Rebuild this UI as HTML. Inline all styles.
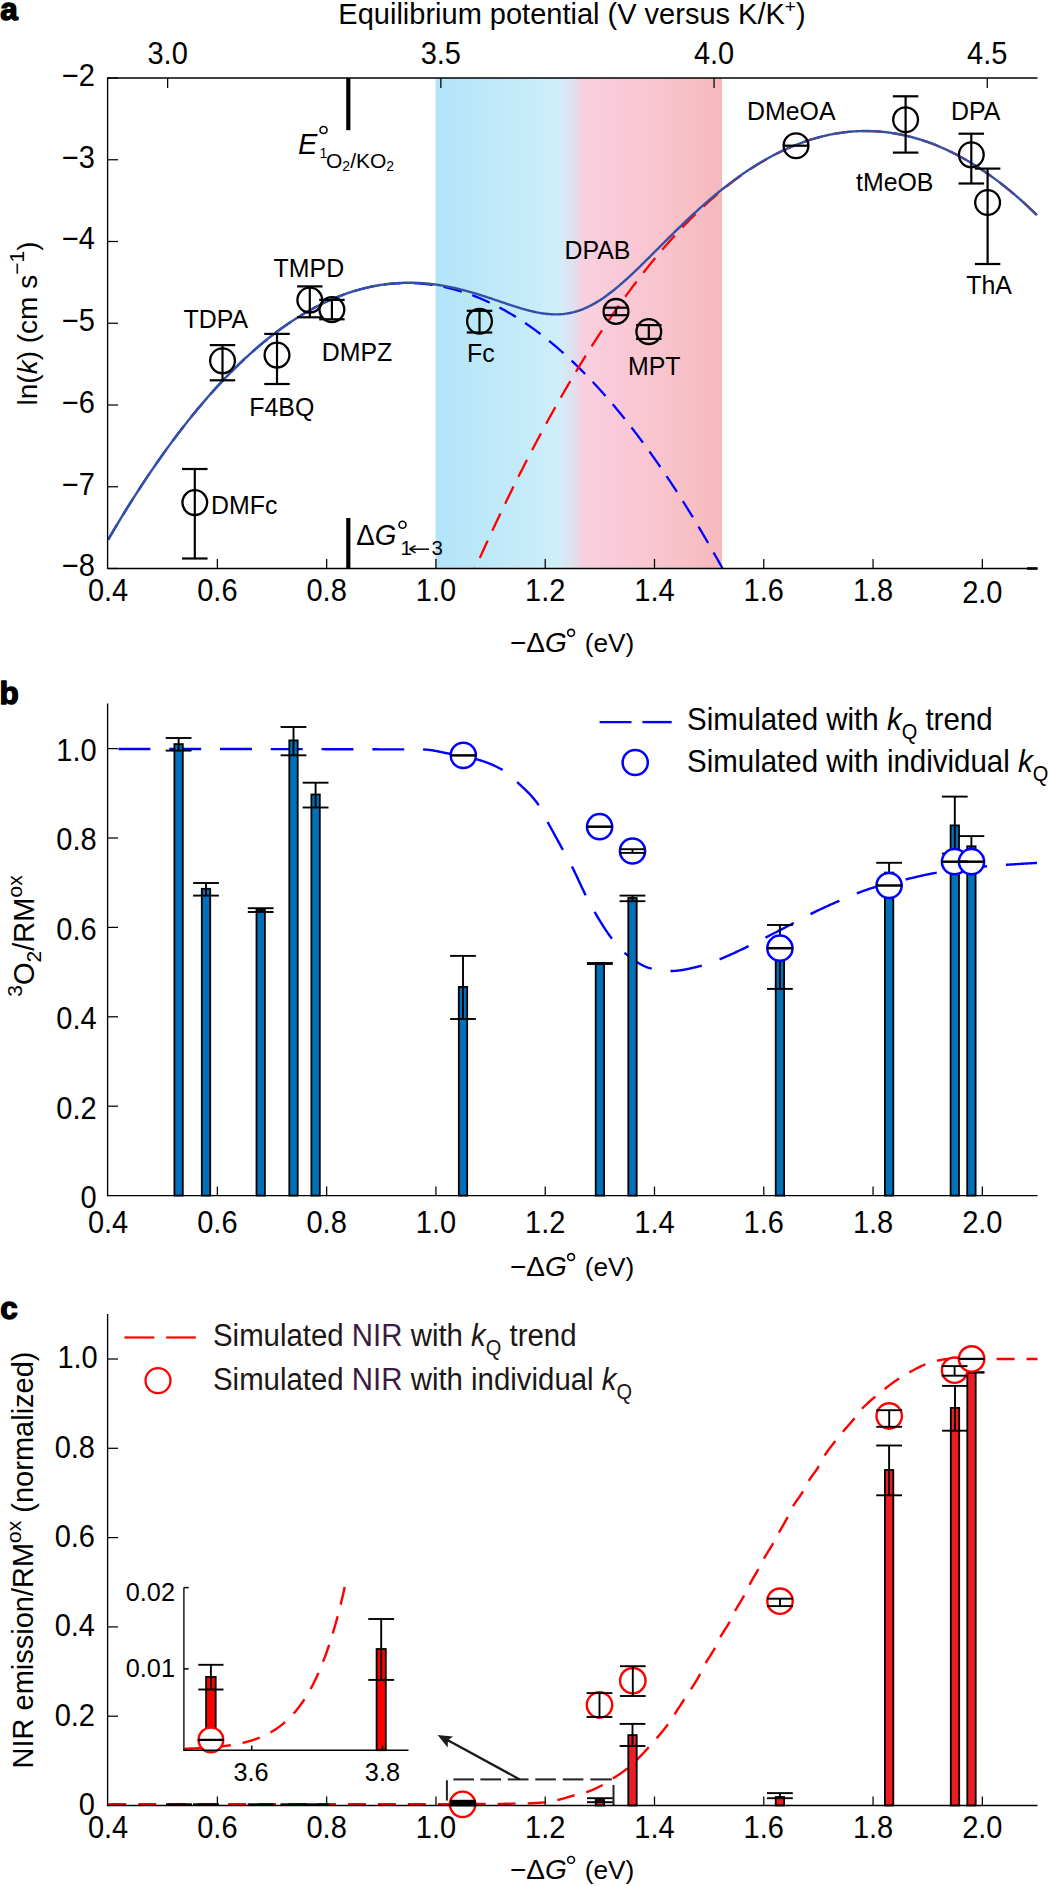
<!DOCTYPE html>
<html><head><meta charset="utf-8"><style>
html,body{margin:0;padding:0;background:#fff;}
svg{display:block;font-family:"Liberation Sans", sans-serif;}
</style></head><body>
<svg width="1048" height="1886" viewBox="0 0 1048 1886">
<rect width="1048" height="1886" fill="#fff"/>
<defs>
<linearGradient id="band" gradientUnits="userSpaceOnUse" x1="435.5" x2="722" y1="0" y2="0">
<stop offset="0" stop-color="#b2e4f8"/>
<stop offset="0.155" stop-color="#bce8f8"/>
<stop offset="0.295" stop-color="#c4eaf9"/>
<stop offset="0.42" stop-color="#cfeefa"/>
<stop offset="0.431" stop-color="#d0eef9"/>
<stop offset="0.4555" stop-color="#d8e7f4"/>
<stop offset="0.484" stop-color="#e1dfee"/>
<stop offset="0.5" stop-color="#ecd6e7"/>
<stop offset="0.516" stop-color="#f9cfe0"/>
<stop offset="0.645" stop-color="#f9c9d7"/>
<stop offset="0.8185" stop-color="#f8c3cb"/>
<stop offset="1" stop-color="#f6b8bb"/>
</linearGradient>
</defs>
<rect x="435.5" y="78" width="286.5" height="490.5" fill="url(#band)"/>
<path d="M108.1 539.72 L108.51 539.02 L108.92 538.32 L109.33 537.62 L109.74 536.92 L110.15 536.22 L110.56 535.52 L110.97 534.82 L111.38 534.13 L111.79 533.43 L112.2 532.74 L112.61 532.05 L113.02 531.35 L113.43 530.66 L113.83 529.97 L114.24 529.28 L114.65 528.6 L115.06 527.91 L115.47 527.22 L115.88 526.54 L116.29 525.85 L116.7 525.17 L117.11 524.49 L117.52 523.81 L117.93 523.12 L118.34 522.45 L118.75 521.77 L119.16 521.09 L119.57 520.41 L119.98 519.74 L120.39 519.06 L120.8 518.39 L121.21 517.72 L121.62 517.04 L122.03 516.37 L122.44 515.7 L122.85 515.03 L123.26 514.37 L123.67 513.7 L124.08 513.03 L124.49 512.37 L124.89 511.7 L125.3 511.04 L125.71 510.38 L126.12 509.72 L126.53 509.06 L126.94 508.4 L127.35 507.74 L127.76 507.08 L128.17 506.43 L128.58 505.77 L128.99 505.12 L129.4 504.46 L129.81 503.81 L130.22 503.16 L130.63 502.51 L131.04 501.86 L131.45 501.21 L131.86 500.56 L132.27 499.92 L132.68 499.27 L133.09 498.63 L133.5 497.98 L133.91 497.34 L134.32 496.7 L134.73 496.06 L135.14 495.42 L135.55 494.78 L135.95 494.14 L136.36 493.5 L136.77 492.87 L137.18 492.23 L137.59 491.6 L138 490.96 L138.41 490.33 L138.82 489.7 L139.23 489.07 L139.64 488.44 L140.05 487.81 L140.46 487.18 L140.87 486.56 L141.28 485.93 L141.69 485.31 L142.1 484.68 L142.51 484.06 L142.92 483.44 L143.33 482.82 L143.74 482.2 L144.15 481.58 L144.56 480.96 L144.97 480.34 L145.38 479.73 L145.79 479.11 L146.2 478.5 L146.61 477.89 L147.01 477.27 L147.42 476.66 L147.83 476.05 L148.24 475.44 L148.65 474.84 L149.06 474.23 L149.47 473.62 L149.88 473.02 L150.29 472.41 L150.7 471.81 L151.11 471.21 L151.52 470.6 L151.93 470 L152.34 469.4 L152.75 468.81 L153.16 468.21 L153.57 467.61 L153.98 467.02 L154.39 466.42 L154.8 465.83 L155.21 465.23 L155.62 464.64 L156.03 464.05 L156.44 463.46 L156.85 462.87 L157.26 462.29 L157.67 461.7 L158.07 461.11 L158.48 460.53 L158.89 459.94 L159.3 459.36 L159.71 458.78 L160.12 458.2 L160.53 457.62 L160.94 457.04 L161.35 456.46 L161.76 455.88 L162.17 455.3 L162.58 454.73 L162.99 454.15 L163.4 453.58 L163.81 453.01 L164.22 452.44 L164.63 451.87 L165.04 451.3 L165.45 450.73 L165.86 450.16 L166.27 449.59 L166.68 449.03 L167.09 448.46 L167.5 447.9 L167.91 447.34 L168.32 446.77 L168.73 446.21 L169.13 445.65 L169.54 445.09 L169.95 444.53 L170.36 443.98 L170.77 443.42 L171.18 442.87 L171.59 442.31 L172 441.76 L172.41 441.21 L172.82 440.65 L173.23 440.1 L173.64 439.55 L174.05 439.01 L174.46 438.46 L174.87 437.91 L175.28 437.37 L175.69 436.82 L176.1 436.28 L176.51 435.74 L176.92 435.19 L177.33 434.65 L177.74 434.11 L178.15 433.57 L178.56 433.04 L178.97 432.5 L179.38 431.96 L179.79 431.43 L180.19 430.89 L180.6 430.36 L181.01 429.83 L181.42 429.3 L181.83 428.77 L182.24 428.24 L182.65 427.71 L183.06 427.18 L183.47 426.66 L183.88 426.13 L184.29 425.61 L184.7 425.08 L185.11 424.56 L185.52 424.04 L185.93 423.52 L186.34 423 L186.75 422.48 L187.16 421.96 L187.57 421.45 L187.98 420.93 L188.39 420.41 L188.8 419.9 L189.21 419.39 L189.62 418.88 L190.03 418.37 L190.44 417.86 L190.85 417.35 L191.25 416.84 L191.66 416.33 L192.07 415.82 L192.48 415.32 L192.89 414.82 L193.3 414.31 L193.71 413.81 L194.12 413.31 L194.53 412.81 L194.94 412.31 L195.35 411.81 L195.76 411.31 L196.17 410.82 L196.58 410.32 L196.99 409.83 L197.4 409.33 L197.81 408.84 L198.22 408.35 L198.63 407.86 L199.04 407.37 L199.45 406.88 L199.86 406.39 L200.27 405.9 L200.68 405.42 L201.09 404.93 L201.5 404.45 L201.91 403.97 L202.31 403.48 L202.72 403 L203.13 402.52 L203.54 402.04 L203.95 401.57 L204.36 401.09 L204.77 400.61 L205.18 400.14 L205.59 399.66 L206 399.19 L206.41 398.72 L206.82 398.24 L207.23 397.77 L207.64 397.3 L208.05 396.84 L208.46 396.37 L208.87 395.9 L209.28 395.44 L209.69 394.97 L210.1 394.51 L210.51 394.04 L210.92 393.58 L211.33 393.12 L211.74 392.66 L212.15 392.2 L212.56 391.75 L212.97 391.29 L213.37 390.83 L213.78 390.38 L214.19 389.92 L214.6 389.47 L215.01 389.02 L215.42 388.57 L215.83 388.12 L216.24 387.67 L216.65 387.22 L217.06 386.77 L217.47 386.32 L217.88 385.88 L218.29 385.43 L218.7 384.99 L219.11 384.55 L219.52 384.11 L219.93 383.67 L220.34 383.23 L220.75 382.79 L221.16 382.35 L221.57 381.91 L221.98 381.48 L222.39 381.04 L222.8 380.61 L223.21 380.18 L223.62 379.74 L224.03 379.31 L224.43 378.88 L224.84 378.45 L225.25 378.03 L225.66 377.6 L226.07 377.17 L226.48 376.75 L226.89 376.32 L227.3 375.9 L227.71 375.48 L228.12 375.06 L228.53 374.63 L228.94 374.22 L229.35 373.8 L229.76 373.38 L230.17 372.96 L230.58 372.55 L230.99 372.13 L231.4 371.72 L231.81 371.31 L232.22 370.89 L232.63 370.48 L233.04 370.07 L233.45 369.66 L233.86 369.26 L234.27 368.85 L234.68 368.44 L235.09 368.04 L235.49 367.63 L235.9 367.23 L236.31 366.83 L236.72 366.43 L237.13 366.03 L237.54 365.63 L237.95 365.23 L238.36 364.83 L238.77 364.44 L239.18 364.04 L239.59 363.65 L240 363.25 L240.41 362.86 L240.82 362.47 L241.23 362.08 L241.64 361.69 L242.05 361.3 L242.46 360.91 L242.87 360.53 L243.28 360.14 L243.69 359.76 L244.1 359.37 L244.51 358.99 L244.92 358.61 L245.33 358.23 L245.74 357.85 L246.15 357.47 L246.55 357.09 L246.96 356.71 L247.37 356.34 L247.78 355.96 L248.19 355.59 L248.6 355.21 L249.01 354.84 L249.42 354.47 L249.83 354.1 L250.24 353.73 L250.65 353.36 L251.06 352.99 L251.47 352.63 L251.88 352.26 L252.29 351.9 L252.7 351.53 L253.11 351.17 L253.52 350.81 L253.93 350.45 L254.34 350.09 L254.75 349.73 L255.16 349.37 L255.57 349.02 L255.98 348.66 L256.39 348.3 L256.8 347.95 L257.2 347.6 L257.61 347.25 L258.02 346.89 L258.43 346.54 L258.84 346.19 L259.25 345.85 L259.66 345.5 L260.07 345.15 L260.48 344.81 L260.89 344.46 L261.3 344.12 L261.71 343.78 L262.12 343.44 L262.53 343.1 L262.94 342.76 L263.35 342.42 L263.76 342.08 L264.17 341.74 L264.58 341.41 L264.99 341.07 L265.4 340.74 L265.81 340.41 L266.22 340.07 L266.63 339.74 L267.04 339.41 L267.45 339.08 L267.86 338.76 L268.26 338.43 L268.67 338.1 L269.08 337.78 L269.49 337.45 L269.9 337.13 L270.31 336.81 L270.72 336.49 L271.13 336.17 L271.54 335.85 L271.95 335.53 L272.36 335.21 L272.77 334.9 L273.18 334.58 L273.59 334.27 L274 333.95 L274.41 333.64 L274.82 333.33 L275.23 333.02 L275.64 332.71 L276.05 332.4 L276.46 332.09 L276.87 331.78 L277.28 331.48 L277.69 331.17 L278.1 330.87 L278.51 330.57 L278.92 330.27 L279.32 329.96 L279.73 329.66 L280.14 329.36 L280.55 329.07 L280.96 328.77 L281.37 328.47 L281.78 328.18 L282.19 327.88 L282.6 327.59 L283.01 327.3 L283.42 327.01 L283.83 326.72 L284.24 326.43 L284.65 326.14 L285.06 325.85 L285.47 325.56 L285.88 325.28 L286.29 324.99 L286.7 324.71 L287.11 324.43 L287.52 324.15 L287.93 323.87 L288.34 323.59 L288.75 323.31 L289.16 323.03 L289.57 322.75 L289.98 322.48 L290.38 322.2 L290.79 321.93 L291.2 321.65 L291.61 321.38 L292.02 321.11 L292.43 320.84 L292.84 320.57 L293.25 320.3 L293.66 320.04 L294.07 319.77 L294.48 319.5 L294.89 319.24 L295.3 318.98 L295.71 318.71 L296.12 318.45 L296.53 318.19 L296.94 317.93 L297.35 317.67 L297.76 317.41 L298.17 317.16 L298.58 316.9 L298.99 316.65 L299.4 316.39 L299.81 316.14 L300.22 315.89 L300.63 315.64 L301.04 315.39 L301.44 315.14 L301.85 314.89 L302.26 314.64 L302.67 314.4 L303.08 314.15 L303.49 313.91 L303.9 313.67 L304.31 313.42 L304.72 313.18 L305.13 312.94 L305.54 312.7 L305.95 312.46 L306.36 312.23 L306.77 311.99 L307.18 311.75 L307.59 311.52 L308 311.29 L308.41 311.05 L308.82 310.82 L309.23 310.59 L309.64 310.36 L310.05 310.13 L310.46 309.9 L310.87 309.68 L311.28 309.45 L311.69 309.23 L312.1 309 L312.5 308.78 L312.91 308.56 L313.32 308.34 L313.73 308.12 L314.14 307.9 L314.55 307.68 L314.96 307.46 L315.37 307.25 L315.78 307.03 L316.19 306.82 L316.6 306.6 L317.01 306.39 L317.42 306.18 L317.83 305.97 L318.24 305.76 L318.65 305.55 L319.06 305.34 L319.47 305.14 L319.88 304.93 L320.29 304.73 L320.7 304.52 L321.11 304.32 L321.52 304.12 L321.93 303.92 L322.34 303.72 L322.75 303.52 L323.16 303.32 L323.56 303.12 L323.97 302.93 L324.38 302.73 L324.79 302.54 L325.2 302.34 L325.61 302.15 L326.02 301.96 L326.43 301.77 L326.84 301.58 L327.25 301.39 L327.66 301.21 L328.07 301.02 L328.48 300.83 L328.89 300.65 L329.3 300.47 L329.71 300.28 L330.12 300.1 L330.53 299.92 L330.94 299.74 L331.35 299.56 L331.76 299.38 L332.17 299.21 L332.58 299.03 L332.99 298.86 L333.4 298.68 L333.81 298.51 L334.22 298.34 L334.62 298.17 L335.03 298 L335.44 297.83 L335.85 297.66 L336.26 297.49 L336.67 297.33 L337.08 297.16 L337.49 297 L337.9 296.83 L338.31 296.67 L338.72 296.51 L339.13 296.35 L339.54 296.19 L339.95 296.03 L340.36 295.87 L340.77 295.72 L341.18 295.56 L341.59 295.41 L342 295.25 L342.41 295.1 L342.82 294.95 L343.23 294.8 L343.64 294.65 L344.05 294.5 L344.46 294.35 L344.87 294.2 L345.28 294.06 L345.68 293.91 L346.09 293.77 L346.5 293.63 L346.91 293.48 L347.32 293.34 L347.73 293.2 L348.14 293.06 L348.55 292.93 L348.96 292.79 L349.37 292.65 L349.78 292.52 L350.19 292.38 L350.6 292.25 L351.01 292.12 L351.42 291.98 L351.83 291.85 L352.24 291.72 L352.65 291.6 L353.06 291.47 L353.47 291.34 L353.88 291.22 L354.29 291.09 L354.7 290.97 L355.11 290.84 L355.52 290.72 L355.93 290.6 L356.34 290.48 L356.74 290.36 L357.15 290.24 L357.56 290.13 L357.97 290.01 L358.38 289.9 L358.79 289.78 L359.2 289.67 L359.61 289.56 L360.02 289.44 L360.43 289.33 L360.84 289.23 L361.25 289.12 L361.66 289.01 L362.07 288.9 L362.48 288.8 L362.89 288.69 L363.3 288.59 L363.71 288.49 L364.12 288.38 L364.53 288.28 L364.94 288.18 L365.35 288.09 L365.76 287.99 L366.17 287.89 L366.58 287.79 L366.99 287.7 L367.4 287.61 L367.8 287.51 L368.21 287.42 L368.62 287.33 L369.03 287.24 L369.44 287.15 L369.85 287.06 L370.26 286.98 L370.67 286.89 L371.08 286.8 L371.49 286.72 L371.9 286.64 L372.31 286.55 L372.72 286.47 L373.13 286.39 L373.54 286.31 L373.95 286.23 L374.36 286.16 L374.77 286.08 L375.18 286 L375.59 285.93 L376 285.86 L376.41 285.78 L376.82 285.71 L377.23 285.64 L377.64 285.57 L378.05 285.5 L378.46 285.43 L378.86 285.37 L379.27 285.3 L379.68 285.23 L380.09 285.17 L380.5 285.11 L380.91 285.05 L381.32 284.98 L381.73 284.92 L382.14 284.86 L382.55 284.81 L382.96 284.75 L383.37 284.69 L383.78 284.64 L384.19 284.58 L384.6 284.53 L385.01 284.48 L385.42 284.42 L385.83 284.37 L386.24 284.32 L386.65 284.28 L387.06 284.23 L387.47 284.18 L387.88 284.14 L388.29 284.09 L388.7 284.05 L389.11 284 L389.52 283.96 L389.92 283.92 L390.33 283.88 L390.74 283.84 L391.15 283.8 L391.56 283.77 L391.97 283.73 L392.38 283.69 L392.79 283.66 L393.2 283.63 L393.61 283.6 L394.02 283.56 L394.43 283.53 L394.84 283.5 L395.25 283.48 L395.66 283.45 L396.07 283.42 L396.48 283.4 L396.89 283.37 L397.3 283.35 L397.71 283.32 L398.12 283.3 L398.53 283.28 L398.94 283.26 L399.35 283.24 L399.76 283.23 L400.17 283.21 L400.58 283.19 L400.98 283.18 L401.39 283.16 L401.8 283.15 L402.21 283.14 L402.62 283.13 L403.03 283.12 L403.44 283.11 L403.85 283.1 L404.26 283.09 L404.67 283.09 L405.08 283.08 L405.49 283.08 L405.9 283.07 L406.31 283.07 L406.72 283.07 L407.13 283.07 L407.54 283.07 L407.95 283.07 L408.36 283.07 L408.77 283.08 L409.18 283.08 L409.59 283.09 L410 283.09 L410.41 283.1 L410.82 283.11 L411.23 283.12 L411.64 283.13 L412.04 283.14 L412.45 283.15 L412.86 283.16 L413.27 283.18 L413.68 283.19 L414.09 283.21 L414.5 283.22 L414.91 283.24 L415.32 283.26 L415.73 283.28 L416.14 283.3 L416.55 283.32 L416.96 283.34 L417.37 283.37 L417.78 283.39 L418.19 283.42 L418.6 283.44 L419.01 283.47 L419.42 283.5 L419.83 283.53 L420.24 283.56 L420.65 283.59 L421.06 283.62 L421.47 283.66 L421.88 283.69 L422.29 283.72 L422.7 283.76 L423.1 283.8 L423.51 283.84 L423.92 283.87 L424.33 283.91 L424.74 283.96 L425.15 284 L425.56 284.04 L425.97 284.08 L426.38 284.13 L426.79 284.17 L427.2 284.22 L427.61 284.27 L428.02 284.32 L428.43 284.37 L428.84 284.42 L429.25 284.47 L429.66 284.52 L430.07 284.57 L430.48 284.63 L430.89 284.68 L431.3 284.74 L431.71 284.8 L432.12 284.86 L432.53 284.91 L432.94 284.97 L433.35 285.04 L433.76 285.1 L434.16 285.16 L434.57 285.22 L434.98 285.29 L435.39 285.36 L435.8 285.42 L436.21 285.49 L436.62 285.56 L437.03 285.63 L437.44 285.7 L437.85 285.77 L438.26 285.84 L438.67 285.92 L439.08 285.99 L439.49 286.07 L439.9 286.14 L440.31 286.22 L440.72 286.3 L441.13 286.38 L441.54 286.46 L441.95 286.54 L442.36 286.62 L442.77 286.71 L443.18 286.79 L443.59 286.88 L444 286.96 L444.41 287.05 L444.82 287.14 L445.22 287.23 L445.63 287.32 L446.04 287.41 L446.45 287.5 L446.86 287.59 L447.27 287.69 L447.68 287.78 L448.09 287.88 L448.5 287.97 L448.91 288.07 L449.32 288.17 L449.73 288.27 L450.14 288.37 L450.55 288.47 L450.96 288.57 L451.37 288.68 L451.78 288.78 L452.19 288.89 L452.6 288.99 L453.01 289.1 L453.42 289.21 L453.83 289.32 L454.24 289.43 L454.65 289.54 L455.06 289.65 L455.47 289.76 L455.88 289.88 L456.28 289.99 L456.69 290.11 L457.1 290.23 L457.51 290.34 L457.92 290.46 L458.33 290.58 L458.74 290.7 L459.15 290.83 L459.56 290.95 L459.97 291.07 L460.38 291.2 L460.79 291.32 L461.2 291.45 L461.61 291.58 L462.02 291.7 L462.43 291.83 L462.84 291.96 L463.25 292.1 L463.66 292.23 L464.07 292.36 L464.48 292.5 L464.89 292.63 L465.3 292.77 L465.71 292.9 L466.12 293.04 L466.53 293.18 L466.94 293.32 L467.34 293.46 L467.75 293.6 L468.16 293.75 L468.57 293.89 L468.98 294.04 L469.39 294.18 L469.8 294.33 L470.21 294.48 L470.62 294.62 L471.03 294.77 L471.44 294.93 L471.85 295.08 L472.26 295.23 L472.67 295.38 L473.08 295.54 L473.49 295.69 L473.9 295.85 L474.31 296.01 L474.72 296.17 L475.13 296.32 L475.54 296.48 L475.95 296.65 L476.36 296.81 L476.77 296.97 L477.18 297.14 L477.59 297.3 L478 297.47 L478.4 297.63 L478.81 297.8 L479.22 297.97 L479.63 298.14 L480.04 298.31 L480.45 298.48 L480.86 298.66 L481.27 298.83 L481.68 299 L482.09 299.18 L482.5 299.36 L482.91 299.53 L483.32 299.71 L483.73 299.89 L484.14 300.07 L484.55 300.25 L484.96 300.44 L485.37 300.62 L485.78 300.8 L486.19 300.99 L486.6 301.18 L487.01 301.36 L487.42 301.55 L487.83 301.74 L488.24 301.93 L488.65 302.12 L489.06 302.31 L489.46 302.51 L489.87 302.7 L490.28 302.9 L490.69 303.09 L491.1 303.29 L491.51 303.49 L491.92 303.69 L492.33 303.88 L492.74 304.09 L493.15 304.29 L493.56 304.49 L493.97 304.69 L494.38 304.9 L494.79 305.1 L495.2 305.31 L495.61 305.52 L496.02 305.73 L496.43 305.94 L496.84 306.15 L497.25 306.36 L497.66 306.57 L498.07 306.78 L498.48 307 L498.89 307.21 L499.3 307.43 L499.71 307.65 L500.12 307.86 L500.52 308.08 L500.93 308.3 L501.34 308.52 L501.75 308.74 L502.16 308.97 L502.57 309.19 L502.98 309.42 L503.39 309.64 L503.8 309.87 L504.21 310.1 L504.62 310.33 L505.03 310.55 L505.44 310.79 L505.85 311.02 L506.26 311.25 L506.67 311.48 L507.08 311.72 L507.49 311.95 L507.9 312.19 L508.31 312.43 L508.72 312.66 L509.13 312.9 L509.54 313.14 L509.95 313.39 L510.36 313.63 L510.77 313.87 L511.18 314.11 L511.58 314.36 L511.99 314.61 L512.4 314.85 L512.81 315.1 L513.22 315.35 L513.63 315.6 L514.04 315.85 L514.45 316.1 L514.86 316.35 L515.27 316.61 L515.68 316.86 L516.09 317.12 L516.5 317.37 L516.91 317.63 L517.32 317.89 L517.73 318.15 L518.14 318.41 L518.55 318.67 L518.96 318.93 L519.37 319.2 L519.78 319.46 L520.19 319.73 L520.6 319.99 L521.01 320.26 L521.42 320.53 L521.83 320.8 L522.24 321.07 L522.64 321.34 L523.05 321.61 L523.46 321.88 L523.87 322.16 L524.28 322.43 L524.69 322.71 L525.1 322.99 L525.51 323.26 L525.92 323.54 L526.33 323.82 L526.74 324.1 L527.15 324.38 L527.56 324.67 L527.97 324.95 L528.38 325.23 L528.79 325.52 L529.2 325.81 L529.61 326.09 L530.02 326.38 L530.43 326.67 L530.84 326.96 L531.25 327.25 L531.66 327.55 L532.07 327.84 L532.48 328.13 L532.89 328.43 L533.3 328.72 L533.7 329.02 L534.11 329.32 L534.52 329.62 L534.93 329.92 L535.34 330.22 L535.75 330.52 L536.16 330.82 L536.57 331.13 L536.98 331.43 L537.39 331.74 L537.8 332.04 L538.21 332.35 L538.62 332.66 L539.03 332.97 L539.44 333.28 L539.85 333.59 L540.26 333.9 L540.67 334.22 L541.08 334.53 L541.49 334.85 L541.9 335.16 L542.31 335.48 L542.72 335.8 L543.13 336.12 L543.54 336.44 L543.95 336.76 L544.36 337.08 L544.76 337.4 L545.17 337.73 L545.58 338.05 L545.99 338.38 L546.4 338.71 L546.81 339.03 L547.22 339.36 L547.63 339.69 L548.04 340.02 L548.45 340.35 L548.86 340.69 L549.27 341.02 L549.68 341.36 L550.09 341.69 L550.5 342.03 L550.91 342.36 L551.32 342.7 L551.73 343.04 L552.14 343.38 L552.55 343.72 L552.96 344.07 L553.37 344.41 L553.78 344.75 L554.19 345.1 L554.6 345.45 L555.01 345.79 L555.41 346.14 L555.82 346.49 L556.23 346.84 L556.64 347.19 L557.05 347.54 L557.46 347.9 L557.87 348.25 L558.28 348.6 L558.69 348.96 L559.1 349.32 L559.51 349.67 L559.92 350.03 L560.33 350.39 L560.74 350.75 L561.15 351.11 L561.56 351.48 L561.97 351.84 L562.38 352.2 L562.79 352.57 L563.2 352.94 L563.61 353.3 L564.02 353.67 L564.43 354.04 L564.84 354.41 L565.25 354.78 L565.66 355.16 L566.07 355.53 L566.47 355.9 L566.88 356.28 L567.29 356.65 L567.7 357.03 L568.11 357.41 L568.52 357.79 L568.93 358.17 L569.34 358.55 L569.75 358.93 L570.16 359.31 L570.57 359.7 L570.98 360.08 L571.39 360.47 L571.8 360.85 L572.21 361.24 L572.62 361.63 L573.03 362.02 L573.44 362.41 L573.85 362.8 L574.26 363.19 L574.67 363.59 L575.08 363.98 L575.49 364.38 L575.9 364.77 L576.31 365.17 L576.72 365.57 L577.13 365.97 L577.53 366.37 L577.94 366.77 L578.35 367.17 L578.76 367.57 L579.17 367.98 L579.58 368.38 L579.99 368.79 L580.4 369.19 L580.81 369.6 L581.22 370.01 L581.63 370.42 L582.04 370.83 L582.45 371.24 L582.86 371.65 L583.27 372.07 L583.68 372.48 L584.09 372.9 L584.5 373.31 L584.91 373.73 L585.32 374.15 L585.73 374.57 L586.14 374.99 L586.55 375.41 L586.96 375.83 L587.37 376.26 L587.78 376.68 L588.19 377.11 L588.59 377.53 L589 377.96 L589.41 378.39 L589.82 378.82 L590.23 379.25 L590.64 379.68 L591.05 380.11 L591.46 380.54 L591.87 380.97 L592.28 381.41 L592.69 381.85 L593.1 382.28 L593.51 382.72 L593.92 383.16 L594.33 383.6 L594.74 384.04 L595.15 384.48 L595.56 384.92 L595.97 385.37 L596.38 385.81 L596.79 386.26 L597.2 386.7 L597.61 387.15 L598.02 387.6 L598.43 388.05 L598.84 388.5 L599.25 388.95 L599.65 389.4 L600.06 389.85 L600.47 390.31 L600.88 390.76 L601.29 391.22 L601.7 391.67 L602.11 392.13 L602.52 392.59 L602.93 393.05 L603.34 393.51 L603.75 393.97 L604.16 394.44 L604.57 394.9 L604.98 395.36 L605.39 395.83 L605.8 396.3 L606.21 396.76 L606.62 397.23 L607.03 397.7 L607.44 398.17 L607.85 398.64 L608.26 399.12 L608.67 399.59 L609.08 400.06 L609.49 400.54 L609.9 401.01 L610.31 401.49 L610.71 401.97 L611.12 402.45 L611.53 402.93 L611.94 403.41 L612.35 403.89 L612.76 404.37 L613.17 404.86 L613.58 405.34 L613.99 405.83 L614.4 406.32 L614.81 406.8 L615.22 407.29 L615.63 407.78 L616.04 408.27 L616.45 408.76 L616.86 409.26 L617.27 409.75 L617.68 410.24 L618.09 410.74 L618.5 411.24 L618.91 411.73 L619.32 412.23 L619.73 412.73 L620.14 413.23 L620.55 413.73 L620.96 414.23 L621.37 414.74 L621.77 415.24 L622.18 415.75 L622.59 416.25 L623 416.76 L623.41 417.27 L623.82 417.78 L624.23 418.29 L624.64 418.8 L625.05 419.31 L625.46 419.82 L625.87 420.33 L626.28 420.85 L626.69 421.37 L627.1 421.88 L627.51 422.4 L627.92 422.92 L628.33 423.44 L628.74 423.96 L629.15 424.48 L629.56 425 L629.97 425.52 L630.38 426.05 L630.79 426.57 L631.2 427.1 L631.61 427.63 L632.02 428.16 L632.43 428.68 L632.83 429.21 L633.24 429.75 L633.65 430.28 L634.06 430.81 L634.47 431.34 L634.88 431.88 L635.29 432.42 L635.7 432.95 L636.11 433.49 L636.52 434.03 L636.93 434.57 L637.34 435.11 L637.75 435.65 L638.16 436.19 L638.57 436.74 L638.98 437.28 L639.39 437.83 L639.8 438.37 L640.21 438.92 L640.62 439.47 L641.03 440.02 L641.44 440.57 L641.85 441.12 L642.26 441.67 L642.67 442.23 L643.08 442.78 L643.49 443.33 L643.89 443.89 L644.3 444.45 L644.71 445.01 L645.12 445.56 L645.53 446.12 L645.94 446.69 L646.35 447.25 L646.76 447.81 L647.17 448.37 L647.58 448.94 L647.99 449.5 L648.4 450.07 L648.81 450.64 L649.22 451.21 L649.63 451.78 L650.04 452.35 L650.45 452.92 L650.86 453.49 L651.27 454.06 L651.68 454.64 L652.09 455.21 L652.5 455.79 L652.91 456.37 L653.32 456.95 L653.73 457.53 L654.14 458.11 L654.55 458.69 L654.95 459.27 L655.36 459.85 L655.77 460.44 L656.18 461.02 L656.59 461.61 L657 462.19 L657.41 462.78 L657.82 463.37 L658.23 463.96 L658.64 464.55 L659.05 465.14 L659.46 465.74 L659.87 466.33 L660.28 466.92 L660.69 467.52 L661.1 468.12 L661.51 468.71 L661.92 469.31 L662.33 469.91 L662.74 470.51 L663.15 471.11 L663.56 471.71 L663.97 472.32 L664.38 472.92 L664.79 473.53 L665.2 474.13 L665.61 474.74 L666.01 475.35 L666.42 475.96 L666.83 476.57 L667.24 477.18 L667.65 477.79 L668.06 478.4 L668.47 479.02 L668.88 479.63 L669.29 480.25 L669.7 480.87 L670.11 481.48 L670.52 482.1 L670.93 482.72 L671.34 483.34 L671.75 483.96 L672.16 484.59 L672.57 485.21 L672.98 485.83 L673.39 486.46 L673.8 487.09 L674.21 487.71 L674.62 488.34 L675.03 488.97 L675.44 489.6 L675.85 490.23 L676.26 490.86 L676.67 491.5 L677.07 492.13 L677.48 492.77 L677.89 493.4 L678.3 494.04 L678.71 494.68 L679.12 495.32 L679.53 495.96 L679.94 496.6 L680.35 497.24 L680.76 497.88 L681.17 498.52 L681.58 499.17 L681.99 499.82 L682.4 500.46 L682.81 501.11 L683.22 501.76 L683.63 502.41 L684.04 503.06 L684.45 503.71 L684.86 504.36 L685.27 505.01 L685.68 505.67 L686.09 506.32 L686.5 506.98 L686.91 507.64 L687.32 508.3 L687.73 508.96 L688.13 509.62 L688.54 510.28 L688.95 510.94 L689.36 511.6 L689.77 512.27 L690.18 512.93 L690.59 513.6 L691 514.26 L691.41 514.93 L691.82 515.6 L692.23 516.27 L692.64 516.94 L693.05 517.61 L693.46 518.28 L693.87 518.96 L694.28 519.63 L694.69 520.31 L695.1 520.98 L695.51 521.66 L695.92 522.34 L696.33 523.02 L696.74 523.7 L697.15 524.38 L697.56 525.06 L697.97 525.75 L698.38 526.43 L698.79 527.12 L699.19 527.8 L699.6 528.49 L700.01 529.18 L700.42 529.87 L700.83 530.56 L701.24 531.25 L701.65 531.94 L702.06 532.63 L702.47 533.32 L702.88 534.02 L703.29 534.72 L703.7 535.41 L704.11 536.11 L704.52 536.81 L704.93 537.51 L705.34 538.21 L705.75 538.91 L706.16 539.61 L706.57 540.32 L706.98 541.02 L707.39 541.73 L707.8 542.43 L708.21 543.14 L708.62 543.85 L709.03 544.56 L709.44 545.27 L709.85 545.98 L710.25 546.69 L710.66 547.4 L711.07 548.12 L711.48 548.83 L711.89 549.55 L712.3 550.26 L712.71 550.98 L713.12 551.7 L713.53 552.42 L713.94 553.14 L714.35 553.86 L714.76 554.59 L715.17 555.31 L715.58 556.03 L715.99 556.76 L716.4 557.49 L716.81 558.21 L717.22 558.94 L717.63 559.67 L718.04 560.4 L718.45 561.13 L718.86 561.87 L719.27 562.6 L719.68 563.33 L720.09 564.07 L720.5 564.8 L720.91 565.54 L721.31 566.28 L721.72 567.02 L722.13 567.76 L722.54 568.5" fill="none" stroke="#0000ff" stroke-width="2.3" stroke-dasharray="18.965 10.979" stroke-dashoffset="1.46"/>
<path d="M475.05 568.5 L475.43 567.66 L475.8 566.82 L476.18 565.99 L476.55 565.15 L476.93 564.31 L477.3 563.48 L477.68 562.65 L478.05 561.81 L478.43 560.98 L478.8 560.15 L479.18 559.32 L479.55 558.49 L479.92 557.66 L480.3 556.83 L480.67 556 L481.05 555.18 L481.42 554.35 L481.8 553.53 L482.17 552.7 L482.55 551.88 L482.92 551.06 L483.3 550.24 L483.67 549.41 L484.05 548.59 L484.42 547.77 L484.79 546.96 L485.17 546.14 L485.54 545.32 L485.92 544.51 L486.29 543.69 L486.67 542.88 L487.04 542.06 L487.42 541.25 L487.79 540.44 L488.17 539.63 L488.54 538.81 L488.92 538.01 L489.29 537.2 L489.66 536.39 L490.04 535.58 L490.41 534.77 L490.79 533.97 L491.16 533.16 L491.54 532.36 L491.91 531.56 L492.29 530.75 L492.66 529.95 L493.04 529.15 L493.41 528.35 L493.79 527.55 L494.16 526.75 L494.53 525.96 L494.91 525.16 L495.28 524.36 L495.66 523.57 L496.03 522.77 L496.41 521.98 L496.78 521.19 L497.16 520.4 L497.53 519.6 L497.91 518.81 L498.28 518.02 L498.66 517.24 L499.03 516.45 L499.4 515.66 L499.78 514.87 L500.15 514.09 L500.53 513.3 L500.9 512.52 L501.28 511.74 L501.65 510.95 L502.03 510.17 L502.4 509.39 L502.78 508.61 L503.15 507.83 L503.53 507.05 L503.9 506.28 L504.27 505.5 L504.65 504.72 L505.02 503.95 L505.4 503.17 L505.77 502.4 L506.15 501.63 L506.52 500.86 L506.9 500.09 L507.27 499.32 L507.65 498.55 L508.02 497.78 L508.4 497.01 L508.77 496.24 L509.14 495.48 L509.52 494.71 L509.89 493.95 L510.27 493.18 L510.64 492.42 L511.02 491.66 L511.39 490.9 L511.77 490.13 L512.14 489.38 L512.52 488.62 L512.89 487.86 L513.27 487.1 L513.64 486.34 L514.01 485.59 L514.39 484.83 L514.76 484.08 L515.14 483.33 L515.51 482.57 L515.89 481.82 L516.26 481.07 L516.64 480.32 L517.01 479.57 L517.39 478.82 L517.76 478.07 L518.14 477.33 L518.51 476.58 L518.88 475.84 L519.26 475.09 L519.63 474.35 L520.01 473.6 L520.38 472.86 L520.76 472.12 L521.13 471.38 L521.51 470.64 L521.88 469.9 L522.26 469.16 L522.63 468.43 L523.01 467.69 L523.38 466.95 L523.75 466.22 L524.13 465.49 L524.5 464.75 L524.88 464.02 L525.25 463.29 L525.63 462.56 L526 461.83 L526.38 461.1 L526.75 460.37 L527.13 459.64 L527.5 458.92 L527.88 458.19 L528.25 457.46 L528.62 456.74 L529 456.02 L529.37 455.29 L529.75 454.57 L530.12 453.85 L530.5 453.13 L530.87 452.41 L531.25 451.69 L531.62 450.97 L532 450.26 L532.37 449.54 L532.75 448.82 L533.12 448.11 L533.49 447.4 L533.87 446.68 L534.24 445.97 L534.62 445.26 L534.99 444.55 L535.37 443.84 L535.74 443.13 L536.12 442.42 L536.49 441.71 L536.87 441.01 L537.24 440.3 L537.62 439.6 L537.99 438.89 L538.36 438.19 L538.74 437.49 L539.11 436.78 L539.49 436.08 L539.86 435.38 L540.24 434.68 L540.61 433.98 L540.99 433.29 L541.36 432.59 L541.74 431.89 L542.11 431.2 L542.49 430.5 L542.86 429.81 L543.23 429.12 L543.61 428.42 L543.98 427.73 L544.36 427.04 L544.73 426.35 L545.11 425.66 L545.48 424.97 L545.86 424.29 L546.23 423.6 L546.61 422.91 L546.98 422.23 L547.36 421.55 L547.73 420.86 L548.1 420.18 L548.48 419.5 L548.85 418.82 L549.23 418.14 L549.6 417.46 L549.98 416.78 L550.35 416.1 L550.73 415.42 L551.1 414.75 L551.48 414.07 L551.85 413.4 L552.23 412.72 L552.6 412.05 L552.97 411.38 L553.35 410.71 L553.72 410.04 L554.1 409.37 L554.47 408.7 L554.85 408.03 L555.22 407.36 L555.6 406.7 L555.97 406.03 L556.35 405.37 L556.72 404.7 L557.1 404.04 L557.47 403.38 L557.84 402.72 L558.22 402.05 L558.59 401.39 L558.97 400.74 L559.34 400.08 L559.72 399.42 L560.09 398.76 L560.47 398.11 L560.84 397.45 L561.22 396.8 L561.59 396.14 L561.97 395.49 L562.34 394.84 L562.71 394.19 L563.09 393.54 L563.46 392.89 L563.84 392.24 L564.21 391.59 L564.59 390.94 L564.96 390.3 L565.34 389.65 L565.71 389.01 L566.09 388.36 L566.46 387.72 L566.84 387.08 L567.21 386.44 L567.58 385.8 L567.96 385.16 L568.33 384.52 L568.71 383.88 L569.08 383.24 L569.46 382.6 L569.83 381.97 L570.21 381.33 L570.58 380.7 L570.96 380.06 L571.33 379.43 L571.71 378.8 L572.08 378.17 L572.45 377.54 L572.83 376.91 L573.2 376.28 L573.58 375.65 L573.95 375.03 L574.33 374.4 L574.7 373.77 L575.08 373.15 L575.45 372.53 L575.83 371.9 L576.2 371.28 L576.58 370.66 L576.95 370.04 L577.32 369.42 L577.7 368.8 L578.07 368.18 L578.45 367.56 L578.82 366.95 L579.2 366.33 L579.57 365.72 L579.95 365.1 L580.32 364.49 L580.7 363.88 L581.07 363.27 L581.45 362.65 L581.82 362.04 L582.19 361.43 L582.57 360.83 L582.94 360.22 L583.32 359.61 L583.69 359.01 L584.07 358.4 L584.44 357.8 L584.82 357.19 L585.19 356.59 L585.57 355.99 L585.94 355.39 L586.32 354.79 L586.69 354.19 L587.06 353.59 L587.44 352.99 L587.81 352.39 L588.19 351.79 L588.56 351.2 L588.94 350.6 L589.31 350.01 L589.69 349.42 L590.06 348.82 L590.44 348.23 L590.81 347.64 L591.19 347.05 L591.56 346.46 L591.93 345.87 L592.31 345.29 L592.68 344.7 L593.06 344.11 L593.43 343.53 L593.81 342.94 L594.18 342.36 L594.56 341.78 L594.93 341.2 L595.31 340.61 L595.68 340.03 L596.06 339.46 L596.43 338.88 L596.8 338.3 L597.18 337.72 L597.55 337.14 L597.93 336.57 L598.3 335.99 L598.68 335.42 L599.05 334.85 L599.43 334.28 L599.8 333.7 L600.18 333.13 L600.55 332.56 L600.93 331.99 L601.3 331.43 L601.67 330.86 L602.05 330.29 L602.42 329.73 L602.8 329.16 L603.17 328.6 L603.55 328.03 L603.92 327.47 L604.3 326.91 L604.67 326.35 L605.05 325.79 L605.42 325.23 L605.8 324.67 L606.17 324.11 L606.54 323.55 L606.92 323 L607.29 322.44 L607.67 321.89 L608.04 321.33 L608.42 320.78 L608.79 320.23 L609.17 319.68 L609.54 319.13 L609.92 318.58 L610.29 318.03 L610.67 317.48 L611.04 316.93 L611.41 316.39 L611.79 315.84 L612.16 315.29 L612.54 314.75 L612.91 314.21 L613.29 313.66 L613.66 313.12 L614.04 312.58 L614.41 312.04 L614.79 311.5 L615.16 310.96 L615.54 310.43 L615.91 309.89 L616.28 309.35 L616.66 308.82 L617.03 308.28 L617.41 307.75 L617.78 307.22 L618.16 306.69 L618.53 306.15 L618.91 305.62 L619.28 305.09 L619.66 304.56 L620.03 304.04 L620.41 303.51 L620.78 302.98 L621.16 302.46 L621.53 301.93 L621.9 301.41 L622.28 300.89 L622.65 300.36 L623.03 299.84 L623.4 299.32 L623.78 298.8 L624.15 298.28 L624.53 297.76 L624.9 297.25 L625.28 296.73 L625.65 296.21 L626.03 295.7 L626.4 295.18 L626.77 294.67 L627.15 294.16 L627.52 293.64 L627.9 293.13 L628.27 292.62 L628.65 292.11 L629.02 291.6 L629.4 291.1 L629.77 290.59 L630.15 290.08 L630.52 289.58 L630.9 289.07 L631.27 288.57 L631.64 288.07 L632.02 287.56 L632.39 287.06 L632.77 286.56 L633.14 286.06 L633.52 285.56 L633.89 285.06 L634.27 284.57 L634.64 284.07 L635.02 283.57 L635.39 283.08 L635.77 282.58 L636.14 282.09 L636.51 281.6 L636.89 281.11 L637.26 280.62 L637.64 280.13 L638.01 279.64 L638.39 279.15 L638.76 278.66 L639.14 278.17 L639.51 277.69 L639.89 277.2 L640.26 276.72 L640.64 276.23 L641.01 275.75 L641.38 275.27 L641.76 274.79 L642.13 274.31 L642.51 273.83 L642.88 273.35 L643.26 272.87 L643.63 272.39 L644.01 271.91 L644.38 271.44 L644.76 270.96 L645.13 270.49 L645.51 270.02 L645.88 269.54 L646.25 269.07 L646.63 268.6 L647 268.13 L647.38 267.66 L647.75 267.19 L648.13 266.73 L648.5 266.26 L648.88 265.79 L649.25 265.33 L649.63 264.86 L650 264.4 L650.38 263.94 L650.75 263.47 L651.12 263.01 L651.5 262.55 L651.87 262.09 L652.25 261.63 L652.62 261.18 L653 260.72 L653.37 260.26 L653.75 259.81 L654.12 259.35 L654.5 258.9 L654.87 258.44 L655.25 257.99 L655.62 257.54 L655.99 257.09 L656.37 256.64 L656.74 256.19 L657.12 255.74 L657.49 255.29 L657.87 254.85 L658.24 254.4 L658.62 253.96 L658.99 253.51 L659.37 253.07 L659.74 252.63 L660.12 252.18 L660.49 251.74 L660.86 251.3 L661.24 250.86 L661.61 250.42 L661.99 249.99 L662.36 249.55 L662.74 249.11 L663.11 248.68 L663.49 248.24 L663.86 247.81 L664.24 247.37 L664.61 246.94 L664.99 246.51 L665.36 246.08 L665.73 245.65 L666.11 245.22 L666.48 244.79 L666.86 244.37 L667.23 243.94 L667.61 243.51 L667.98 243.09 L668.36 242.66 L668.73 242.24 L669.11 241.82 L669.48 241.4 L669.86 240.97 L670.23 240.55 L670.6 240.13 L670.98 239.72 L671.35 239.3 L671.73 238.88 L672.1 238.47 L672.48 238.05 L672.85 237.64 L673.23 237.22 L673.6 236.81 L673.98 236.4 L674.35 235.98 L674.73 235.57 L675.1 235.16 L675.47 234.76 L675.85 234.35 L676.22 233.94 L676.6 233.53 L676.97 233.13 L677.35 232.72 L677.72 232.32 L678.1 231.92 L678.47 231.51 L678.85 231.11 L679.22 230.71 L679.6 230.31 L679.97 229.91 L680.34 229.51 L680.72 229.11 L681.09 228.72 L681.47 228.32 L681.84 227.93 L682.22 227.53 L682.59 227.14 L682.97 226.74 L683.34 226.35 L683.72 225.96 L684.09 225.57 L684.47 225.18 L684.84 224.79 L685.21 224.4 L685.59 224.02 L685.96 223.63 L686.34 223.25 L686.71 222.86 L687.09 222.48 L687.46 222.09 L687.84 221.71 L688.21 221.33 L688.59 220.95 L688.96 220.57 L689.34 220.19 L689.71 219.81 L690.08 219.43 L690.46 219.06 L690.83 218.68 L691.21 218.31 L691.58 217.93 L691.96 217.56 L692.33 217.18 L692.71 216.81 L693.08 216.44 L693.46 216.07 L693.83 215.7 L694.21 215.33 L694.58 214.96 L694.95 214.6 L695.33 214.23 L695.7 213.87 L696.08 213.5 L696.45 213.14 L696.83 212.77 L697.2 212.41 L697.58 212.05 L697.95 211.69 L698.33 211.33 L698.7 210.97 L699.08 210.61 L699.45 210.25 L699.82 209.9 L700.2 209.54 L700.57 209.19 L700.95 208.83 L701.32 208.48 L701.7 208.13 L702.07 207.78 L702.45 207.42 L702.82 207.07 L703.2 206.72 L703.57 206.38 L703.95 206.03 L704.32 205.68 L704.69 205.33 L705.07 204.99 L705.44 204.64 L705.82 204.3 L706.19 203.96 L706.57 203.62 L706.94 203.27 L707.32 202.93 L707.69 202.59 L708.07 202.26 L708.44 201.92 L708.82 201.58 L709.19 201.24 L709.56 200.91 L709.94 200.57 L710.31 200.24 L710.69 199.9 L711.06 199.57 L711.44 199.24 L711.81 198.91 L712.19 198.58 L712.56 198.25 L712.94 197.92 L713.31 197.59 L713.69 197.27 L714.06 196.94 L714.43 196.62 L714.81 196.29 L715.18 195.97 L715.56 195.64 L715.93 195.32 L716.31 195 L716.68 194.68 L717.06 194.36 L717.43 194.04 L717.81 193.72 L718.18 193.41 L718.56 193.09 L718.93 192.78 L719.3 192.46 L719.68 192.15 L720.05 191.83 L720.43 191.52 L720.8 191.21 L721.18 190.9 L721.55 190.59 L721.93 190.28 L722.3 189.97 L722.68 189.66 L723.05 189.36 L723.43 189.05 L723.8 188.75 L724.17 188.44 L724.55 188.14 L724.92 187.83 L725.3 187.53 L725.67 187.23 L726.05 186.93 L726.42 186.63 L726.8 186.33 L727.17 186.03 L727.55 185.74 L727.92 185.44 L728.3 185.15 L728.67 184.85 L729.04 184.56 L729.42 184.26 L729.79 183.97 L730.17 183.68 L730.54 183.39 L730.92 183.1 L731.29 182.81 L731.67 182.52 L732.04 182.24 L732.42 181.95 L732.79 181.66 L733.17 181.38 L733.54 181.09 L733.91 180.81 L734.29 180.53 L734.66 180.25 L735.04 179.96 L735.41 179.68 L735.79 179.4 L736.16 179.13 L736.54 178.85 L736.91 178.57 L737.29 178.3 L737.66 178.02 L738.04 177.75 L738.41 177.47 L738.78 177.2 L739.16 176.93 L739.53 176.65 L739.91 176.38 L740.28 176.11 L740.66 175.85 L741.03 175.58 L741.41 175.31 L741.78 175.04 L742.16 174.78 L742.53 174.51 L742.91 174.25 L743.28 173.99 L743.65 173.72 L744.03 173.46 L744.4 173.2 L744.78 172.94 L745.15 172.68 L745.53 172.42 L745.9 172.16 L746.28 171.91 L746.65 171.65 L747.03 171.4 L747.4 171.14 L747.78 170.89 L748.15 170.64 L748.52 170.38 L748.9 170.13 L749.27 169.88 L749.65 169.63 L750.02 169.38 L750.4 169.14 L750.77 168.89 L751.15 168.64 L751.52 168.4 L751.9 168.15 L752.27 167.91 L752.65 167.66 L753.02 167.42 L753.39 167.18 L753.77 166.94 L754.14 166.7 L754.52 166.46 L754.89 166.22 L755.27 165.98 L755.64 165.75 L756.02 165.51 L756.39 165.28 L756.77 165.04 L757.14 164.81 L757.52 164.58 L757.89 164.34 L758.26 164.11 L758.64 163.88 L759.01 163.65 L759.39 163.42 L759.76 163.2 L760.14 162.97 L760.51 162.74 L760.89 162.52 L761.26 162.29 L761.64 162.07 L762.01 161.85 L762.39 161.62 L762.76 161.4 L763.13 161.18 L763.51 160.96 L763.88 160.74 L764.26 160.52 L764.63 160.31 L765.01 160.09 L765.38 159.87 L765.76 159.66 L766.13 159.44 L766.51 159.23 L766.88 159.02 L767.26 158.81 L767.63 158.6 L768 158.38 L768.38 158.18 L768.75 157.97 L769.13 157.76 L769.5 157.55 L769.88 157.35 L770.25 157.14 L770.63 156.94 L771 156.73 L771.38 156.53 L771.75 156.33 L772.13 156.13 L772.5 155.93 L772.87 155.73 L773.25 155.53 L773.62 155.33 L774 155.13 L774.37 154.93 L774.75 154.74 L775.12 154.54 L775.5 154.35 L775.87 154.16 L776.25 153.96 L776.62 153.77 L777 153.58 L777.37 153.39 L777.74 153.2 L778.12 153.01 L778.49 152.83 L778.87 152.64 L779.24 152.45 L779.62 152.27 L779.99 152.08 L780.37 151.9 L780.74 151.72 L781.12 151.53 L781.49 151.35 L781.87 151.17 L782.24 150.99 L782.61 150.81 L782.99 150.64 L783.36 150.46 L783.74 150.28 L784.11 150.11 L784.49 149.93 L784.86 149.76 L785.24 149.58 L785.61 149.41 L785.99 149.24 L786.36 149.07 L786.74 148.9 L787.11 148.73 L787.49 148.56 L787.86 148.4 L788.23 148.23 L788.61 148.06 L788.98 147.9 L789.36 147.73 L789.73 147.57 L790.11 147.41 L790.48 147.24 L790.86 147.08 L791.23 146.92 L791.61 146.76 L791.98 146.6 L792.36 146.45 L792.73 146.29 L793.1 146.13 L793.48 145.98 L793.85 145.82 L794.23 145.67 L794.6 145.52 L794.98 145.36 L795.35 145.21 L795.73 145.06 L796.1 144.91 L796.48 144.76 L796.85 144.61 L797.23 144.47 L797.6 144.32 L797.97 144.17 L798.35 144.03 L798.72 143.89 L799.1 143.74 L799.47 143.6 L799.85 143.46 L800.22 143.32 L800.6 143.18 L800.97 143.04 L801.35 142.9 L801.72 142.76 L802.1 142.62 L802.47 142.49 L802.84 142.35 L803.22 142.22 L803.59 142.08 L803.97 141.95 L804.34 141.82 L804.72 141.69 L805.09 141.56 L805.47 141.43 L805.84 141.3 L806.22 141.17 L806.59 141.04 L806.97 140.92 L807.34 140.79 L807.71 140.67 L808.09 140.54 L808.46 140.42 L808.84 140.3 L809.21 140.17 L809.59 140.05 L809.96 139.93 L810.34 139.81 L810.71 139.69 L811.09 139.58 L811.46 139.46 L811.84 139.34 L812.21 139.23 L812.58 139.11 L812.96 139 L813.33 138.89 L813.71 138.78 L814.08 138.66 L814.46 138.55 L814.83 138.44 L815.21 138.34 L815.58 138.23 L815.96 138.12 L816.33 138.01 L816.71 137.91 L817.08 137.8 L817.45 137.7 L817.83 137.6 L818.2 137.49 L818.58 137.39 L818.95 137.29 L819.33 137.19 L819.7 137.09 L820.08 136.99 L820.45 136.9 L820.83 136.8 L821.2 136.7 L821.58 136.61 L821.95 136.51 L822.32 136.42 L822.7 136.33 L823.07 136.24 L823.45 136.15 L823.82 136.06 L824.2 135.97 L824.57 135.88 L824.95 135.79 L825.32 135.7 L825.7 135.62 L826.07 135.53 L826.45 135.45 L826.82 135.36 L827.19 135.28 L827.57 135.2 L827.94 135.11 L828.32 135.03 L828.69 134.95 L829.07 134.88 L829.44 134.8 L829.82 134.72 L830.19 134.64 L830.57 134.57 L830.94 134.49 L831.32 134.42 L831.69 134.34 L832.06 134.27 L832.44 134.2 L832.81 134.13 L833.19 134.06 L833.56 133.99 L833.94 133.92 L834.31 133.85 L834.69 133.79 L835.06 133.72 L835.44 133.65 L835.81 133.59 L836.19 133.53 L836.56 133.46 L836.93 133.4 L837.31 133.34 L837.68 133.28 L838.06 133.22 L838.43 133.16 L838.81 133.1 L839.18 133.04 L839.56 132.99 L839.93 132.93 L840.31 132.88 L840.68 132.82 L841.06 132.77 L841.43 132.72 L841.8 132.67 L842.18 132.62 L842.55 132.57 L842.93 132.52 L843.3 132.47 L843.68 132.42 L844.05 132.37 L844.43 132.33 L844.8 132.28 L845.18 132.24 L845.55 132.19 L845.93 132.15 L846.3 132.11 L846.67 132.07 L847.05 132.03 L847.42 131.99 L847.8 131.95 L848.17 131.91 L848.55 131.87 L848.92 131.84 L849.3 131.8 L849.67 131.77 L850.05 131.73 L850.42 131.7 L850.8 131.67 L851.17 131.64 L851.54 131.6 L851.92 131.57 L852.29 131.55 L852.67 131.52 L853.04 131.49 L853.42 131.46 L853.79 131.44 L854.17 131.41 L854.54 131.39 L854.92 131.36 L855.29 131.34 L855.67 131.32 L856.04 131.3 L856.41 131.28 L856.79 131.26 L857.16 131.24 L857.54 131.22 L857.91 131.2 L858.29 131.19 L858.66 131.17 L859.04 131.16 L859.41 131.14 L859.79 131.13 L860.16 131.12 L860.54 131.11 L860.91 131.1 L861.28 131.09 L861.66 131.08 L862.03 131.07 L862.41 131.06 L862.78 131.06 L863.16 131.05 L863.53 131.04 L863.91 131.04 L864.28 131.04 L864.66 131.03 L865.03 131.03 L865.41 131.03 L865.78 131.03 L866.15 131.03 L866.53 131.03 L866.9 131.04 L867.28 131.04 L867.65 131.04 L868.03 131.05 L868.4 131.05 L868.78 131.06 L869.15 131.07 L869.53 131.07 L869.9 131.08 L870.28 131.09 L870.65 131.1 L871.02 131.11 L871.4 131.12 L871.77 131.14 L872.15 131.15 L872.52 131.17 L872.9 131.18 L873.27 131.2 L873.65 131.21 L874.02 131.23 L874.4 131.25 L874.77 131.27 L875.15 131.29 L875.52 131.31 L875.89 131.33 L876.27 131.35 L876.64 131.38 L877.02 131.4 L877.39 131.42 L877.77 131.45 L878.14 131.48 L878.52 131.5 L878.89 131.53 L879.27 131.56 L879.64 131.59 L880.02 131.62 L880.39 131.65 L880.76 131.68 L881.14 131.72 L881.51 131.75 L881.89 131.78 L882.26 131.82 L882.64 131.86 L883.01 131.89 L883.39 131.93 L883.76 131.97 L884.14 132.01 L884.51 132.05 L884.89 132.09 L885.26 132.13 L885.63 132.17 L886.01 132.22 L886.38 132.26 L886.76 132.3 L887.13 132.35 L887.51 132.4 L887.88 132.44 L888.26 132.49 L888.63 132.54 L889.01 132.59 L889.38 132.64 L889.76 132.69 L890.13 132.74 L890.5 132.8 L890.88 132.85 L891.25 132.91 L891.63 132.96 L892 133.02 L892.38 133.07 L892.75 133.13 L893.13 133.19 L893.5 133.25 L893.88 133.31 L894.25 133.37 L894.63 133.43 L895 133.5 L895.37 133.56 L895.75 133.62 L896.12 133.69 L896.5 133.75 L896.87 133.82 L897.25 133.89 L897.62 133.96 L898 134.02 L898.37 134.09 L898.75 134.17 L899.12 134.24 L899.5 134.31 L899.87 134.38 L900.24 134.46 L900.62 134.53 L900.99 134.61 L901.37 134.68 L901.74 134.76 L902.12 134.84 L902.49 134.92 L902.87 135 L903.24 135.08 L903.62 135.16 L903.99 135.24 L904.37 135.32 L904.74 135.4 L905.11 135.49 L905.49 135.57 L905.86 135.66 L906.24 135.75 L906.61 135.83 L906.99 135.92 L907.36 136.01 L907.74 136.1 L908.11 136.19 L908.49 136.28 L908.86 136.38 L909.24 136.47 L909.61 136.56 L909.98 136.66 L910.36 136.75 L910.73 136.85 L911.11 136.95 L911.48 137.04 L911.86 137.14 L912.23 137.24 L912.61 137.34 L912.98 137.44 L913.36 137.55 L913.73 137.65 L914.11 137.75 L914.48 137.86 L914.85 137.96 L915.23 138.07 L915.6 138.18 L915.98 138.28 L916.35 138.39 L916.73 138.5 L917.1 138.61 L917.48 138.72 L917.85 138.83 L918.23 138.95 L918.6 139.06 L918.98 139.17 L919.35 139.29 L919.72 139.4 L920.1 139.52 L920.47 139.64 L920.85 139.76 L921.22 139.87 L921.6 139.99 L921.97 140.11 L922.35 140.24 L922.72 140.36 L923.1 140.48 L923.47 140.61 L923.85 140.73 L924.22 140.85 L924.59 140.98 L924.97 141.11 L925.34 141.24 L925.72 141.36 L926.09 141.49 L926.47 141.62 L926.84 141.75 L927.22 141.89 L927.59 142.02 L927.97 142.15 L928.34 142.29 L928.72 142.42 L929.09 142.56 L929.46 142.69 L929.84 142.83 L930.21 142.97 L930.59 143.11 L930.96 143.25 L931.34 143.39 L931.71 143.53 L932.09 143.67 L932.46 143.82 L932.84 143.96 L933.21 144.1 L933.59 144.25 L933.96 144.4 L934.33 144.54 L934.71 144.69 L935.08 144.84 L935.46 144.99 L935.83 145.14 L936.21 145.29 L936.58 145.44 L936.96 145.6 L937.33 145.75 L937.71 145.9 L938.08 146.06 L938.46 146.21 L938.83 146.37 L939.2 146.53 L939.58 146.69 L939.95 146.85 L940.33 147.01 L940.7 147.17 L941.08 147.33 L941.45 147.49 L941.83 147.65 L942.2 147.82 L942.58 147.98 L942.95 148.15 L943.33 148.31 L943.7 148.48 L944.07 148.65 L944.45 148.82 L944.82 148.99 L945.2 149.16 L945.57 149.33 L945.95 149.5 L946.32 149.67 L946.7 149.85 L947.07 150.02 L947.45 150.2 L947.82 150.37 L948.2 150.55 L948.57 150.73 L948.94 150.91 L949.32 151.09 L949.69 151.27 L950.07 151.45 L950.44 151.63 L950.82 151.81 L951.19 151.99 L951.57 152.18 L951.94 152.36 L952.32 152.55 L952.69 152.73 L953.07 152.92 L953.44 153.11 L953.82 153.3 L954.19 153.49 L954.56 153.68 L954.94 153.87 L955.31 154.06 L955.69 154.26 L956.06 154.45 L956.44 154.64 L956.81 154.84 L957.19 155.04 L957.56 155.23 L957.94 155.43 L958.31 155.63 L958.69 155.83 L959.06 156.03 L959.43 156.23 L959.81 156.43 L960.18 156.63 L960.56 156.84 L960.93 157.04 L961.31 157.25 L961.68 157.45 L962.06 157.66 L962.43 157.87 L962.81 158.07 L963.18 158.28 L963.56 158.49 L963.93 158.7 L964.3 158.92 L964.68 159.13 L965.05 159.34 L965.43 159.55 L965.8 159.77 L966.18 159.98 L966.55 160.2 L966.93 160.42 L967.3 160.64 L967.68 160.85 L968.05 161.07 L968.43 161.29 L968.8 161.52 L969.17 161.74 L969.55 161.96 L969.92 162.18 L970.3 162.41 L970.67 162.63 L971.05 162.86 L971.42 163.09 L971.8 163.31 L972.17 163.54 L972.55 163.77 L972.92 164 L973.3 164.23 L973.67 164.46 L974.04 164.69 L974.42 164.93 L974.79 165.16 L975.17 165.4 L975.54 165.63 L975.92 165.87 L976.29 166.11 L976.67 166.34 L977.04 166.58 L977.42 166.82 L977.79 167.06 L978.17 167.3 L978.54 167.55 L978.91 167.79 L979.29 168.03 L979.66 168.28 L980.04 168.52 L980.41 168.77 L980.79 169.01 L981.16 169.26 L981.54 169.51 L981.91 169.76 L982.29 170.01 L982.66 170.26 L983.04 170.51 L983.41 170.77 L983.78 171.02 L984.16 171.27 L984.53 171.53 L984.91 171.78 L985.28 172.04 L985.66 172.3 L986.03 172.56 L986.41 172.81 L986.78 173.07 L987.16 173.33 L987.53 173.6 L987.91 173.86 L988.28 174.12 L988.65 174.38 L989.03 174.65 L989.4 174.91 L989.78 175.18 L990.15 175.45 L990.53 175.72 L990.9 175.98 L991.28 176.25 L991.65 176.52 L992.03 176.79 L992.4 177.07 L992.78 177.34 L993.15 177.61 L993.52 177.89 L993.9 178.16 L994.27 178.44 L994.65 178.71 L995.02 178.99 L995.4 179.27 L995.77 179.55 L996.15 179.83 L996.52 180.11 L996.9 180.39 L997.27 180.67 L997.65 180.96 L998.02 181.24 L998.39 181.52 L998.77 181.81 L999.14 182.1 L999.52 182.38 L999.89 182.67 L1000.27 182.96 L1000.64 183.25 L1001.02 183.54 L1001.39 183.83 L1001.77 184.12 L1002.14 184.41 L1002.52 184.71 L1002.89 185 L1003.26 185.3 L1003.64 185.59 L1004.01 185.89 L1004.39 186.19 L1004.76 186.49 L1005.14 186.79 L1005.51 187.09 L1005.89 187.39 L1006.26 187.69 L1006.64 187.99 L1007.01 188.29 L1007.39 188.6 L1007.76 188.9 L1008.13 189.21 L1008.51 189.51 L1008.88 189.82 L1009.26 190.13 L1009.63 190.44 L1010.01 190.75 L1010.38 191.06 L1010.76 191.37 L1011.13 191.68 L1011.51 191.99 L1011.88 192.31 L1012.26 192.62 L1012.63 192.94 L1013 193.25 L1013.38 193.57 L1013.75 193.89 L1014.13 194.21 L1014.5 194.53 L1014.88 194.85 L1015.25 195.17 L1015.63 195.49 L1016 195.81 L1016.38 196.13 L1016.75 196.46 L1017.13 196.78 L1017.5 197.11 L1017.87 197.44 L1018.25 197.76 L1018.62 198.09 L1019 198.42 L1019.37 198.75 L1019.75 199.08 L1020.12 199.41 L1020.5 199.74 L1020.87 200.08 L1021.25 200.41 L1021.62 200.74 L1022 201.08 L1022.37 201.42 L1022.74 201.75 L1023.12 202.09 L1023.49 202.43 L1023.87 202.77 L1024.24 203.11 L1024.62 203.45 L1024.99 203.79 L1025.37 204.13 L1025.74 204.48 L1026.12 204.82 L1026.49 205.17 L1026.87 205.51 L1027.24 205.86 L1027.61 206.21 L1027.99 206.56 L1028.36 206.9 L1028.74 207.25 L1029.11 207.6 L1029.49 207.96 L1029.86 208.31 L1030.24 208.66 L1030.61 209.02 L1030.99 209.37 L1031.36 209.73 L1031.74 210.08 L1032.11 210.44 L1032.48 210.8 L1032.86 211.16 L1033.23 211.51 L1033.61 211.88 L1033.98 212.24 L1034.36 212.6 L1034.73 212.96 L1035.11 213.32 L1035.48 213.69 L1035.86 214.05 L1036.23 214.42 L1036.61 214.79 L1036.98 215.15" fill="none" stroke="#ff0000" stroke-width="2.3" stroke-dasharray="18.96 10.98" stroke-dashoffset="18.30"/>
<path d="M108.1 539.72 L109.43 537.45 L110.75 535.19 L112.08 532.93 L113.41 530.69 L114.73 528.46 L116.06 526.24 L117.39 524.03 L118.72 521.82 L120.04 519.63 L121.37 517.45 L122.7 515.28 L124.02 513.12 L125.35 510.97 L126.68 508.83 L128 506.69 L129.33 504.57 L130.66 502.46 L131.99 500.36 L133.31 498.27 L134.64 496.19 L135.97 494.12 L137.29 492.06 L138.62 490.01 L139.95 487.97 L141.27 485.94 L142.6 483.92 L143.93 481.91 L145.26 479.91 L146.58 477.92 L147.91 475.94 L149.24 473.97 L150.56 472.01 L151.89 470.06 L153.22 468.12 L154.54 466.2 L155.87 464.28 L157.2 462.37 L158.52 460.47 L159.85 458.58 L161.18 456.7 L162.51 454.83 L163.83 452.98 L165.16 451.13 L166.49 449.29 L167.81 447.46 L169.14 445.64 L170.47 443.84 L171.79 442.04 L173.12 440.25 L174.45 438.47 L175.78 436.71 L177.1 434.95 L178.43 433.2 L179.76 431.47 L181.08 429.74 L182.41 428.02 L183.74 426.32 L185.06 424.62 L186.39 422.93 L187.72 421.26 L189.05 419.59 L190.37 417.93 L191.7 416.29 L193.03 414.65 L194.35 413.03 L195.68 411.41 L197.01 409.8 L198.33 408.21 L199.66 406.62 L200.99 405.05 L202.31 403.48 L203.64 401.93 L204.97 400.38 L206.3 398.85 L207.62 397.32 L208.95 395.81 L210.28 394.3 L211.6 392.81 L212.93 391.33 L214.26 389.85 L215.58 388.39 L216.91 386.93 L218.24 385.49 L219.57 384.06 L220.89 382.63 L222.22 381.22 L223.55 379.82 L224.87 378.42 L226.2 377.04 L227.53 375.67 L228.85 374.3 L230.18 372.95 L231.51 371.61 L232.84 370.27 L234.16 368.95 L235.49 367.64 L236.82 366.34 L238.14 365.04 L239.47 363.76 L240.8 362.49 L242.12 361.23 L243.45 359.98 L244.78 358.73 L246.11 357.5 L247.43 356.28 L248.76 355.07 L250.09 353.87 L251.41 352.68 L252.74 351.5 L254.07 350.32 L255.39 349.16 L256.72 348.01 L258.05 346.87 L259.37 345.74 L260.7 344.62 L262.03 343.51 L263.36 342.41 L264.68 341.32 L266.01 340.24 L267.34 339.17 L268.66 338.11 L269.99 337.06 L271.32 336.02 L272.64 334.99 L273.97 333.97 L275.3 332.96 L276.63 331.96 L277.95 330.97 L279.28 329.99 L280.61 329.02 L281.93 328.06 L283.26 327.12 L284.59 326.18 L285.91 325.25 L287.24 324.33 L288.57 323.42 L289.9 322.52 L291.22 321.63 L292.55 320.76 L293.88 319.89 L295.2 319.03 L296.53 318.18 L297.86 317.34 L299.18 316.52 L300.51 315.7 L301.84 314.89 L303.16 314.09 L304.49 313.3 L305.82 312.53 L307.15 311.76 L308.47 311 L309.8 310.26 L311.13 309.52 L312.45 308.79 L313.78 308.07 L315.11 307.37 L316.43 306.67 L317.76 305.98 L319.09 305.31 L320.42 304.64 L321.74 303.98 L323.07 303.34 L324.4 302.7 L325.72 302.08 L327.05 301.46 L328.38 300.85 L329.7 300.26 L331.03 299.67 L332.36 299.1 L333.69 298.53 L335.01 297.97 L336.34 297.43 L337.67 296.89 L338.99 296.37 L340.32 295.85 L341.65 295.34 L342.97 294.85 L344.3 294.36 L345.63 293.89 L346.95 293.42 L348.28 292.97 L349.61 292.52 L350.94 292.09 L352.26 291.66 L353.59 291.24 L354.92 290.84 L356.24 290.44 L357.57 290.06 L358.9 289.68 L360.22 289.32 L361.55 288.96 L362.88 288.62 L364.21 288.28 L365.53 287.95 L366.86 287.64 L368.19 287.33 L369.51 287.04 L370.84 286.75 L372.17 286.48 L373.49 286.21 L374.82 285.95 L376.15 285.71 L377.48 285.47 L378.8 285.24 L380.13 285.03 L381.46 284.82 L382.78 284.62 L384.11 284.44 L385.44 284.26 L386.76 284.09 L388.09 283.93 L389.42 283.79 L390.74 283.65 L392.07 283.52 L393.4 283.4 L394.73 283.29 L396.05 283.19 L397.38 283.1 L398.71 283.02 L400.03 282.95 L401.36 282.89 L402.69 282.84 L404.01 282.8 L405.34 282.77 L406.67 282.75 L408 282.73 L409.32 282.73 L410.65 282.74 L411.98 282.75 L413.3 282.78 L414.63 282.81 L415.96 282.85 L417.28 282.91 L418.61 282.97 L419.94 283.04 L421.27 283.12 L422.59 283.21 L423.92 283.31 L425.25 283.42 L426.57 283.54 L427.9 283.66 L429.23 283.8 L430.55 283.94 L431.88 284.09 L433.21 284.26 L434.53 284.43 L435.86 284.61 L437.19 284.79 L438.52 284.99 L439.84 285.2 L441.17 285.41 L442.5 285.63 L443.82 285.86 L445.15 286.1 L446.48 286.34 L447.8 286.6 L449.13 286.86 L450.46 287.13 L451.79 287.41 L453.11 287.7 L454.44 287.99 L455.77 288.29 L457.09 288.6 L458.42 288.91 L459.75 289.23 L461.07 289.56 L462.4 289.9 L463.73 290.24 L465.06 290.59 L466.38 290.95 L467.71 291.31 L469.04 291.68 L470.36 292.05 L471.69 292.43 L473.02 292.82 L474.34 293.21 L475.67 293.6 L477 294.01 L478.33 294.41 L479.65 294.82 L480.98 295.24 L482.31 295.66 L483.63 296.08 L484.96 296.51 L486.29 296.94 L487.61 297.37 L488.94 297.81 L490.27 298.25 L491.59 298.69 L492.92 299.13 L494.25 299.58 L495.58 300.02 L496.9 300.47 L498.23 300.92 L499.56 301.37 L500.88 301.82 L502.21 302.27 L503.54 302.72 L504.86 303.16 L506.19 303.61 L507.52 304.05 L508.85 304.49 L510.17 304.93 L511.5 305.36 L512.83 305.79 L514.15 306.22 L515.48 306.64 L516.81 307.06 L518.13 307.47 L519.46 307.88 L520.79 308.28 L522.12 308.67 L523.44 309.05 L524.77 309.42 L526.1 309.79 L527.42 310.15 L528.75 310.49 L530.08 310.83 L531.4 311.15 L532.73 311.47 L534.06 311.77 L535.38 312.05 L536.71 312.33 L538.04 312.58 L539.37 312.83 L540.69 313.06 L542.02 313.27 L543.35 313.46 L544.67 313.64 L546 313.8 L547.33 313.95 L548.65 314.07 L549.98 314.17 L551.31 314.25 L552.64 314.32 L553.96 314.36 L555.29 314.37 L556.62 314.37 L557.94 314.34 L559.27 314.29 L560.6 314.22 L561.92 314.12 L563.25 314 L564.58 313.85 L565.91 313.68 L567.23 313.48 L568.56 313.26 L569.89 313.01 L571.21 312.73 L572.54 312.43 L573.87 312.1 L575.19 311.74 L576.52 311.35 L577.85 310.94 L579.17 310.5 L580.5 310.04 L581.83 309.55 L583.16 309.03 L584.48 308.48 L585.81 307.91 L587.14 307.31 L588.46 306.68 L589.79 306.03 L591.12 305.35 L592.44 304.64 L593.77 303.91 L595.1 303.16 L596.43 302.38 L597.75 301.58 L599.08 300.75 L600.41 299.9 L601.73 299.02 L603.06 298.13 L604.39 297.21 L605.71 296.27 L607.04 295.31 L608.37 294.33 L609.7 293.33 L611.02 292.31 L612.35 291.27 L613.68 290.21 L615 289.14 L616.33 288.05 L617.66 286.94 L618.98 285.82 L620.31 284.68 L621.64 283.53 L622.96 282.37 L624.29 281.19 L625.62 280 L626.95 278.79 L628.27 277.58 L629.6 276.35 L630.93 275.12 L632.25 273.87 L633.58 272.62 L634.91 271.36 L636.23 270.09 L637.56 268.81 L638.89 267.53 L640.22 266.24 L641.54 264.94 L642.87 263.64 L644.2 262.33 L645.52 261.02 L646.85 259.71 L648.18 258.39 L649.5 257.07 L650.83 255.75 L652.16 254.42 L653.49 253.1 L654.81 251.77 L656.14 250.44 L657.47 249.11 L658.79 247.78 L660.12 246.45 L661.45 245.13 L662.77 243.8 L664.1 242.48 L665.43 241.15 L666.75 239.83 L668.08 238.51 L669.41 237.19 L670.74 235.88 L672.06 234.57 L673.39 233.26 L674.72 231.96 L676.04 230.66 L677.37 229.36 L678.7 228.07 L680.02 226.79 L681.35 225.5 L682.68 224.23 L684.01 222.96 L685.33 221.69 L686.66 220.43 L687.99 219.18 L689.31 217.93 L690.64 216.68 L691.97 215.45 L693.29 214.22 L694.62 212.99 L695.95 211.78 L697.28 210.57 L698.6 209.36 L699.93 208.17 L701.26 206.98 L702.58 205.8 L703.91 204.62 L705.24 203.46 L706.56 202.3 L707.89 201.15 L709.22 200.01 L710.55 198.87 L711.87 197.74 L713.2 196.62 L714.53 195.51 L715.85 194.41 L717.18 193.32 L718.51 192.23 L719.83 191.15 L721.16 190.09 L722.49 189.02 L723.81 187.97 L725.14 186.93 L726.47 185.9 L727.8 184.87 L729.12 183.86 L730.45 182.85 L731.78 181.85 L733.1 180.86 L734.43 179.88 L735.76 178.91 L737.08 177.95 L738.41 176.99 L739.74 176.05 L741.07 175.12 L742.39 174.19 L743.72 173.28 L745.05 172.37 L746.37 171.47 L747.7 170.59 L749.03 169.71 L750.35 168.84 L751.68 167.98 L753.01 167.13 L754.34 166.29 L755.66 165.46 L756.99 164.64 L758.32 163.83 L759.64 163.03 L760.97 162.24 L762.3 161.45 L763.62 160.68 L764.95 159.92 L766.28 159.17 L767.6 158.42 L768.93 157.69 L770.26 156.97 L771.59 156.25 L772.91 155.55 L774.24 154.85 L775.57 154.17 L776.89 153.49 L778.22 152.83 L779.55 152.18 L780.87 151.53 L782.2 150.9 L783.53 150.27 L784.86 149.65 L786.18 149.05 L787.51 148.45 L788.84 147.87 L790.16 147.29 L791.49 146.73 L792.82 146.17 L794.14 145.62 L795.47 145.09 L796.8 144.56 L798.13 144.05 L799.45 143.54 L800.78 143.04 L802.11 142.56 L803.43 142.08 L804.76 141.62 L806.09 141.16 L807.41 140.71 L808.74 140.28 L810.07 139.85 L811.39 139.44 L812.72 139.03 L814.05 138.63 L815.38 138.25 L816.7 137.87 L818.03 137.5 L819.36 137.15 L820.68 136.8 L822.01 136.47 L823.34 136.14 L824.66 135.83 L825.99 135.52 L827.32 135.22 L828.65 134.94 L829.97 134.66 L831.3 134.4 L832.63 134.14 L833.95 133.9 L835.28 133.66 L836.61 133.43 L837.93 133.22 L839.26 133.01 L840.59 132.82 L841.92 132.63 L843.24 132.46 L844.57 132.29 L845.9 132.14 L847.22 131.99 L848.55 131.86 L849.88 131.73 L851.2 131.62 L852.53 131.52 L853.86 131.42 L855.18 131.34 L856.51 131.26 L857.84 131.2 L859.17 131.14 L860.49 131.1 L861.82 131.07 L863.15 131.04 L864.47 131.03 L865.8 131.02 L867.13 131.03 L868.45 131.05 L869.78 131.07 L871.11 131.11 L872.44 131.16 L873.76 131.21 L875.09 131.28 L876.42 131.36 L877.74 131.44 L879.07 131.54 L880.4 131.65 L881.72 131.76 L883.05 131.89 L884.38 132.03 L885.71 132.18 L887.03 132.33 L888.36 132.5 L889.69 132.68 L891.01 132.87 L892.34 133.07 L893.67 133.27 L894.99 133.49 L896.32 133.72 L897.65 133.96 L898.97 134.21 L900.3 134.46 L901.63 134.73 L902.96 135.01 L904.28 135.3 L905.61 135.6 L906.94 135.91 L908.26 136.23 L909.59 136.56 L910.92 136.9 L912.24 137.24 L913.57 137.6 L914.9 137.97 L916.23 138.35 L917.55 138.74 L918.88 139.14 L920.21 139.55 L921.53 139.97 L922.86 140.4 L924.19 140.84 L925.51 141.29 L926.84 141.75 L928.17 142.22 L929.5 142.7 L930.82 143.19 L932.15 143.7 L933.48 144.21 L934.8 144.73 L936.13 145.26 L937.46 145.8 L938.78 146.35 L940.11 146.91 L941.44 147.48 L942.77 148.06 L944.09 148.66 L945.42 149.26 L946.75 149.87 L948.07 150.49 L949.4 151.12 L950.73 151.77 L952.05 152.42 L953.38 153.08 L954.71 153.75 L956.03 154.43 L957.36 155.13 L958.69 155.83 L960.02 156.54 L961.34 157.27 L962.67 158 L964 158.74 L965.32 159.49 L966.65 160.26 L967.98 161.03 L969.3 161.81 L970.63 162.61 L971.96 163.41 L973.29 164.22 L974.61 165.05 L975.94 165.88 L977.27 166.73 L978.59 167.58 L979.92 168.44 L981.25 169.32 L982.57 170.2 L983.9 171.1 L985.23 172 L986.56 172.92 L987.88 173.84 L989.21 174.78 L990.54 175.72 L991.86 176.68 L993.19 177.64 L994.52 178.62 L995.84 179.6 L997.17 180.6 L998.5 181.6 L999.82 182.62 L1001.15 183.64 L1002.48 184.68 L1003.81 185.73 L1005.13 186.78 L1006.46 187.85 L1007.79 188.92 L1009.11 190.01 L1010.44 191.11 L1011.77 192.21 L1013.09 193.33 L1014.42 194.46 L1015.75 195.59 L1017.08 196.74 L1018.4 197.9 L1019.73 199.06 L1021.06 200.24 L1022.38 201.43 L1023.71 202.63 L1025.04 203.83 L1026.36 205.05 L1027.69 206.28 L1029.02 207.52 L1030.35 208.76 L1031.67 210.02 L1033 211.29 L1034.33 212.57 L1035.65 213.86 L1036.98 215.15" fill="none" stroke="#3350a2" stroke-width="2.4" />
<line x1="107.6" y1="78" x2="1037.5" y2="78" stroke="#000" stroke-width="1.35" />
<line x1="107.6" y1="568.5" x2="1037.5" y2="568.5" stroke="#000" stroke-width="1.35" />
<line x1="107.6" y1="77.4" x2="107.6" y2="569.1" stroke="#000" stroke-width="1.35" />
<line x1="1027" y1="568.5" x2="1037.5" y2="568.5" stroke="#000" stroke-width="2.6" />
<line x1="107.6" y1="78" x2="118" y2="78" stroke="#000" stroke-width="1.25" />
<text x="95" y="85.8" font-size="29" text-anchor="end" fill="#000"  transform="matrix(1 0 0 1.05 0 -4.29)">−2</text>
<line x1="107.6" y1="159.75" x2="118" y2="159.75" stroke="#000" stroke-width="1.25" />
<text x="95" y="167.55" font-size="29" text-anchor="end" fill="#000"  transform="matrix(1 0 0 1.05 0 -8.38)">−3</text>
<line x1="107.6" y1="241.5" x2="118" y2="241.5" stroke="#000" stroke-width="1.25" />
<text x="95" y="249.3" font-size="29" text-anchor="end" fill="#000"  transform="matrix(1 0 0 1.05 0 -12.47)">−4</text>
<line x1="107.6" y1="323.25" x2="118" y2="323.25" stroke="#000" stroke-width="1.25" />
<text x="95" y="331.05" font-size="29" text-anchor="end" fill="#000"  transform="matrix(1 0 0 1.05 0 -16.55)">−5</text>
<line x1="107.6" y1="405" x2="118" y2="405" stroke="#000" stroke-width="1.25" />
<text x="95" y="412.8" font-size="29" text-anchor="end" fill="#000"  transform="matrix(1 0 0 1.05 0 -20.64)">−6</text>
<line x1="107.6" y1="486.75" x2="118" y2="486.75" stroke="#000" stroke-width="1.25" />
<text x="95" y="494.55" font-size="29" text-anchor="end" fill="#000"  transform="matrix(1 0 0 1.05 0 -24.73)">−7</text>
<line x1="107.6" y1="568.5" x2="118" y2="568.5" stroke="#000" stroke-width="1.25" />
<text x="95" y="576.3" font-size="29" text-anchor="end" fill="#000"  transform="matrix(1 0 0 1.05 0 -28.82)">−8</text>
<text x="108.1" y="601.1" font-size="29" text-anchor="middle" fill="#000"  transform="matrix(1 0 0 1.05 0 -30.06)">0.4</text>
<line x1="217.38" y1="568.5" x2="217.38" y2="559" stroke="#000" stroke-width="1.25" />
<text x="217.38" y="601.1" font-size="29" text-anchor="middle" fill="#000"  transform="matrix(1 0 0 1.05 0 -30.06)">0.6</text>
<line x1="326.66" y1="568.5" x2="326.66" y2="559" stroke="#000" stroke-width="1.25" />
<text x="326.66" y="601.1" font-size="29" text-anchor="middle" fill="#000"  transform="matrix(1 0 0 1.05 0 -30.06)">0.8</text>
<line x1="435.94" y1="568.5" x2="435.94" y2="559" stroke="#000" stroke-width="1.25" />
<text x="435.94" y="601.1" font-size="29" text-anchor="middle" fill="#000"  transform="matrix(1 0 0 1.05 0 -30.06)">1.0</text>
<line x1="545.22" y1="568.5" x2="545.22" y2="559" stroke="#000" stroke-width="1.25" />
<text x="545.22" y="601.1" font-size="29" text-anchor="middle" fill="#000"  transform="matrix(1 0 0 1.05 0 -30.06)">1.2</text>
<line x1="654.5" y1="568.5" x2="654.5" y2="559" stroke="#000" stroke-width="1.25" />
<text x="654.5" y="601.1" font-size="29" text-anchor="middle" fill="#000"  transform="matrix(1 0 0 1.05 0 -30.06)">1.4</text>
<line x1="763.78" y1="568.5" x2="763.78" y2="559" stroke="#000" stroke-width="1.25" />
<text x="763.78" y="601.1" font-size="29" text-anchor="middle" fill="#000"  transform="matrix(1 0 0 1.05 0 -30.06)">1.6</text>
<line x1="873.06" y1="568.5" x2="873.06" y2="559" stroke="#000" stroke-width="1.25" />
<text x="873.06" y="601.1" font-size="29" text-anchor="middle" fill="#000"  transform="matrix(1 0 0 1.05 0 -30.06)">1.8</text>
<line x1="982.34" y1="568.5" x2="982.34" y2="559" stroke="#000" stroke-width="1.25" />
<text x="982.34" y="603.3" font-size="29" text-anchor="middle" fill="#000"  transform="matrix(1 0 0 1.05 0 -30.17)">2.0</text>
<line x1="167.66" y1="78" x2="167.66" y2="88" stroke="#000" stroke-width="1.25" />
<text x="167.66" y="64" font-size="29" text-anchor="middle" fill="#000"  transform="matrix(1 0 0 1.05 0 -3.2)">3.0</text>
<line x1="440.86" y1="78" x2="440.86" y2="88" stroke="#000" stroke-width="1.25" />
<text x="440.86" y="64" font-size="29" text-anchor="middle" fill="#000"  transform="matrix(1 0 0 1.05 0 -3.2)">3.5</text>
<line x1="714.06" y1="78" x2="714.06" y2="88" stroke="#000" stroke-width="1.25" />
<text x="714.06" y="64" font-size="29" text-anchor="middle" fill="#000"  transform="matrix(1 0 0 1.05 0 -3.2)">4.0</text>
<line x1="987.26" y1="78" x2="987.26" y2="88" stroke="#000" stroke-width="1.25" />
<text x="987.26" y="64" font-size="29" text-anchor="middle" fill="#000"  transform="matrix(1 0 0 1.05 0 -3.2)">4.5</text>
<text x="572" y="24" font-size="29" text-anchor="middle" fill="#000" >Equilibrium potential (V versus K/K<tspan dy="-11" font-size="19">+</tspan><tspan dy="11">)</tspan></text>
<text x="510" y="652.1" font-size="28" text-anchor="start" fill="#000" >−Δ<tspan font-style="italic">G</tspan></text>
<circle cx="571.1" cy="632.8" r="3.4" fill="none" stroke="#000" stroke-width="1.6"/>
<text x="584.7" y="652.1" font-size="26.3" text-anchor="start" fill="#000" >(eV)</text>
<text transform="translate(37,323.5) rotate(-90)" font-size="28" text-anchor="middle" fill="#000">ln(<tspan font-style="italic">k</tspan>) (cm s<tspan dy="-12.8" font-size="21">−1</tspan><tspan dy="12.8">)</tspan></text>
<line x1="348.3" y1="78" x2="348.3" y2="130.2" stroke="#000" stroke-width="4.2" />
<line x1="348.3" y1="518" x2="348.3" y2="568.5" stroke="#000" stroke-width="4.2" />
<text x="298" y="154" font-size="29" text-anchor="start" fill="#000" ><tspan font-style="italic">E</tspan></text>
<circle cx="323.5" cy="130" r="3.5" fill="none" stroke="#000" stroke-width="1.6"/>
<text x="319.5" y="158" font-size="14" text-anchor="start" fill="#000" >1</text>
<text x="326" y="168" font-size="21" text-anchor="start" fill="#000" >O<tspan font-size="14" dy="3">2</tspan><tspan dy="-3">/KO</tspan><tspan font-size="14" dy="3">2</tspan></text>
<text x="356.3" y="545.2" font-size="27.8" text-anchor="start" fill="#000"  transform="matrix(1 0 0 1.04 0 -21.81)">Δ<tspan font-style="italic">G</tspan></text>
<circle cx="402.5" cy="524.8" r="3.5" fill="none" stroke="#000" stroke-width="1.6"/>
<text x="400.5" y="555.4" font-size="20.5" text-anchor="start" fill="#000" >1</text>
<line x1="410" y1="549.2" x2="429" y2="549.2" stroke="#000" stroke-width="1.5" />
<path d="M409.5 549.2 L415.5 545.6 M409.5 549.2 L415.5 552.8" fill="none" stroke="#000" stroke-width="1.5"/>
<text x="431.5" y="555.4" font-size="20.5" text-anchor="start" fill="#000" >3</text>
<circle cx="194.8" cy="502.6" r="12.4" fill="none" stroke="#000" stroke-width="2.3"/>
<line x1="194.8" y1="469" x2="194.8" y2="558.5" stroke="#000" stroke-width="2.2" />
<line x1="182.05" y1="469" x2="207.55" y2="469" stroke="#000" stroke-width="2.2" />
<line x1="182.05" y1="558.5" x2="207.55" y2="558.5" stroke="#000" stroke-width="2.2" />
<text x="211" y="514" font-size="24.9" text-anchor="start" fill="#000" >DMFc</text>
<circle cx="222.5" cy="360.8" r="12.4" fill="none" stroke="#000" stroke-width="2.3"/>
<line x1="222.5" y1="345.1" x2="222.5" y2="380.3" stroke="#000" stroke-width="2.2" />
<line x1="209.75" y1="345.1" x2="235.25" y2="345.1" stroke="#000" stroke-width="2.2" />
<line x1="209.75" y1="380.3" x2="235.25" y2="380.3" stroke="#000" stroke-width="2.2" />
<text x="183.5" y="328" font-size="24.9" text-anchor="start" fill="#000" >TDPA</text>
<circle cx="277" cy="355.1" r="12.4" fill="none" stroke="#000" stroke-width="2.3"/>
<line x1="277" y1="333.9" x2="277" y2="384" stroke="#000" stroke-width="2.2" />
<line x1="264.25" y1="333.9" x2="289.75" y2="333.9" stroke="#000" stroke-width="2.2" />
<line x1="264.25" y1="384" x2="289.75" y2="384" stroke="#000" stroke-width="2.2" />
<text x="249.3" y="416" font-size="24.9" text-anchor="start" fill="#000" >F4BQ</text>
<circle cx="309.8" cy="300.1" r="12.4" fill="none" stroke="#000" stroke-width="2.3"/>
<line x1="309.8" y1="286.4" x2="309.8" y2="317.3" stroke="#000" stroke-width="2.2" />
<line x1="297.05" y1="286.4" x2="322.55" y2="286.4" stroke="#000" stroke-width="2.2" />
<line x1="297.05" y1="317.3" x2="322.55" y2="317.3" stroke="#000" stroke-width="2.2" />
<text x="273.6" y="277.2" font-size="24.9" text-anchor="start" fill="#000" >TMPD</text>
<circle cx="331.9" cy="309.6" r="12.4" fill="none" stroke="#000" stroke-width="2.3"/>
<line x1="331.9" y1="299.9" x2="331.9" y2="319.3" stroke="#000" stroke-width="2.2" />
<line x1="319.15" y1="299.9" x2="344.65" y2="299.9" stroke="#000" stroke-width="2.2" />
<line x1="319.15" y1="319.3" x2="344.65" y2="319.3" stroke="#000" stroke-width="2.2" />
<text x="321.7" y="361" font-size="24.9" text-anchor="start" fill="#000" >DMPZ</text>
<circle cx="479.5" cy="321.2" r="12.4" fill="none" stroke="#000" stroke-width="2.3"/>
<line x1="479.5" y1="310.8" x2="479.5" y2="332.5" stroke="#000" stroke-width="2.2" />
<line x1="466.75" y1="310.8" x2="492.25" y2="310.8" stroke="#000" stroke-width="2.2" />
<line x1="466.75" y1="332.5" x2="492.25" y2="332.5" stroke="#000" stroke-width="2.2" />
<text x="467" y="361.7" font-size="24.9" text-anchor="start" fill="#000" >Fc</text>
<circle cx="616" cy="311.4" r="12.4" fill="none" stroke="#000" stroke-width="2.3"/>
<line x1="616" y1="307.7" x2="616" y2="315.2" stroke="#000" stroke-width="2.2" />
<line x1="603.25" y1="307.7" x2="628.75" y2="307.7" stroke="#000" stroke-width="2.2" />
<line x1="603.25" y1="315.2" x2="628.75" y2="315.2" stroke="#000" stroke-width="2.2" />
<text x="564.5" y="258.6" font-size="24.9" text-anchor="start" fill="#000" >DPAB</text>
<circle cx="648.8" cy="331.6" r="12.4" fill="none" stroke="#000" stroke-width="2.3"/>
<line x1="648.8" y1="325.1" x2="648.8" y2="338.9" stroke="#000" stroke-width="2.2" />
<line x1="636.05" y1="325.1" x2="661.55" y2="325.1" stroke="#000" stroke-width="2.2" />
<line x1="636.05" y1="338.9" x2="661.55" y2="338.9" stroke="#000" stroke-width="2.2" />
<text x="628" y="374.7" font-size="24.9" text-anchor="start" fill="#000" >MPT</text>
<circle cx="796" cy="145.7" r="12.4" fill="none" stroke="#000" stroke-width="2.3"/>
<line x1="783.2" y1="145.7" x2="808.8" y2="145.7" stroke="#000" stroke-width="2.3" />
<text x="747" y="120" font-size="24.9" text-anchor="start" fill="#000" >DMeOA</text>
<circle cx="905.6" cy="119.7" r="12.4" fill="none" stroke="#000" stroke-width="2.3"/>
<line x1="905.6" y1="96.3" x2="905.6" y2="152.6" stroke="#000" stroke-width="2.2" />
<line x1="892.85" y1="96.3" x2="918.35" y2="96.3" stroke="#000" stroke-width="2.2" />
<line x1="892.85" y1="152.6" x2="918.35" y2="152.6" stroke="#000" stroke-width="2.2" />
<text x="856" y="191" font-size="24.9" text-anchor="start" fill="#000" >tMeOB</text>
<circle cx="971.3" cy="154.8" r="12.4" fill="none" stroke="#000" stroke-width="2.3"/>
<line x1="971.3" y1="133.7" x2="971.3" y2="183.5" stroke="#000" stroke-width="2.2" />
<line x1="958.55" y1="133.7" x2="984.05" y2="133.7" stroke="#000" stroke-width="2.2" />
<line x1="958.55" y1="183.5" x2="984.05" y2="183.5" stroke="#000" stroke-width="2.2" />
<text x="951" y="120" font-size="24.9" text-anchor="start" fill="#000" >DPA</text>
<circle cx="987.6" cy="202.5" r="12.4" fill="none" stroke="#000" stroke-width="2.3"/>
<line x1="987.6" y1="168.6" x2="987.6" y2="264" stroke="#000" stroke-width="2.2" />
<line x1="974.85" y1="168.6" x2="1000.35" y2="168.6" stroke="#000" stroke-width="2.2" />
<line x1="974.85" y1="264" x2="1000.35" y2="264" stroke="#000" stroke-width="2.2" />
<text x="966.3" y="294" font-size="24.9" text-anchor="start" fill="#000" >ThA</text>
<text x="0.2" y="20" font-size="31.5" text-anchor="start" fill="#000" font-weight="bold" stroke="#000" stroke-width="1.4" stroke-linejoin="round">a</text>
<path d="M118.5 749 L119 749 L119.5 749 L120 749 L120.5 749 L121 749 L121.5 749 L122 749 L122.5 749 L123 749 L123.5 749 L124 749 L124.5 749 L125 749 L125.5 749 L126 749 L126.5 749 L127 749 L127.5 749 L128 749 L128.5 749 L129 749 L129.5 749 L130 749 L130.5 749 L131 749 L131.5 749 L132 749 L132.5 749 L133 749 L133.5 749 L134 749 L134.5 749 L135 749 L135.5 749 L136 749 L136.5 749 L137 749 L137.5 749 L138 749 L138.5 749 L139 749 L139.5 749 L140 749 L140.5 749 L141 749 L141.5 749 L142 749 L142.5 749 L143 749 L143.5 749 L144 749 L144.5 749 L145 749 L145.5 749 L146 749 L146.5 749 L147 749 L147.5 749 L148 749 L148.5 749 L149 749 L149.5 749 L150 749 L150.5 749 L151 749 L151.5 749 L152 749 L152.5 749 L153 749 L153.5 749 L154 749 L154.5 749 L155 749 L155.5 749 L156 749 L156.5 749 L157 749 L157.5 749 L158 749 L158.5 749 L159 749 L159.5 749 L160 749 L160.5 749 L161 749 L161.5 749 L162 749 L162.5 749 L163 749 L163.5 749 L164 749 L164.5 749 L165 749 L165.5 749 L166 749 L166.5 749 L167 749 L167.5 749.01 L168 749.01 L168.5 749.01 L169 749.01 L169.5 749.01 L170 749.01 L170.5 749.01 L171 749.01 L171.5 749.01 L172 749.01 L172.5 749.01 L173 749.01 L173.5 749.01 L174 749.01 L174.5 749.01 L175 749.01 L175.5 749.01 L176 749.01 L176.5 749.01 L177 749.01 L177.5 749.01 L178 749.01 L178.5 749.01 L179 749.01 L179.5 749.01 L180 749.01 L180.5 749.01 L181 749.01 L181.5 749.01 L182 749.01 L182.5 749.01 L183 749.01 L183.5 749.01 L184 749.01 L184.5 749.01 L185 749.01 L185.5 749.01 L186 749.01 L186.5 749.01 L187 749.01 L187.5 749.01 L188 749.01 L188.5 749.01 L189 749.01 L189.5 749.01 L190 749.01 L190.5 749.01 L191 749.01 L191.5 749.01 L192 749.01 L192.5 749.01 L193 749.01 L193.5 749.01 L194 749.01 L194.5 749.01 L195 749.01 L195.5 749.01 L196 749.01 L196.5 749.01 L197 749.02 L197.5 749.02 L198 749.02 L198.5 749.02 L199 749.02 L199.5 749.02 L200 749.02 L200.5 749.02 L201 749.02 L201.5 749.02 L202 749.02 L202.5 749.02 L203 749.02 L203.5 749.02 L204 749.02 L204.5 749.02 L205 749.02 L205.5 749.02 L206 749.02 L206.5 749.02 L207 749.02 L207.5 749.02 L208 749.02 L208.5 749.02 L209 749.02 L209.5 749.02 L210 749.02 L210.5 749.02 L211 749.02 L211.5 749.02 L212 749.02 L212.5 749.02 L213 749.02 L213.5 749.02 L214 749.02 L214.5 749.02 L215 749.03 L215.5 749.03 L216 749.03 L216.5 749.03 L217 749.03 L217.5 749.03 L218 749.03 L218.5 749.03 L219 749.03 L219.5 749.03 L220 749.03 L220.5 749.03 L221 749.03 L221.5 749.03 L222 749.03 L222.5 749.03 L223 749.03 L223.5 749.03 L224 749.03 L224.5 749.03 L225 749.03 L225.5 749.03 L226 749.03 L226.5 749.03 L227 749.03 L227.5 749.03 L228 749.03 L228.5 749.03 L229 749.04 L229.5 749.04 L230 749.04 L230.5 749.04 L231 749.04 L231.5 749.04 L232 749.04 L232.5 749.04 L233 749.04 L233.5 749.04 L234 749.04 L234.5 749.04 L235 749.04 L235.5 749.04 L236 749.04 L236.5 749.04 L237 749.04 L237.5 749.04 L238 749.04 L238.5 749.04 L239 749.04 L239.5 749.04 L240 749.04 L240.5 749.05 L241 749.05 L241.5 749.05 L242 749.05 L242.5 749.05 L243 749.05 L243.5 749.05 L244 749.05 L244.5 749.05 L245 749.05 L245.5 749.05 L246 749.05 L246.5 749.05 L247 749.05 L247.5 749.05 L248 749.05 L248.5 749.05 L249 749.05 L249.5 749.05 L250 749.05 L250.5 749.06 L251 749.06 L251.5 749.06 L252 749.06 L252.5 749.06 L253 749.06 L253.5 749.06 L254 749.06 L254.5 749.06 L255 749.06 L255.5 749.06 L256 749.06 L256.5 749.06 L257 749.06 L257.5 749.06 L258 749.06 L258.5 749.06 L259 749.06 L259.5 749.07 L260 749.07 L260.5 749.07 L261 749.07 L261.5 749.07 L262 749.07 L262.5 749.07 L263 749.07 L263.5 749.07 L264 749.07 L264.5 749.07 L265 749.07 L265.5 749.07 L266 749.07 L266.5 749.07 L267 749.07 L267.5 749.08 L268 749.08 L268.5 749.08 L269 749.08 L269.5 749.08 L270 749.08 L270.5 749.08 L271 749.08 L271.5 749.08 L272 749.08 L272.5 749.08 L273 749.08 L273.5 749.08 L274 749.08 L274.5 749.08 L275 749.09 L275.5 749.09 L276 749.09 L276.5 749.09 L277 749.09 L277.5 749.09 L278 749.09 L278.5 749.09 L279 749.09 L279.5 749.09 L280 749.09 L280.5 749.09 L281 749.09 L281.5 749.09 L282 749.1 L282.5 749.1 L283 749.1 L283.5 749.1 L284 749.1 L284.5 749.1 L285 749.1 L285.5 749.1 L286 749.1 L286.5 749.1 L287 749.1 L287.5 749.1 L288 749.1 L288.5 749.11 L289 749.11 L289.5 749.11 L290 749.11 L290.5 749.11 L291 749.11 L291.5 749.11 L292 749.11 L292.5 749.11 L293 749.11 L293.5 749.11 L294 749.11 L294.5 749.12 L295 749.12 L295.5 749.12 L296 749.12 L296.5 749.12 L297 749.12 L297.5 749.12 L298 749.12 L298.5 749.12 L299 749.12 L299.5 749.12 L300 749.13 L300.5 749.13 L301 749.13 L301.5 749.13 L302 749.13 L302.5 749.13 L303 749.13 L303.5 749.13 L304 749.13 L304.5 749.13 L305 749.13 L305.5 749.14 L306 749.14 L306.5 749.14 L307 749.14 L307.5 749.14 L308 749.14 L308.5 749.14 L309 749.14 L309.5 749.14 L310 749.14 L310.5 749.15 L311 749.15 L311.5 749.15 L312 749.15 L312.5 749.15 L313 749.15 L313.5 749.15 L314 749.15 L314.5 749.15 L315 749.15 L315.5 749.16 L316 749.16 L316.5 749.16 L317 749.16 L317.5 749.16 L318 749.16 L318.5 749.16 L319 749.16 L319.5 749.16 L320 749.16 L320.5 749.17 L321 749.17 L321.5 749.17 L322 749.17 L322.5 749.17 L323 749.17 L323.5 749.17 L324 749.17 L324.5 749.17 L325 749.18 L325.5 749.18 L326 749.18 L326.5 749.18 L327 749.18 L327.5 749.18 L328 749.18 L328.5 749.18 L329 749.18 L329.5 749.19 L330 749.19 L330.5 749.19 L331 749.19 L331.5 749.19 L332 749.19 L332.5 749.19 L333 749.19 L333.5 749.2 L334 749.2 L334.5 749.2 L335 749.2 L335.5 749.2 L336 749.2 L336.5 749.2 L337 749.2 L337.5 749.21 L338 749.21 L338.5 749.21 L339 749.21 L339.5 749.21 L340 749.21 L340.5 749.21 L341 749.21 L341.5 749.22 L342 749.22 L342.5 749.22 L343 749.22 L343.5 749.22 L344 749.22 L344.5 749.22 L345 749.22 L345.5 749.23 L346 749.23 L346.5 749.23 L347 749.23 L347.5 749.23 L348 749.23 L348.5 749.23 L349 749.24 L349.5 749.24 L350 749.24 L350.5 749.24 L351 749.24 L351.5 749.24 L352 749.24 L352.5 749.25 L353 749.25 L353.5 749.25 L354 749.25 L354.5 749.25 L355 749.25 L355.5 749.25 L356 749.26 L356.5 749.26 L357 749.26 L357.5 749.26 L358 749.26 L358.5 749.26 L359 749.26 L359.5 749.27 L360 749.27 L360.5 749.27 L361 749.27 L361.5 749.27 L362 749.27 L362.5 749.27 L363 749.28 L363.5 749.28 L364 749.28 L364.5 749.28 L365 749.28 L365.5 749.28 L366 749.29 L366.5 749.29 L367 749.29 L367.5 749.29 L368 749.29 L368.5 749.29 L369 749.29 L369.5 749.3 L370 749.3 L370.5 749.3 L371 749.3 L371.5 749.3 L372 749.3 L372.5 749.31 L373 749.31 L373.5 749.31 L374 749.31 L374.5 749.31 L375 749.31 L375.5 749.32 L376 749.32 L376.5 749.32 L377 749.32 L377.5 749.32 L378 749.32 L378.5 749.33 L379 749.33 L379.5 749.33 L380 749.33 L380.5 749.33 L381 749.33 L381.5 749.34 L382 749.34 L382.5 749.34 L383 749.34 L383.5 749.34 L384 749.34 L384.5 749.35 L385 749.35 L385.5 749.35 L386 749.35 L386.5 749.35 L387 749.36 L387.5 749.36 L388 749.36 L388.5 749.36 L389 749.36 L389.5 749.36 L390 749.37 L390.5 749.37 L391 749.37 L391.5 749.37 L392 749.37 L392.5 749.38 L393 749.38 L393.5 749.38 L394 749.38 L394.5 749.38 L395 749.38 L395.5 749.39 L396 749.39 L396.5 749.39 L397 749.39 L397.5 749.39 L398 749.4 L398.5 749.4 L399 749.4 L399.5 749.4 L400 749.4 L400.5 749.41 L401 749.41 L401.5 749.41 L402 749.41 L402.5 749.41 L403 749.42 L403.5 749.42 L404 749.42 L404.5 749.42 L405 749.42 L405.5 749.43 L406 749.43 L406.5 749.43 L407 749.43 L407.5 749.43 L408 749.44 L408.5 749.44 L409 749.44 L409.5 749.44 L410 749.44 L410.5 749.45 L411 749.45 L411.5 749.45 L412 749.45 L412.5 749.45 L413 749.46 L413.5 749.46 L414 749.46 L414.5 749.46 L415 749.46 L415.5 749.47 L416 749.47 L416.5 749.47 L417 749.47 L417.5 749.48 L418 749.48 L418.5 749.48 L419 749.48 L419.5 749.48 L420 749.49 L420.5 749.49 L421 749.49 L421.5 749.49 L422 749.5 L422.5 749.5 L423 749.5 L423.5 749.5 L424 749.52 L424.5 749.53 L425 749.55 L425.5 749.58 L426 749.61 L426.5 749.64 L427 749.68 L427.5 749.73 L428 749.78 L428.5 749.83 L429 749.88 L429.5 749.94 L430 750.01 L430.5 750.07 L431 750.14 L431.5 750.22 L432 750.29 L432.5 750.37 L433 750.46 L433.5 750.54 L434 750.63 L434.5 750.72 L435 750.81 L435.5 750.9 L436 751 L436.5 751.09 L437 751.19 L437.5 751.29 L438 751.39 L438.5 751.49 L439 751.6 L439.5 751.7 L440 751.81 L440.5 751.91 L441 752.02 L441.5 752.12 L442 752.23 L442.5 752.33 L443 752.44 L443.5 752.54 L444 752.64 L444.5 752.75 L445 752.85 L445.5 752.95 L446 753.05 L446.5 753.15 L447 753.25 L447.5 753.34 L448 753.44 L448.5 753.53 L449 753.62 L449.5 753.71 L450 753.8 L450.5 753.88 L451 753.97 L451.5 754.06 L452 754.15 L452.5 754.24 L453 754.33 L453.5 754.41 L454 754.5 L454.5 754.59 L455 754.68 L455.5 754.77 L456 754.86 L456.5 754.95 L457 755.04 L457.5 755.13 L458 755.22 L458.5 755.31 L459 755.4 L459.5 755.49 L460 755.59 L460.5 755.68 L461 755.77 L461.5 755.87 L462 755.96 L462.5 756.06 L463 756.16 L463.5 756.25 L464 756.35 L464.5 756.45 L465 756.55 L465.5 756.66 L466 756.76 L466.5 756.86 L467 756.97 L467.5 757.07 L468 757.18 L468.5 757.29 L469 757.4 L469.5 757.51 L470 757.63 L470.5 757.74 L471 757.86 L471.5 757.98 L472 758.09 L472.5 758.22 L473 758.34 L473.5 758.46 L474 758.59 L474.5 758.72 L475 758.85 L475.5 758.98 L476 759.11 L476.5 759.25 L477 759.38 L477.5 759.52 L478 759.66 L478.5 759.81 L479 759.95 L479.5 760.1 L480 760.25 L480.5 760.41 L481 760.56 L481.5 760.72 L482 760.88 L482.5 761.04 L483 761.21 L483.5 761.38 L484 761.55 L484.5 761.72 L485 761.9 L485.5 762.07 L486 762.25 L486.5 762.44 L487 762.62 L487.5 762.81 L488 763 L488.5 763.2 L489 763.4 L489.5 763.6 L490 763.8 L490.5 764 L491 764.21 L491.5 764.42 L492 764.64 L492.5 764.86 L493 765.08 L493.5 765.3 L494 765.53 L494.5 765.76 L495 765.99 L495.5 766.22 L496 766.46 L496.5 766.71 L497 766.95 L497.5 767.2 L498 767.45 L498.5 767.71 L499 767.97 L499.5 768.23 L500 768.49 L500.5 768.76 L501 769.03 L501.5 769.31 L502 769.59 L502.5 769.87 L503 770.17 L503.5 770.48 L504 770.81 L504.5 771.15 L505 771.5 L505.5 771.86 L506 772.23 L506.5 772.61 L507 773.01 L507.5 773.41 L508 773.82 L508.5 774.24 L509 774.66 L509.5 775.1 L510 775.54 L510.5 775.98 L511 776.43 L511.5 776.89 L512 777.34 L512.5 777.81 L513 778.27 L513.5 778.74 L514 779.2 L514.5 779.67 L515 780.14 L515.5 780.61 L516 781.08 L516.5 781.54 L517 782.01 L517.5 782.47 L518 782.93 L518.5 783.39 L519 783.85 L519.5 784.31 L520 784.76 L520.5 785.22 L521 785.68 L521.5 786.14 L522 786.6 L522.5 787.06 L523 787.53 L523.5 787.99 L524 788.46 L524.5 788.94 L525 789.41 L525.5 789.89 L526 790.38 L526.5 790.86 L527 791.36 L527.5 791.85 L528 792.36 L528.5 792.87 L529 793.38 L529.5 793.9 L530 794.43 L530.5 794.97 L531 795.51 L531.5 796.07 L532 796.63 L532.5 797.19 L533 797.77 L533.5 798.36 L534 798.96 L534.5 799.56 L535 800.18 L535.5 800.81 L536 801.45 L536.5 802.1 L537 802.76 L537.5 803.43 L538 804.12 L538.5 804.83 L539 805.58 L539.5 806.37 L540 807.2 L540.5 808.07 L541 808.97 L541.5 809.89 L542 810.84 L542.5 811.81 L543 812.8 L543.5 813.8 L544 814.81 L544.5 815.82 L545 816.83 L545.5 817.84 L546 818.84 L546.5 819.83 L547 820.81 L547.5 821.76 L548 822.7 L548.5 823.62 L549 824.54 L549.5 825.46 L550 826.38 L550.5 827.29 L551 828.21 L551.5 829.12 L552 830.03 L552.5 830.95 L553 831.86 L553.5 832.77 L554 833.67 L554.5 834.58 L555 835.49 L555.5 836.4 L556 837.31 L556.5 838.21 L557 839.12 L557.5 840.03 L558 840.94 L558.5 841.84 L559 842.75 L559.5 843.66 L560 844.57 L560.5 845.48 L561 846.39 L561.5 847.3 L562 848.22 L562.5 849.13 L563 850.05 L563.5 850.96 L564 851.87 L564.5 852.77 L565 853.67 L565.5 854.58 L566 855.48 L566.5 856.38 L567 857.28 L567.5 858.19 L568 859.1 L568.5 860.01 L569 860.93 L569.5 861.86 L570 862.79 L570.5 863.73 L571 864.68 L571.5 865.64 L572 866.6 L572.5 867.59 L573 868.58 L573.5 869.59 L574 870.61 L574.5 871.64 L575 872.69 L575.5 873.74 L576 874.8 L576.5 875.86 L577 876.93 L577.5 878.01 L578 879.09 L578.5 880.17 L579 881.25 L579.5 882.34 L580 883.42 L580.5 884.49 L581 885.57 L581.5 886.64 L582 887.7 L582.5 888.76 L583 889.81 L583.5 890.85 L584 891.88 L584.5 892.9 L585 893.91 L585.5 894.9 L586 895.88 L586.5 896.87 L587 897.85 L587.5 898.82 L588 899.79 L588.5 900.76 L589 901.72 L589.5 902.68 L590 903.63 L590.5 904.57 L591 905.51 L591.5 906.43 L592 907.35 L592.5 908.26 L593 909.16 L593.5 910.04 L594 910.92 L594.5 911.79 L595 912.64 L595.5 913.49 L596 914.34 L596.5 915.18 L597 916.02 L597.5 916.86 L598 917.7 L598.5 918.53 L599 919.36 L599.5 920.18 L600 921 L600.5 921.81 L601 922.62 L601.5 923.43 L602 924.23 L602.5 925.02 L603 925.81 L603.5 926.59 L604 927.37 L604.5 928.14 L605 928.9 L605.5 929.66 L606 930.4 L606.5 931.15 L607 931.88 L607.5 932.61 L608 933.32 L608.5 934.03 L609 934.73 L609.5 935.43 L610 936.11 L610.5 936.78 L611 937.45 L611.5 938.1 L612 938.75 L612.5 939.38 L613 940.01 L613.5 940.65 L614 941.27 L614.5 941.9 L615 942.52 L615.5 943.14 L616 943.75 L616.5 944.35 L617 944.95 L617.5 945.54 L618 946.13 L618.5 946.71 L619 947.27 L619.5 947.83 L620 948.38 L620.5 948.92 L621 949.45 L621.5 949.96 L622 950.47 L622.5 950.96 L623 951.43 L623.5 951.9 L624 952.35 L624.5 952.78 L625 953.2 L625.5 953.6 L626 953.99 L626.5 954.38 L627 954.78 L627.5 955.17 L628 955.55 L628.5 955.94 L629 956.33 L629.5 956.71 L630 957.09 L630.5 957.47 L631 957.84 L631.5 958.22 L632 958.59 L632.5 958.95 L633 959.32 L633.5 959.68 L634 960.03 L634.5 960.38 L635 960.73 L635.5 961.07 L636 961.41 L636.5 961.75 L637 962.07 L637.5 962.4 L638 962.72 L638.5 963.03 L639 963.33 L639.5 963.63 L640 963.93 L640.5 964.22 L641 964.5 L641.5 964.77 L642 965.04 L642.5 965.3 L643 965.55 L643.5 965.8 L644 966.03 L644.5 966.26 L645 966.48 L645.5 966.7 L646 966.9 L646.5 967.1 L647 967.28 L647.5 967.46 L648 967.63 L648.5 967.78 L649 967.93 L649.5 968.07 L650 968.2 L650.5 968.31 L651 968.42 L651.5 968.52 L652 968.63 L652.5 968.73 L653 968.83 L653.5 968.93 L654 969.02 L654.5 969.12 L655 969.22 L655.5 969.31 L656 969.4 L656.5 969.5 L657 969.58 L657.5 969.67 L658 969.76 L658.5 969.84 L659 969.92 L659.5 970 L660 970.08 L660.5 970.15 L661 970.23 L661.5 970.3 L662 970.36 L662.5 970.43 L663 970.49 L663.5 970.55 L664 970.6 L664.5 970.65 L665 970.7 L665.5 970.75 L666 970.79 L666.5 970.83 L667 970.86 L667.5 970.89 L668 970.92 L668.5 970.95 L669 970.96 L669.5 970.98 L670 970.99 L670.5 971 L671 971 L671.5 971 L672 970.99 L672.5 970.98 L673 970.96 L673.5 970.95 L674 970.92 L674.5 970.89 L675 970.86 L675.5 970.83 L676 970.79 L676.5 970.74 L677 970.7 L677.5 970.65 L678 970.6 L678.5 970.54 L679 970.48 L679.5 970.42 L680 970.35 L680.5 970.28 L681 970.21 L681.5 970.13 L682 970.05 L682.5 969.97 L683 969.89 L683.5 969.8 L684 969.72 L684.5 969.63 L685 969.53 L685.5 969.44 L686 969.34 L686.5 969.24 L687 969.14 L687.5 969.04 L688 968.93 L688.5 968.83 L689 968.72 L689.5 968.61 L690 968.5 L690.5 968.39 L691 968.27 L691.5 968.16 L692 968.04 L692.5 967.93 L693 967.81 L693.5 967.69 L694 967.57 L694.5 967.45 L695 967.33 L695.5 967.21 L696 967.09 L696.5 966.97 L697 966.84 L697.5 966.72 L698 966.6 L698.5 966.48 L699 966.36 L699.5 966.23 L700 966.11 L700.5 965.99 L701 965.87 L701.5 965.75 L702 965.63 L702.5 965.5 L703 965.37 L703.5 965.23 L704 965.09 L704.5 964.95 L705 964.8 L705.5 964.64 L706 964.48 L706.5 964.32 L707 964.15 L707.5 963.98 L708 963.81 L708.5 963.63 L709 963.45 L709.5 963.27 L710 963.09 L710.5 962.9 L711 962.71 L711.5 962.52 L712 962.32 L712.5 962.13 L713 961.93 L713.5 961.74 L714 961.54 L714.5 961.34 L715 961.14 L715.5 960.94 L716 960.74 L716.5 960.54 L717 960.34 L717.5 960.14 L718 959.94 L718.5 959.74 L719 959.54 L719.5 959.34 L720 959.14 L720.5 958.94 L721 958.74 L721.5 958.54 L722 958.33 L722.5 958.13 L723 957.92 L723.5 957.71 L724 957.5 L724.5 957.29 L725 957.07 L725.5 956.86 L726 956.65 L726.5 956.43 L727 956.21 L727.5 955.99 L728 955.78 L728.5 955.56 L729 955.33 L729.5 955.11 L730 954.89 L730.5 954.66 L731 954.44 L731.5 954.21 L732 953.99 L732.5 953.76 L733 953.53 L733.5 953.3 L734 953.07 L734.5 952.84 L735 952.61 L735.5 952.38 L736 952.15 L736.5 951.91 L737 951.68 L737.5 951.44 L738 951.21 L738.5 950.97 L739 950.74 L739.5 950.5 L740 950.27 L740.5 950.03 L741 949.79 L741.5 949.55 L742 949.31 L742.5 949.08 L743 948.84 L743.5 948.6 L744 948.36 L744.5 948.12 L745 947.88 L745.5 947.64 L746 947.4 L746.5 947.16 L747 946.92 L747.5 946.68 L748 946.44 L748.5 946.2 L749 945.96 L749.5 945.72 L750 945.47 L750.5 945.23 L751 944.98 L751.5 944.74 L752 944.49 L752.5 944.24 L753 943.99 L753.5 943.74 L754 943.49 L754.5 943.23 L755 942.98 L755.5 942.73 L756 942.47 L756.5 942.22 L757 941.96 L757.5 941.71 L758 941.45 L758.5 941.19 L759 940.94 L759.5 940.68 L760 940.42 L760.5 940.17 L761 939.91 L761.5 939.65 L762 939.39 L762.5 939.14 L763 938.88 L763.5 938.62 L764 938.37 L764.5 938.11 L765 937.85 L765.5 937.6 L766 937.34 L766.5 937.09 L767 936.83 L767.5 936.58 L768 936.32 L768.5 936.06 L769 935.81 L769.5 935.55 L770 935.3 L770.5 935.04 L771 934.79 L771.5 934.53 L772 934.27 L772.5 934.02 L773 933.76 L773.5 933.5 L774 933.25 L774.5 932.99 L775 932.73 L775.5 932.48 L776 932.22 L776.5 931.96 L777 931.71 L777.5 931.45 L778 931.19 L778.5 930.93 L779 930.68 L779.5 930.42 L780 930.16 L780.5 929.9 L781 929.64 L781.5 929.39 L782 929.13 L782.5 928.87 L783 928.61 L783.5 928.35 L784 928.09 L784.5 927.83 L785 927.57 L785.5 927.31 L786 927.05 L786.5 926.79 L787 926.53 L787.5 926.27 L788 926.01 L788.5 925.75 L789 925.49 L789.5 925.23 L790 924.97 L790.5 924.71 L791 924.45 L791.5 924.19 L792 923.92 L792.5 923.66 L793 923.4 L793.5 923.14 L794 922.87 L794.5 922.61 L795 922.34 L795.5 922.07 L796 921.8 L796.5 921.53 L797 921.26 L797.5 920.99 L798 920.72 L798.5 920.45 L799 920.18 L799.5 919.91 L800 919.64 L800.5 919.36 L801 919.09 L801.5 918.82 L802 918.55 L802.5 918.28 L803 918.01 L803.5 917.74 L804 917.47 L804.5 917.2 L805 916.94 L805.5 916.67 L806 916.41 L806.5 916.14 L807 915.88 L807.5 915.62 L808 915.36 L808.5 915.11 L809 914.85 L809.5 914.6 L810 914.35 L810.5 914.1 L811 913.85 L811.5 913.61 L812 913.36 L812.5 913.11 L813 912.87 L813.5 912.62 L814 912.38 L814.5 912.14 L815 911.89 L815.5 911.65 L816 911.41 L816.5 911.17 L817 910.93 L817.5 910.69 L818 910.45 L818.5 910.21 L819 909.98 L819.5 909.74 L820 909.5 L820.5 909.27 L821 909.03 L821.5 908.8 L822 908.57 L822.5 908.33 L823 908.1 L823.5 907.87 L824 907.64 L824.5 907.41 L825 907.18 L825.5 906.95 L826 906.72 L826.5 906.49 L827 906.26 L827.5 906.03 L828 905.8 L828.5 905.58 L829 905.35 L829.5 905.13 L830 904.9 L830.5 904.67 L831 904.45 L831.5 904.23 L832 904 L832.5 903.78 L833 903.56 L833.5 903.33 L834 903.11 L834.5 902.89 L835 902.67 L835.5 902.45 L836 902.23 L836.5 902.01 L837 901.79 L837.5 901.57 L838 901.35 L838.5 901.13 L839 900.91 L839.5 900.69 L840 900.48 L840.5 900.26 L841 900.04 L841.5 899.82 L842 899.6 L842.5 899.39 L843 899.17 L843.5 898.95 L844 898.73 L844.5 898.52 L845 898.3 L845.5 898.09 L846 897.87 L846.5 897.66 L847 897.44 L847.5 897.23 L848 897.02 L848.5 896.8 L849 896.59 L849.5 896.38 L850 896.17 L850.5 895.96 L851 895.76 L851.5 895.55 L852 895.34 L852.5 895.14 L853 894.93 L853.5 894.73 L854 894.53 L854.5 894.33 L855 894.13 L855.5 893.93 L856 893.73 L856.5 893.53 L857 893.34 L857.5 893.15 L858 892.95 L858.5 892.76 L859 892.57 L859.5 892.39 L860 892.2 L860.5 892.02 L861 891.83 L861.5 891.65 L862 891.46 L862.5 891.28 L863 891.1 L863.5 890.92 L864 890.74 L864.5 890.56 L865 890.38 L865.5 890.21 L866 890.03 L866.5 889.86 L867 889.68 L867.5 889.51 L868 889.34 L868.5 889.17 L869 889 L869.5 888.83 L870 888.67 L870.5 888.5 L871 888.34 L871.5 888.18 L872 888.02 L872.5 887.86 L873 887.7 L873.5 887.55 L874 887.4 L874.5 887.24 L875 887.09 L875.5 886.95 L876 886.8 L876.5 886.66 L877 886.51 L877.5 886.37 L878 886.23 L878.5 886.09 L879 885.95 L879.5 885.81 L880 885.67 L880.5 885.54 L881 885.4 L881.5 885.27 L882 885.13 L882.5 885 L883 884.87 L883.5 884.74 L884 884.61 L884.5 884.48 L885 884.35 L885.5 884.22 L886 884.1 L886.5 883.97 L887 883.85 L887.5 883.72 L888 883.6 L888.5 883.47 L889 883.35 L889.5 883.23 L890 883.11 L890.5 882.99 L891 882.86 L891.5 882.74 L892 882.62 L892.5 882.5 L893 882.39 L893.5 882.27 L894 882.15 L894.5 882.03 L895 881.91 L895.5 881.8 L896 881.68 L896.5 881.56 L897 881.45 L897.5 881.33 L898 881.21 L898.5 881.1 L899 880.98 L899.5 880.87 L900 880.75 L900.5 880.63 L901 880.52 L901.5 880.4 L902 880.29 L902.5 880.17 L903 880.06 L903.5 879.94 L904 879.82 L904.5 879.71 L905 879.59 L905.5 879.48 L906 879.36 L906.5 879.24 L907 879.13 L907.5 879.01 L908 878.89 L908.5 878.77 L909 878.66 L909.5 878.54 L910 878.42 L910.5 878.3 L911 878.18 L911.5 878.06 L912 877.94 L912.5 877.82 L913 877.71 L913.5 877.59 L914 877.47 L914.5 877.35 L915 877.23 L915.5 877.11 L916 877 L916.5 876.88 L917 876.76 L917.5 876.64 L918 876.53 L918.5 876.41 L919 876.3 L919.5 876.18 L920 876.07 L920.5 875.95 L921 875.84 L921.5 875.72 L922 875.61 L922.5 875.5 L923 875.39 L923.5 875.28 L924 875.17 L924.5 875.06 L925 874.95 L925.5 874.84 L926 874.73 L926.5 874.63 L927 874.52 L927.5 874.42 L928 874.31 L928.5 874.21 L929 874.11 L929.5 874.01 L930 873.91 L930.5 873.81 L931 873.72 L931.5 873.62 L932 873.53 L932.5 873.43 L933 873.34 L933.5 873.25 L934 873.16 L934.5 873.07 L935 872.99 L935.5 872.9 L936 872.82 L936.5 872.73 L937 872.65 L937.5 872.57 L938 872.49 L938.5 872.41 L939 872.33 L939.5 872.25 L940 872.16 L940.5 872.09 L941 872.01 L941.5 871.93 L942 871.85 L942.5 871.77 L943 871.69 L943.5 871.61 L944 871.54 L944.5 871.46 L945 871.38 L945.5 871.31 L946 871.23 L946.5 871.16 L947 871.08 L947.5 871.01 L948 870.93 L948.5 870.86 L949 870.78 L949.5 870.71 L950 870.64 L950.5 870.57 L951 870.49 L951.5 870.42 L952 870.35 L952.5 870.28 L953 870.21 L953.5 870.14 L954 870.07 L954.5 870 L955 869.93 L955.5 869.86 L956 869.79 L956.5 869.73 L957 869.66 L957.5 869.59 L958 869.52 L958.5 869.46 L959 869.39 L959.5 869.32 L960 869.26 L960.5 869.19 L961 869.13 L961.5 869.06 L962 869 L962.5 868.94 L963 868.87 L963.5 868.81 L964 868.75 L964.5 868.69 L965 868.62 L965.5 868.56 L966 868.5 L966.5 868.44 L967 868.38 L967.5 868.32 L968 868.26 L968.5 868.2 L969 868.14 L969.5 868.08 L970 868.03 L970.5 867.97 L971 867.91 L971.5 867.85 L972 867.8 L972.5 867.74 L973 867.69 L973.5 867.63 L974 867.58 L974.5 867.52 L975 867.47 L975.5 867.41 L976 867.36 L976.5 867.31 L977 867.25 L977.5 867.2 L978 867.15 L978.5 867.1 L979 867.04 L979.5 866.99 L980 866.94 L980.5 866.89 L981 866.84 L981.5 866.79 L982 866.74 L982.5 866.69 L983 866.65 L983.5 866.6 L984 866.55 L984.5 866.5 L985 866.46 L985.5 866.41 L986 866.36 L986.5 866.32 L987 866.27 L987.5 866.23 L988 866.18 L988.5 866.14 L989 866.1 L989.5 866.06 L990 866.02 L990.5 865.97 L991 865.93 L991.5 865.89 L992 865.85 L992.5 865.81 L993 865.78 L993.5 865.74 L994 865.7 L994.5 865.66 L995 865.62 L995.5 865.59 L996 865.55 L996.5 865.51 L997 865.48 L997.5 865.44 L998 865.4 L998.5 865.37 L999 865.33 L999.5 865.3 L1000 865.26 L1000.5 865.23 L1001 865.19 L1001.5 865.16 L1002 865.12 L1002.5 865.09 L1003 865.05 L1003.5 865.02 L1004 864.98 L1004.5 864.95 L1005 864.91 L1005.5 864.88 L1006 864.84 L1006.5 864.81 L1007 864.78 L1007.5 864.74 L1008 864.71 L1008.5 864.67 L1009 864.64 L1009.5 864.6 L1010 864.57 L1010.5 864.54 L1011 864.5 L1011.5 864.47 L1012 864.43 L1012.5 864.4 L1013 864.37 L1013.5 864.33 L1014 864.3 L1014.5 864.27 L1015 864.23 L1015.5 864.2 L1016 864.17 L1016.5 864.14 L1017 864.1 L1017.5 864.07 L1018 864.04 L1018.5 864.01 L1019 863.97 L1019.5 863.94 L1020 863.91 L1020.5 863.88 L1021 863.85 L1021.5 863.81 L1022 863.78 L1022.5 863.75 L1023 863.72 L1023.5 863.69 L1024 863.66 L1024.5 863.63 L1025 863.6 L1025.5 863.57 L1026 863.54 L1026.5 863.51 L1027 863.47 L1027.5 863.44 L1028 863.41 L1028.5 863.38 L1029 863.36 L1029.5 863.33 L1030 863.3 L1030.5 863.27 L1031 863.24 L1031.5 863.21 L1032 863.18 L1032.5 863.15 L1033 863.12 L1033.5 863.09 L1034 863.07 L1034.5 863.04 L1035 863.01 L1035.5 862.98 L1036 862.95 L1036.5 862.93 L1037 862.9" fill="none" stroke="#0000ff" stroke-width="2.4" stroke-dasharray="31.85 18.92"/>
<rect x="174.4" y="744.1" width="8.4" height="451.5" fill="#0070bb" stroke="#000" stroke-width="1.8"/>
<rect x="201.8" y="888.8" width="8.4" height="306.8" fill="#0070bb" stroke="#000" stroke-width="1.8"/>
<rect x="256.5" y="909.8" width="8.4" height="285.8" fill="#0070bb" stroke="#000" stroke-width="1.8"/>
<rect x="289.3" y="740.4" width="8.4" height="455.2" fill="#0070bb" stroke="#000" stroke-width="1.8"/>
<rect x="311.4" y="794.5" width="8.4" height="401.1" fill="#0070bb" stroke="#000" stroke-width="1.8"/>
<rect x="458.8" y="986.9" width="8.4" height="208.7" fill="#0070bb" stroke="#000" stroke-width="1.8"/>
<rect x="595.7" y="963.5" width="8.4" height="232.1" fill="#0070bb" stroke="#000" stroke-width="1.8"/>
<rect x="628.3" y="898" width="8.4" height="297.6" fill="#0070bb" stroke="#000" stroke-width="1.8"/>
<rect x="775.7" y="956.9" width="8.4" height="238.7" fill="#0070bb" stroke="#000" stroke-width="1.8"/>
<rect x="884.9" y="872.6" width="8.4" height="323" fill="#0070bb" stroke="#000" stroke-width="1.8"/>
<rect x="950.6" y="825.4" width="8.4" height="370.2" fill="#0070bb" stroke="#000" stroke-width="1.8"/>
<rect x="967.2" y="846.3" width="8.4" height="349.3" fill="#0070bb" stroke="#000" stroke-width="1.8"/>
<line x1="178.6" y1="738" x2="178.6" y2="750.6" stroke="#000" stroke-width="1.9" />
<line x1="165.7" y1="738" x2="191.5" y2="738" stroke="#000" stroke-width="1.9" />
<line x1="165.7" y1="750.6" x2="191.5" y2="750.6" stroke="#000" stroke-width="1.9" />
<line x1="206" y1="883" x2="206" y2="895.6" stroke="#000" stroke-width="1.9" />
<line x1="193.1" y1="883" x2="218.9" y2="883" stroke="#000" stroke-width="1.9" />
<line x1="193.1" y1="895.6" x2="218.9" y2="895.6" stroke="#000" stroke-width="1.9" />
<line x1="260.7" y1="908.2" x2="260.7" y2="912" stroke="#000" stroke-width="1.9" />
<line x1="247.8" y1="908.2" x2="273.6" y2="908.2" stroke="#000" stroke-width="1.9" />
<line x1="247.8" y1="912" x2="273.6" y2="912" stroke="#000" stroke-width="1.9" />
<line x1="293.5" y1="727" x2="293.5" y2="755.3" stroke="#000" stroke-width="1.9" />
<line x1="280.6" y1="727" x2="306.4" y2="727" stroke="#000" stroke-width="1.9" />
<line x1="280.6" y1="755.3" x2="306.4" y2="755.3" stroke="#000" stroke-width="1.9" />
<line x1="315.6" y1="782.7" x2="315.6" y2="807.5" stroke="#000" stroke-width="1.9" />
<line x1="302.7" y1="782.7" x2="328.5" y2="782.7" stroke="#000" stroke-width="1.9" />
<line x1="302.7" y1="807.5" x2="328.5" y2="807.5" stroke="#000" stroke-width="1.9" />
<line x1="463" y1="955.9" x2="463" y2="1019" stroke="#000" stroke-width="1.9" />
<line x1="450.1" y1="955.9" x2="475.9" y2="955.9" stroke="#000" stroke-width="1.9" />
<line x1="450.1" y1="1019" x2="475.9" y2="1019" stroke="#000" stroke-width="1.9" />
<line x1="599.9" y1="963" x2="599.9" y2="964" stroke="#000" stroke-width="1.9" />
<line x1="587" y1="963" x2="612.8" y2="963" stroke="#000" stroke-width="1.9" />
<line x1="587" y1="964" x2="612.8" y2="964" stroke="#000" stroke-width="1.9" />
<line x1="632.5" y1="895.6" x2="632.5" y2="901.2" stroke="#000" stroke-width="1.9" />
<line x1="619.6" y1="895.6" x2="645.4" y2="895.6" stroke="#000" stroke-width="1.9" />
<line x1="619.6" y1="901.2" x2="645.4" y2="901.2" stroke="#000" stroke-width="1.9" />
<line x1="779.9" y1="925" x2="779.9" y2="988.9" stroke="#000" stroke-width="1.9" />
<line x1="767" y1="925" x2="792.8" y2="925" stroke="#000" stroke-width="1.9" />
<line x1="767" y1="988.9" x2="792.8" y2="988.9" stroke="#000" stroke-width="1.9" />
<line x1="889.1" y1="862.8" x2="889.1" y2="882.6" stroke="#000" stroke-width="1.9" />
<line x1="876.2" y1="862.8" x2="902" y2="862.8" stroke="#000" stroke-width="1.9" />
<line x1="876.2" y1="882.6" x2="902" y2="882.6" stroke="#000" stroke-width="1.9" />
<line x1="954.8" y1="796.6" x2="954.8" y2="853.5" stroke="#000" stroke-width="1.9" />
<line x1="941.9" y1="796.6" x2="967.7" y2="796.6" stroke="#000" stroke-width="1.9" />
<line x1="941.9" y1="853.5" x2="967.7" y2="853.5" stroke="#000" stroke-width="1.9" />
<line x1="971.4" y1="836.1" x2="971.4" y2="856.5" stroke="#000" stroke-width="1.9" />
<line x1="958.5" y1="836.1" x2="984.3" y2="836.1" stroke="#000" stroke-width="1.9" />
<line x1="958.5" y1="856.5" x2="984.3" y2="856.5" stroke="#000" stroke-width="1.9" />
<circle cx="463.3" cy="755.4" r="12.6" fill="#fff" stroke="#0000ff" stroke-width="2.5"/>
<circle cx="599.6" cy="826.7" r="12.6" fill="#fff" stroke="#0000ff" stroke-width="2.5"/>
<circle cx="632.5" cy="851" r="12.6" fill="#fff" stroke="#0000ff" stroke-width="2.5"/>
<circle cx="779.9" cy="948.2" r="12.6" fill="#fff" stroke="#0000ff" stroke-width="2.5"/>
<circle cx="889.1" cy="885.5" r="12.6" fill="#fff" stroke="#0000ff" stroke-width="2.5"/>
<circle cx="954.5" cy="861.7" r="12.6" fill="#fff" stroke="#0000ff" stroke-width="2.5"/>
<circle cx="971.5" cy="861.7" r="12.6" fill="#fff" stroke="#0000ff" stroke-width="2.5"/>
<line x1="450.3" y1="755.4" x2="476.3" y2="755.4" stroke="#000" stroke-width="2.5" />
<line x1="586.6" y1="826.7" x2="612.6" y2="826.7" stroke="#000" stroke-width="2.5" />
<line x1="632.5" y1="849.2" x2="632.5" y2="852.9" stroke="#000" stroke-width="1.9" />
<line x1="619.5" y1="849.2" x2="645.5" y2="849.2" stroke="#000" stroke-width="1.9" />
<line x1="619.5" y1="852.9" x2="645.5" y2="852.9" stroke="#000" stroke-width="1.9" />
<line x1="766.9" y1="948.2" x2="792.9" y2="948.2" stroke="#000" stroke-width="2.5" />
<line x1="876.1" y1="885.5" x2="902.1" y2="885.5" stroke="#000" stroke-width="2.5" />
<line x1="941.5" y1="861.7" x2="967.5" y2="861.7" stroke="#000" stroke-width="2.5" />
<line x1="958.5" y1="861.7" x2="984.5" y2="861.7" stroke="#000" stroke-width="2.5" />
<line x1="107.6" y1="703.6" x2="107.6" y2="1196.2" stroke="#000" stroke-width="1.35" />
<line x1="107" y1="1195.6" x2="1037.5" y2="1195.6" stroke="#000" stroke-width="1.35" />
<text x="96.6" y="1208.1" font-size="29" text-anchor="end" fill="#000"  transform="matrix(1 0 0 1.05 0 -60.41)">0</text>
<line x1="107.6" y1="1106.2" x2="118" y2="1106.2" stroke="#000" stroke-width="1.25" />
<text x="96.6" y="1118.7" font-size="29" text-anchor="end" fill="#000"  transform="matrix(1 0 0 1.05 0 -55.94)">0.2</text>
<line x1="107.6" y1="1016.8" x2="118" y2="1016.8" stroke="#000" stroke-width="1.25" />
<text x="96.6" y="1029.3" font-size="29" text-anchor="end" fill="#000"  transform="matrix(1 0 0 1.05 0 -51.47)">0.4</text>
<line x1="107.6" y1="927.4" x2="118" y2="927.4" stroke="#000" stroke-width="1.25" />
<text x="96.6" y="939.9" font-size="29" text-anchor="end" fill="#000"  transform="matrix(1 0 0 1.05 0 -47)">0.6</text>
<line x1="107.6" y1="838" x2="118" y2="838" stroke="#000" stroke-width="1.25" />
<text x="96.6" y="850.5" font-size="29" text-anchor="end" fill="#000"  transform="matrix(1 0 0 1.05 0 -42.53)">0.8</text>
<line x1="107.6" y1="748.6" x2="118" y2="748.6" stroke="#000" stroke-width="1.25" />
<text x="96.6" y="761.1" font-size="29" text-anchor="end" fill="#000"  transform="matrix(1 0 0 1.05 0 -38.06)">1.0</text>
<text x="108.1" y="1233.1" font-size="29" text-anchor="middle" fill="#000"  transform="matrix(1 0 0 1.05 0 -61.66)">0.4</text>
<line x1="217.38" y1="1195.6" x2="217.38" y2="1186.6" stroke="#000" stroke-width="1.25" />
<text x="217.38" y="1233.1" font-size="29" text-anchor="middle" fill="#000"  transform="matrix(1 0 0 1.05 0 -61.66)">0.6</text>
<line x1="326.66" y1="1195.6" x2="326.66" y2="1186.6" stroke="#000" stroke-width="1.25" />
<text x="326.66" y="1233.1" font-size="29" text-anchor="middle" fill="#000"  transform="matrix(1 0 0 1.05 0 -61.66)">0.8</text>
<line x1="435.94" y1="1195.6" x2="435.94" y2="1186.6" stroke="#000" stroke-width="1.25" />
<text x="435.94" y="1233.1" font-size="29" text-anchor="middle" fill="#000"  transform="matrix(1 0 0 1.05 0 -61.66)">1.0</text>
<line x1="545.22" y1="1195.6" x2="545.22" y2="1186.6" stroke="#000" stroke-width="1.25" />
<text x="545.22" y="1233.1" font-size="29" text-anchor="middle" fill="#000"  transform="matrix(1 0 0 1.05 0 -61.66)">1.2</text>
<line x1="654.5" y1="1195.6" x2="654.5" y2="1186.6" stroke="#000" stroke-width="1.25" />
<text x="654.5" y="1233.1" font-size="29" text-anchor="middle" fill="#000"  transform="matrix(1 0 0 1.05 0 -61.66)">1.4</text>
<line x1="763.78" y1="1195.6" x2="763.78" y2="1186.6" stroke="#000" stroke-width="1.25" />
<text x="763.78" y="1233.1" font-size="29" text-anchor="middle" fill="#000"  transform="matrix(1 0 0 1.05 0 -61.66)">1.6</text>
<line x1="873.06" y1="1195.6" x2="873.06" y2="1186.6" stroke="#000" stroke-width="1.25" />
<text x="873.06" y="1233.1" font-size="29" text-anchor="middle" fill="#000"  transform="matrix(1 0 0 1.05 0 -61.66)">1.8</text>
<line x1="982.34" y1="1195.6" x2="982.34" y2="1186.6" stroke="#000" stroke-width="1.25" />
<text x="982.34" y="1233.1" font-size="29" text-anchor="middle" fill="#000"  transform="matrix(1 0 0 1.05 0 -61.66)">2.0</text>
<text x="510" y="1276.3" font-size="28" text-anchor="start" fill="#000" >−Δ<tspan font-style="italic">G</tspan></text>
<circle cx="571.1" cy="1257" r="3.4" fill="none" stroke="#000" stroke-width="1.6"/>
<text x="584.7" y="1276.3" font-size="26.3" text-anchor="start" fill="#000" >(eV)</text>
<text transform="translate(34,936) rotate(-90)" font-size="29" text-anchor="middle" fill="#000"><tspan dy="-12" font-size="21">3</tspan><tspan dy="12">O</tspan><tspan dy="7" font-size="21">2</tspan><tspan dy="-7">/RM</tspan><tspan dy="-12" font-size="21">ox</tspan></text>
<line x1="599.6" y1="722.1" x2="631.5" y2="722.1" stroke="#0000ff" stroke-width="2.4" />
<line x1="642.4" y1="722.1" x2="671.7" y2="722.1" stroke="#0000ff" stroke-width="2.4" />
<circle cx="635.2" cy="762.5" r="12.6" fill="none" stroke="#0000ff" stroke-width="2.5"/>
<text x="687" y="730" font-size="29.5" text-anchor="start" fill="#000"  transform="matrix(1 0 0 1.07 0 -51.1)">Simulated with <tspan font-style="italic">k</tspan><tspan dy="8" font-size="20">Q</tspan><tspan dy="-8"> trend</tspan></text>
<text x="687" y="772" font-size="29.5" text-anchor="start" fill="#000"  transform="matrix(1 0 0 1.07 0 -54.04)">Simulated with individual <tspan font-style="italic">k</tspan><tspan dy="8" font-size="20">Q</tspan></text>
<text x="-0.6" y="704.3" font-size="31.5" text-anchor="start" fill="#000" font-weight="bold" stroke="#000" stroke-width="1.4" stroke-linejoin="round">b</text>
<path d="M107.7 1804.3 L108.2 1804.3 L108.7 1804.3 L109.2 1804.3 L109.7 1804.3 L110.2 1804.3 L110.7 1804.3 L111.2 1804.3 L111.7 1804.3 L112.2 1804.3 L112.7 1804.3 L113.2 1804.3 L113.7 1804.3 L114.2 1804.3 L114.7 1804.3 L115.2 1804.3 L115.7 1804.3 L116.2 1804.3 L116.7 1804.3 L117.2 1804.3 L117.7 1804.3 L118.2 1804.3 L118.7 1804.3 L119.2 1804.3 L119.7 1804.3 L120.2 1804.3 L120.7 1804.3 L121.2 1804.3 L121.7 1804.3 L122.2 1804.3 L122.7 1804.3 L123.2 1804.3 L123.7 1804.3 L124.2 1804.3 L124.7 1804.3 L125.2 1804.3 L125.7 1804.3 L126.2 1804.3 L126.7 1804.3 L127.2 1804.3 L127.7 1804.3 L128.2 1804.3 L128.7 1804.3 L129.2 1804.3 L129.7 1804.3 L130.2 1804.3 L130.7 1804.3 L131.2 1804.3 L131.7 1804.3 L132.2 1804.3 L132.7 1804.3 L133.2 1804.3 L133.7 1804.3 L134.2 1804.3 L134.7 1804.3 L135.2 1804.3 L135.7 1804.3 L136.2 1804.3 L136.7 1804.3 L137.2 1804.3 L137.7 1804.3 L138.2 1804.3 L138.7 1804.3 L139.2 1804.3 L139.7 1804.3 L140.2 1804.3 L140.7 1804.3 L141.2 1804.3 L141.7 1804.3 L142.2 1804.3 L142.7 1804.3 L143.2 1804.3 L143.7 1804.3 L144.2 1804.3 L144.7 1804.3 L145.2 1804.3 L145.7 1804.3 L146.2 1804.3 L146.7 1804.3 L147.2 1804.3 L147.7 1804.3 L148.2 1804.3 L148.7 1804.3 L149.2 1804.3 L149.7 1804.3 L150.2 1804.3 L150.7 1804.3 L151.2 1804.3 L151.7 1804.3 L152.2 1804.3 L152.7 1804.3 L153.2 1804.3 L153.7 1804.3 L154.2 1804.3 L154.7 1804.3 L155.2 1804.3 L155.7 1804.3 L156.2 1804.3 L156.7 1804.3 L157.2 1804.3 L157.7 1804.3 L158.2 1804.3 L158.7 1804.3 L159.2 1804.3 L159.7 1804.3 L160.2 1804.3 L160.7 1804.3 L161.2 1804.3 L161.7 1804.3 L162.2 1804.3 L162.7 1804.3 L163.2 1804.3 L163.7 1804.3 L164.2 1804.3 L164.7 1804.3 L165.2 1804.3 L165.7 1804.3 L166.2 1804.3 L166.7 1804.3 L167.2 1804.3 L167.7 1804.3 L168.2 1804.3 L168.7 1804.3 L169.2 1804.3 L169.7 1804.3 L170.2 1804.3 L170.7 1804.3 L171.2 1804.3 L171.7 1804.3 L172.2 1804.3 L172.7 1804.3 L173.2 1804.3 L173.7 1804.3 L174.2 1804.3 L174.7 1804.3 L175.2 1804.3 L175.7 1804.3 L176.2 1804.3 L176.7 1804.3 L177.2 1804.3 L177.7 1804.3 L178.2 1804.3 L178.7 1804.3 L179.2 1804.3 L179.7 1804.3 L180.2 1804.3 L180.7 1804.3 L181.2 1804.3 L181.7 1804.3 L182.2 1804.3 L182.7 1804.3 L183.2 1804.3 L183.7 1804.3 L184.2 1804.3 L184.7 1804.29 L185.2 1804.29 L185.7 1804.29 L186.2 1804.29 L186.7 1804.29 L187.2 1804.29 L187.7 1804.29 L188.2 1804.29 L188.7 1804.29 L189.2 1804.29 L189.7 1804.29 L190.2 1804.29 L190.7 1804.29 L191.2 1804.29 L191.7 1804.29 L192.2 1804.29 L192.7 1804.29 L193.2 1804.29 L193.7 1804.29 L194.2 1804.29 L194.7 1804.29 L195.2 1804.29 L195.7 1804.29 L196.2 1804.29 L196.7 1804.29 L197.2 1804.29 L197.7 1804.29 L198.2 1804.29 L198.7 1804.29 L199.2 1804.29 L199.7 1804.29 L200.2 1804.29 L200.7 1804.29 L201.2 1804.29 L201.7 1804.29 L202.2 1804.29 L202.7 1804.29 L203.2 1804.29 L203.7 1804.29 L204.2 1804.29 L204.7 1804.29 L205.2 1804.29 L205.7 1804.29 L206.2 1804.29 L206.7 1804.29 L207.2 1804.29 L207.7 1804.29 L208.2 1804.29 L208.7 1804.29 L209.2 1804.29 L209.7 1804.29 L210.2 1804.29 L210.7 1804.29 L211.2 1804.29 L211.7 1804.29 L212.2 1804.29 L212.7 1804.29 L213.2 1804.29 L213.7 1804.29 L214.2 1804.29 L214.7 1804.29 L215.2 1804.29 L215.7 1804.29 L216.2 1804.29 L216.7 1804.29 L217.2 1804.29 L217.7 1804.29 L218.2 1804.29 L218.7 1804.29 L219.2 1804.29 L219.7 1804.29 L220.2 1804.29 L220.7 1804.29 L221.2 1804.29 L221.7 1804.29 L222.2 1804.29 L222.7 1804.29 L223.2 1804.29 L223.7 1804.29 L224.2 1804.29 L224.7 1804.29 L225.2 1804.29 L225.7 1804.29 L226.2 1804.29 L226.7 1804.29 L227.2 1804.29 L227.7 1804.29 L228.2 1804.29 L228.7 1804.29 L229.2 1804.29 L229.7 1804.29 L230.2 1804.29 L230.7 1804.29 L231.2 1804.29 L231.7 1804.29 L232.2 1804.29 L232.7 1804.29 L233.2 1804.29 L233.7 1804.29 L234.2 1804.29 L234.7 1804.29 L235.2 1804.29 L235.7 1804.29 L236.2 1804.29 L236.7 1804.29 L237.2 1804.29 L237.7 1804.28 L238.2 1804.28 L238.7 1804.28 L239.2 1804.28 L239.7 1804.28 L240.2 1804.28 L240.7 1804.28 L241.2 1804.28 L241.7 1804.28 L242.2 1804.28 L242.7 1804.28 L243.2 1804.28 L243.7 1804.28 L244.2 1804.28 L244.7 1804.28 L245.2 1804.28 L245.7 1804.28 L246.2 1804.28 L246.7 1804.28 L247.2 1804.28 L247.7 1804.28 L248.2 1804.28 L248.7 1804.28 L249.2 1804.28 L249.7 1804.28 L250.2 1804.28 L250.7 1804.28 L251.2 1804.28 L251.7 1804.28 L252.2 1804.28 L252.7 1804.28 L253.2 1804.28 L253.7 1804.28 L254.2 1804.28 L254.7 1804.28 L255.2 1804.28 L255.7 1804.28 L256.2 1804.28 L256.7 1804.28 L257.2 1804.28 L257.7 1804.28 L258.2 1804.28 L258.7 1804.28 L259.2 1804.28 L259.7 1804.28 L260.2 1804.28 L260.7 1804.28 L261.2 1804.28 L261.7 1804.28 L262.2 1804.28 L262.7 1804.28 L263.2 1804.28 L263.7 1804.28 L264.2 1804.28 L264.7 1804.28 L265.2 1804.28 L265.7 1804.28 L266.2 1804.28 L266.7 1804.28 L267.2 1804.28 L267.7 1804.28 L268.2 1804.28 L268.7 1804.28 L269.2 1804.28 L269.7 1804.28 L270.2 1804.28 L270.7 1804.28 L271.2 1804.28 L271.7 1804.28 L272.2 1804.28 L272.7 1804.28 L273.2 1804.27 L273.7 1804.27 L274.2 1804.27 L274.7 1804.27 L275.2 1804.27 L275.7 1804.27 L276.2 1804.27 L276.7 1804.27 L277.2 1804.27 L277.7 1804.27 L278.2 1804.27 L278.7 1804.27 L279.2 1804.27 L279.7 1804.27 L280.2 1804.27 L280.7 1804.27 L281.2 1804.27 L281.7 1804.27 L282.2 1804.27 L282.7 1804.27 L283.2 1804.27 L283.7 1804.27 L284.2 1804.27 L284.7 1804.27 L285.2 1804.27 L285.7 1804.27 L286.2 1804.27 L286.7 1804.27 L287.2 1804.27 L287.7 1804.27 L288.2 1804.27 L288.7 1804.27 L289.2 1804.27 L289.7 1804.27 L290.2 1804.27 L290.7 1804.27 L291.2 1804.27 L291.7 1804.27 L292.2 1804.27 L292.7 1804.27 L293.2 1804.27 L293.7 1804.27 L294.2 1804.27 L294.7 1804.27 L295.2 1804.27 L295.7 1804.27 L296.2 1804.27 L296.7 1804.27 L297.2 1804.27 L297.7 1804.27 L298.2 1804.27 L298.7 1804.27 L299.2 1804.27 L299.7 1804.27 L300.2 1804.27 L300.7 1804.27 L301.2 1804.26 L301.7 1804.26 L302.2 1804.26 L302.7 1804.26 L303.2 1804.26 L303.7 1804.26 L304.2 1804.26 L304.7 1804.26 L305.2 1804.26 L305.7 1804.26 L306.2 1804.26 L306.7 1804.26 L307.2 1804.26 L307.7 1804.26 L308.2 1804.26 L308.7 1804.26 L309.2 1804.26 L309.7 1804.26 L310.2 1804.26 L310.7 1804.26 L311.2 1804.26 L311.7 1804.26 L312.2 1804.26 L312.7 1804.26 L313.2 1804.26 L313.7 1804.26 L314.2 1804.26 L314.7 1804.26 L315.2 1804.26 L315.7 1804.26 L316.2 1804.26 L316.7 1804.26 L317.2 1804.26 L317.7 1804.26 L318.2 1804.26 L318.7 1804.26 L319.2 1804.26 L319.7 1804.26 L320.2 1804.26 L320.7 1804.26 L321.2 1804.26 L321.7 1804.26 L322.2 1804.26 L322.7 1804.26 L323.2 1804.26 L323.7 1804.26 L324.2 1804.26 L324.7 1804.26 L325.2 1804.25 L325.7 1804.25 L326.2 1804.25 L326.7 1804.25 L327.2 1804.25 L327.7 1804.25 L328.2 1804.25 L328.7 1804.25 L329.2 1804.25 L329.7 1804.25 L330.2 1804.25 L330.7 1804.25 L331.2 1804.25 L331.7 1804.25 L332.2 1804.25 L332.7 1804.25 L333.2 1804.25 L333.7 1804.25 L334.2 1804.25 L334.7 1804.25 L335.2 1804.25 L335.7 1804.25 L336.2 1804.25 L336.7 1804.25 L337.2 1804.25 L337.7 1804.25 L338.2 1804.25 L338.7 1804.25 L339.2 1804.25 L339.7 1804.25 L340.2 1804.25 L340.7 1804.25 L341.2 1804.25 L341.7 1804.25 L342.2 1804.25 L342.7 1804.25 L343.2 1804.25 L343.7 1804.25 L344.2 1804.25 L344.7 1804.25 L345.2 1804.25 L345.7 1804.25 L346.2 1804.24 L346.7 1804.24 L347.2 1804.24 L347.7 1804.24 L348.2 1804.24 L348.7 1804.24 L349.2 1804.24 L349.7 1804.24 L350.2 1804.24 L350.7 1804.24 L351.2 1804.24 L351.7 1804.24 L352.2 1804.24 L352.7 1804.24 L353.2 1804.24 L353.7 1804.24 L354.2 1804.24 L354.7 1804.24 L355.2 1804.24 L355.7 1804.24 L356.2 1804.24 L356.7 1804.24 L357.2 1804.24 L357.7 1804.24 L358.2 1804.24 L358.7 1804.24 L359.2 1804.24 L359.7 1804.24 L360.2 1804.24 L360.7 1804.24 L361.2 1804.24 L361.7 1804.24 L362.2 1804.24 L362.7 1804.24 L363.2 1804.24 L363.7 1804.24 L364.2 1804.24 L364.7 1804.23 L365.2 1804.23 L365.7 1804.23 L366.2 1804.23 L366.7 1804.23 L367.2 1804.23 L367.7 1804.23 L368.2 1804.23 L368.7 1804.23 L369.2 1804.23 L369.7 1804.23 L370.2 1804.23 L370.7 1804.23 L371.2 1804.23 L371.7 1804.23 L372.2 1804.23 L372.7 1804.23 L373.2 1804.23 L373.7 1804.23 L374.2 1804.23 L374.7 1804.23 L375.2 1804.23 L375.7 1804.23 L376.2 1804.23 L376.7 1804.23 L377.2 1804.23 L377.7 1804.23 L378.2 1804.23 L378.7 1804.23 L379.2 1804.23 L379.7 1804.23 L380.2 1804.23 L380.7 1804.23 L381.2 1804.23 L381.7 1804.23 L382.2 1804.22 L382.7 1804.22 L383.2 1804.22 L383.7 1804.22 L384.2 1804.22 L384.7 1804.22 L385.2 1804.22 L385.7 1804.22 L386.2 1804.22 L386.7 1804.22 L387.2 1804.22 L387.7 1804.22 L388.2 1804.22 L388.7 1804.22 L389.2 1804.22 L389.7 1804.22 L390.2 1804.22 L390.7 1804.22 L391.2 1804.22 L391.7 1804.22 L392.2 1804.22 L392.7 1804.22 L393.2 1804.22 L393.7 1804.22 L394.2 1804.22 L394.7 1804.22 L395.2 1804.22 L395.7 1804.22 L396.2 1804.22 L396.7 1804.22 L397.2 1804.22 L397.7 1804.22 L398.2 1804.21 L398.7 1804.21 L399.2 1804.21 L399.7 1804.21 L400.2 1804.21 L400.7 1804.21 L401.2 1804.21 L401.7 1804.21 L402.2 1804.21 L402.7 1804.21 L403.2 1804.21 L403.7 1804.21 L404.2 1804.21 L404.7 1804.21 L405.2 1804.21 L405.7 1804.21 L406.2 1804.21 L406.7 1804.21 L407.2 1804.21 L407.7 1804.21 L408.2 1804.21 L408.7 1804.21 L409.2 1804.21 L409.7 1804.21 L410.2 1804.21 L410.7 1804.21 L411.2 1804.21 L411.7 1804.21 L412.2 1804.21 L412.7 1804.21 L413.2 1804.2 L413.7 1804.2 L414.2 1804.2 L414.7 1804.2 L415.2 1804.2 L415.7 1804.2 L416.2 1804.2 L416.7 1804.2 L417.2 1804.2 L417.7 1804.2 L418.2 1804.2 L418.7 1804.2 L419.2 1804.2 L419.7 1804.2 L420.2 1804.2 L420.7 1804.2 L421.2 1804.2 L421.7 1804.2 L422.2 1804.2 L422.7 1804.2 L423.2 1804.2 L423.7 1804.2 L424.2 1804.2 L424.7 1804.2 L425.2 1804.2 L425.7 1804.19 L426.2 1804.19 L426.7 1804.19 L427.2 1804.19 L427.7 1804.19 L428.2 1804.19 L428.7 1804.19 L429.2 1804.19 L429.7 1804.19 L430.2 1804.19 L430.7 1804.19 L431.2 1804.19 L431.7 1804.19 L432.2 1804.19 L432.7 1804.18 L433.2 1804.18 L433.7 1804.18 L434.2 1804.18 L434.7 1804.18 L435.2 1804.18 L435.7 1804.18 L436.2 1804.18 L436.7 1804.18 L437.2 1804.18 L437.7 1804.18 L438.2 1804.17 L438.7 1804.17 L439.2 1804.17 L439.7 1804.17 L440.2 1804.17 L440.7 1804.17 L441.2 1804.17 L441.7 1804.17 L442.2 1804.17 L442.7 1804.16 L443.2 1804.16 L443.7 1804.16 L444.2 1804.16 L444.7 1804.16 L445.2 1804.16 L445.7 1804.16 L446.2 1804.15 L446.7 1804.15 L447.2 1804.15 L447.7 1804.15 L448.2 1804.15 L448.7 1804.15 L449.2 1804.15 L449.7 1804.14 L450.2 1804.14 L450.7 1804.14 L451.2 1804.14 L451.7 1804.14 L452.2 1804.14 L452.7 1804.14 L453.2 1804.13 L453.7 1804.13 L454.2 1804.13 L454.7 1804.13 L455.2 1804.13 L455.7 1804.13 L456.2 1804.12 L456.7 1804.12 L457.2 1804.12 L457.7 1804.12 L458.2 1804.12 L458.7 1804.11 L459.2 1804.11 L459.7 1804.11 L460.2 1804.11 L460.7 1804.11 L461.2 1804.1 L461.7 1804.1 L462.2 1804.1 L462.7 1804.1 L463.2 1804.1 L463.7 1804.09 L464.2 1804.09 L464.7 1804.09 L465.2 1804.09 L465.7 1804.09 L466.2 1804.08 L466.7 1804.08 L467.2 1804.08 L467.7 1804.08 L468.2 1804.07 L468.7 1804.07 L469.2 1804.07 L469.7 1804.07 L470.2 1804.06 L470.7 1804.06 L471.2 1804.06 L471.7 1804.06 L472.2 1804.05 L472.7 1804.05 L473.2 1804.05 L473.7 1804.05 L474.2 1804.04 L474.7 1804.04 L475.2 1804.04 L475.7 1804.04 L476.2 1804.03 L476.7 1804.03 L477.2 1804.03 L477.7 1804.03 L478.2 1804.02 L478.7 1804.02 L479.2 1804.02 L479.7 1804.02 L480.2 1804.01 L480.7 1804.01 L481.2 1804.01 L481.7 1804 L482.2 1804 L482.7 1804 L483.2 1803.99 L483.7 1803.99 L484.2 1803.99 L484.7 1803.99 L485.2 1803.98 L485.7 1803.98 L486.2 1803.98 L486.7 1803.97 L487.2 1803.97 L487.7 1803.97 L488.2 1803.96 L488.7 1803.96 L489.2 1803.96 L489.7 1803.95 L490.2 1803.95 L490.7 1803.95 L491.2 1803.94 L491.7 1803.94 L492.2 1803.94 L492.7 1803.93 L493.2 1803.93 L493.7 1803.93 L494.2 1803.92 L494.7 1803.92 L495.2 1803.92 L495.7 1803.91 L496.2 1803.91 L496.7 1803.91 L497.2 1803.9 L497.7 1803.9 L498.2 1803.89 L498.7 1803.89 L499.2 1803.88 L499.7 1803.88 L500.2 1803.87 L500.7 1803.87 L501.2 1803.86 L501.7 1803.85 L502.2 1803.84 L502.7 1803.84 L503.2 1803.83 L503.7 1803.82 L504.2 1803.81 L504.7 1803.8 L505.2 1803.79 L505.7 1803.78 L506.2 1803.77 L506.7 1803.76 L507.2 1803.75 L507.7 1803.74 L508.2 1803.73 L508.7 1803.72 L509.2 1803.71 L509.7 1803.7 L510.2 1803.69 L510.7 1803.68 L511.2 1803.67 L511.7 1803.66 L512.2 1803.65 L512.7 1803.64 L513.2 1803.63 L513.7 1803.62 L514.2 1803.61 L514.7 1803.6 L515.2 1803.59 L515.7 1803.59 L516.2 1803.58 L516.7 1803.57 L517.2 1803.56 L517.7 1803.56 L518.2 1803.55 L518.7 1803.54 L519.2 1803.54 L519.7 1803.53 L520.2 1803.52 L520.7 1803.51 L521.2 1803.51 L521.7 1803.5 L522.2 1803.49 L522.7 1803.48 L523.2 1803.48 L523.7 1803.47 L524.2 1803.46 L524.7 1803.45 L525.2 1803.44 L525.7 1803.43 L526.2 1803.42 L526.7 1803.4 L527.2 1803.39 L527.7 1803.38 L528.2 1803.36 L528.7 1803.35 L529.2 1803.33 L529.7 1803.32 L530.2 1803.3 L530.7 1803.28 L531.2 1803.26 L531.7 1803.24 L532.2 1803.21 L532.7 1803.19 L533.2 1803.17 L533.7 1803.14 L534.2 1803.12 L534.7 1803.09 L535.2 1803.06 L535.7 1803.03 L536.2 1803 L536.7 1802.97 L537.2 1802.94 L537.7 1802.91 L538.2 1802.88 L538.7 1802.84 L539.2 1802.81 L539.7 1802.77 L540.2 1802.74 L540.7 1802.7 L541.2 1802.66 L541.7 1802.62 L542.2 1802.58 L542.7 1802.54 L543.2 1802.5 L543.7 1802.45 L544.2 1802.41 L544.7 1802.36 L545.2 1802.31 L545.7 1802.25 L546.2 1802.19 L546.7 1802.13 L547.2 1802.06 L547.7 1801.98 L548.2 1801.9 L548.7 1801.82 L549.2 1801.74 L549.7 1801.65 L550.2 1801.56 L550.7 1801.46 L551.2 1801.37 L551.7 1801.27 L552.2 1801.16 L552.7 1801.06 L553.2 1800.96 L553.7 1800.85 L554.2 1800.74 L554.7 1800.63 L555.2 1800.53 L555.7 1800.42 L556.2 1800.31 L556.7 1800.2 L557.2 1800.09 L557.7 1799.98 L558.2 1799.87 L558.7 1799.75 L559.2 1799.63 L559.7 1799.51 L560.2 1799.38 L560.7 1799.25 L561.2 1799.12 L561.7 1798.99 L562.2 1798.85 L562.7 1798.71 L563.2 1798.57 L563.7 1798.43 L564.2 1798.28 L564.7 1798.14 L565.2 1797.99 L565.7 1797.84 L566.2 1797.69 L566.7 1797.54 L567.2 1797.39 L567.7 1797.24 L568.2 1797.09 L568.7 1796.94 L569.2 1796.79 L569.7 1796.64 L570.2 1796.5 L570.7 1796.35 L571.2 1796.2 L571.7 1796.06 L572.2 1795.92 L572.7 1795.78 L573.2 1795.64 L573.7 1795.5 L574.2 1795.37 L574.7 1795.23 L575.2 1795.11 L575.7 1794.98 L576.2 1794.85 L576.7 1794.73 L577.2 1794.61 L577.7 1794.49 L578.2 1794.37 L578.7 1794.25 L579.2 1794.13 L579.7 1794.01 L580.2 1793.88 L580.7 1793.76 L581.2 1793.64 L581.7 1793.51 L582.2 1793.38 L582.7 1793.25 L583.2 1793.12 L583.7 1792.99 L584.2 1792.85 L584.7 1792.71 L585.2 1792.56 L585.7 1792.41 L586.2 1792.26 L586.7 1792.1 L587.2 1791.93 L587.7 1791.76 L588.2 1791.59 L588.7 1791.41 L589.2 1791.23 L589.7 1791.04 L590.2 1790.85 L590.7 1790.65 L591.2 1790.45 L591.7 1790.25 L592.2 1790.04 L592.7 1789.83 L593.2 1789.61 L593.7 1789.39 L594.2 1789.17 L594.7 1788.94 L595.2 1788.71 L595.7 1788.48 L596.2 1788.25 L596.7 1788.01 L597.2 1787.77 L597.7 1787.52 L598.2 1787.28 L598.7 1787.03 L599.2 1786.78 L599.7 1786.52 L600.2 1786.27 L600.7 1786.01 L601.2 1785.75 L601.7 1785.49 L602.2 1785.22 L602.7 1784.96 L603.2 1784.69 L603.7 1784.42 L604.2 1784.14 L604.7 1783.85 L605.2 1783.55 L605.7 1783.25 L606.2 1782.95 L606.7 1782.63 L607.2 1782.32 L607.7 1782 L608.2 1781.67 L608.7 1781.34 L609.2 1781.01 L609.7 1780.68 L610.2 1780.35 L610.7 1780.01 L611.2 1779.67 L611.7 1779.34 L612.2 1779 L612.7 1778.67 L613.2 1778.33 L613.7 1778 L614.2 1777.67 L614.7 1777.34 L615.2 1777.01 L615.7 1776.68 L616.2 1776.36 L616.7 1776.03 L617.2 1775.7 L617.7 1775.37 L618.2 1775.04 L618.7 1774.71 L619.2 1774.38 L619.7 1774.05 L620.2 1773.71 L620.7 1773.37 L621.2 1773.03 L621.7 1772.69 L622.2 1772.34 L622.7 1771.99 L623.2 1771.64 L623.7 1771.28 L624.2 1770.91 L624.7 1770.55 L625.2 1770.17 L625.7 1769.79 L626.2 1769.41 L626.7 1769.02 L627.2 1768.62 L627.7 1768.22 L628.2 1767.8 L628.7 1767.38 L629.2 1766.95 L629.7 1766.52 L630.2 1766.08 L630.7 1765.63 L631.2 1765.18 L631.7 1764.72 L632.2 1764.25 L632.7 1763.79 L633.2 1763.31 L633.7 1762.83 L634.2 1762.35 L634.7 1761.87 L635.2 1761.38 L635.7 1760.89 L636.2 1760.39 L636.7 1759.9 L637.2 1759.4 L637.7 1758.9 L638.2 1758.4 L638.7 1757.9 L639.2 1757.4 L639.7 1756.9 L640.2 1756.39 L640.7 1755.88 L641.2 1755.36 L641.7 1754.85 L642.2 1754.33 L642.7 1753.8 L643.2 1753.28 L643.7 1752.75 L644.2 1752.22 L644.7 1751.68 L645.2 1751.15 L645.7 1750.61 L646.2 1750.06 L646.7 1749.52 L647.2 1748.97 L647.7 1748.42 L648.2 1747.87 L648.7 1747.31 L649.2 1746.76 L649.7 1746.2 L650.2 1745.64 L650.7 1745.07 L651.2 1744.51 L651.7 1743.94 L652.2 1743.37 L652.7 1742.8 L653.2 1742.23 L653.7 1741.66 L654.2 1741.08 L654.7 1740.51 L655.2 1739.93 L655.7 1739.35 L656.2 1738.77 L656.7 1738.19 L657.2 1737.6 L657.7 1737.02 L658.2 1736.44 L658.7 1735.85 L659.2 1735.26 L659.7 1734.67 L660.2 1734.08 L660.7 1733.48 L661.2 1732.88 L661.7 1732.28 L662.2 1731.67 L662.7 1731.06 L663.2 1730.44 L663.7 1729.82 L664.2 1729.19 L664.7 1728.55 L665.2 1727.91 L665.7 1727.26 L666.2 1726.61 L666.7 1725.94 L667.2 1725.27 L667.7 1724.59 L668.2 1723.89 L668.7 1723.18 L669.2 1722.45 L669.7 1721.71 L670.2 1720.96 L670.7 1720.21 L671.2 1719.44 L671.7 1718.68 L672.2 1717.91 L672.7 1717.14 L673.2 1716.37 L673.7 1715.61 L674.2 1714.85 L674.7 1714.09 L675.2 1713.33 L675.7 1712.56 L676.2 1711.79 L676.7 1711.02 L677.2 1710.25 L677.7 1709.47 L678.2 1708.7 L678.7 1707.92 L679.2 1707.14 L679.7 1706.37 L680.2 1705.59 L680.7 1704.82 L681.2 1704.04 L681.7 1703.27 L682.2 1702.5 L682.7 1701.73 L683.2 1700.97 L683.7 1700.21 L684.2 1699.45 L684.7 1698.7 L685.2 1697.95 L685.7 1697.21 L686.2 1696.48 L686.7 1695.74 L687.2 1695.01 L687.7 1694.28 L688.2 1693.54 L688.7 1692.8 L689.2 1692.05 L689.7 1691.29 L690.2 1690.53 L690.7 1689.76 L691.2 1688.97 L691.7 1688.19 L692.2 1687.4 L692.7 1686.61 L693.2 1685.82 L693.7 1685.02 L694.2 1684.22 L694.7 1683.42 L695.2 1682.6 L695.7 1681.78 L696.2 1680.96 L696.7 1680.12 L697.2 1679.28 L697.7 1678.43 L698.2 1677.57 L698.7 1676.7 L699.2 1675.82 L699.7 1674.92 L700.2 1674.02 L700.7 1673.08 L701.2 1672.1 L701.7 1671.1 L702.2 1670.08 L702.7 1669.05 L703.2 1668.02 L703.7 1667 L704.2 1665.99 L704.7 1665 L705.2 1664.05 L705.7 1663.14 L706.2 1662.26 L706.7 1661.4 L707.2 1660.56 L707.7 1659.74 L708.2 1658.93 L708.7 1658.14 L709.2 1657.35 L709.7 1656.57 L710.2 1655.79 L710.7 1655.01 L711.2 1654.23 L711.7 1653.44 L712.2 1652.64 L712.7 1651.83 L713.2 1651 L713.7 1650.15 L714.2 1649.28 L714.7 1648.38 L715.2 1647.45 L715.7 1646.48 L716.2 1645.46 L716.7 1644.43 L717.2 1643.38 L717.7 1642.32 L718.2 1641.27 L718.7 1640.23 L719.2 1639.22 L719.7 1638.25 L720.2 1637.32 L720.7 1636.42 L721.2 1635.56 L721.7 1634.71 L722.2 1633.89 L722.7 1633.08 L723.2 1632.29 L723.7 1631.5 L724.2 1630.73 L724.7 1629.95 L725.2 1629.18 L725.7 1628.41 L726.2 1627.63 L726.7 1626.84 L727.2 1626.03 L727.7 1625.22 L728.2 1624.38 L728.7 1623.52 L729.2 1622.64 L729.7 1621.73 L730.2 1620.78 L730.7 1619.78 L731.2 1618.76 L731.7 1617.72 L732.2 1616.67 L732.7 1615.62 L733.2 1614.57 L733.7 1613.55 L734.2 1612.55 L734.7 1611.59 L735.2 1610.66 L735.7 1609.76 L736.2 1608.88 L736.7 1608.02 L737.2 1607.18 L737.7 1606.34 L738.2 1605.52 L738.7 1604.7 L739.2 1603.89 L739.7 1603.08 L740.2 1602.26 L740.7 1601.45 L741.2 1600.62 L741.7 1599.79 L742.2 1598.95 L742.7 1598.09 L743.2 1597.21 L743.7 1596.32 L744.2 1595.4 L744.7 1594.45 L745.2 1593.46 L745.7 1592.45 L746.2 1591.42 L746.7 1590.38 L747.2 1589.34 L747.7 1588.3 L748.2 1587.27 L748.7 1586.26 L749.2 1585.27 L749.7 1584.32 L750.2 1583.39 L750.7 1582.48 L751.2 1581.58 L751.7 1580.69 L752.2 1579.82 L752.7 1578.95 L753.2 1578.08 L753.7 1577.23 L754.2 1576.37 L754.7 1575.52 L755.2 1574.66 L755.7 1573.8 L756.2 1572.94 L756.7 1572.07 L757.2 1571.19 L757.7 1570.3 L758.2 1569.4 L758.7 1568.48 L759.2 1567.55 L759.7 1566.61 L760.2 1565.67 L760.7 1564.71 L761.2 1563.76 L761.7 1562.8 L762.2 1561.86 L762.7 1560.92 L763.2 1559.99 L763.7 1559.07 L764.2 1558.18 L764.7 1557.3 L765.2 1556.44 L765.7 1555.59 L766.2 1554.75 L766.7 1553.93 L767.2 1553.11 L767.7 1552.29 L768.2 1551.48 L768.7 1550.68 L769.2 1549.87 L769.7 1549.06 L770.2 1548.25 L770.7 1547.43 L771.2 1546.6 L771.7 1545.76 L772.2 1544.91 L772.7 1544.05 L773.2 1543.17 L773.7 1542.28 L774.2 1541.37 L774.7 1540.45 L775.2 1539.52 L775.7 1538.59 L776.2 1537.65 L776.7 1536.71 L777.2 1535.78 L777.7 1534.85 L778.2 1533.93 L778.7 1533.02 L779.2 1532.12 L779.7 1531.23 L780.2 1530.35 L780.7 1529.47 L781.2 1528.59 L781.7 1527.72 L782.2 1526.85 L782.7 1525.98 L783.2 1525.11 L783.7 1524.24 L784.2 1523.36 L784.7 1522.47 L785.2 1521.58 L785.7 1520.68 L786.2 1519.76 L786.7 1518.84 L787.2 1517.9 L787.7 1516.93 L788.2 1515.94 L788.7 1514.91 L789.2 1513.87 L789.7 1512.82 L790.2 1511.77 L790.7 1510.73 L791.2 1509.71 L791.7 1508.72 L792.2 1507.76 L792.7 1506.85 L793.2 1505.99 L793.7 1505.16 L794.2 1504.36 L794.7 1503.58 L795.2 1502.83 L795.7 1502.09 L796.2 1501.37 L796.7 1500.66 L797.2 1499.96 L797.7 1499.27 L798.2 1498.58 L798.7 1497.88 L799.2 1497.18 L799.7 1496.47 L800.2 1495.76 L800.7 1495.02 L801.2 1494.27 L801.7 1493.49 L802.2 1492.69 L802.7 1491.86 L803.2 1490.99 L803.7 1490.08 L804.2 1489.15 L804.7 1488.19 L805.2 1487.23 L805.7 1486.26 L806.2 1485.3 L806.7 1484.36 L807.2 1483.43 L807.7 1482.55 L808.2 1481.7 L808.7 1480.89 L809.2 1480.1 L809.7 1479.34 L810.2 1478.6 L810.7 1477.87 L811.2 1477.16 L811.7 1476.45 L812.2 1475.76 L812.7 1475.07 L813.2 1474.39 L813.7 1473.71 L814.2 1473.03 L814.7 1472.34 L815.2 1471.65 L815.7 1470.94 L816.2 1470.23 L816.7 1469.5 L817.2 1468.76 L817.7 1468 L818.2 1467.21 L818.7 1466.4 L819.2 1465.55 L819.7 1464.65 L820.2 1463.72 L820.7 1462.77 L821.2 1461.79 L821.7 1460.82 L822.2 1459.85 L822.7 1458.89 L823.2 1457.96 L823.7 1457.07 L824.2 1456.22 L824.7 1455.43 L825.2 1454.65 L825.7 1453.89 L826.2 1453.15 L826.7 1452.42 L827.2 1451.71 L827.7 1451 L828.2 1450.31 L828.7 1449.63 L829.2 1448.96 L829.7 1448.29 L830.2 1447.64 L830.7 1446.98 L831.2 1446.34 L831.7 1445.69 L832.2 1445.05 L832.7 1444.42 L833.2 1443.78 L833.7 1443.14 L834.2 1442.5 L834.7 1441.86 L835.2 1441.21 L835.7 1440.57 L836.2 1439.94 L836.7 1439.31 L837.2 1438.68 L837.7 1438.06 L838.2 1437.44 L838.7 1436.82 L839.2 1436.21 L839.7 1435.6 L840.2 1434.99 L840.7 1434.39 L841.2 1433.78 L841.7 1433.18 L842.2 1432.58 L842.7 1431.98 L843.2 1431.38 L843.7 1430.79 L844.2 1430.21 L844.7 1429.63 L845.2 1429.05 L845.7 1428.47 L846.2 1427.9 L846.7 1427.33 L847.2 1426.76 L847.7 1426.19 L848.2 1425.63 L848.7 1425.06 L849.2 1424.49 L849.7 1423.92 L850.2 1423.35 L850.7 1422.78 L851.2 1422.2 L851.7 1421.63 L852.2 1421.04 L852.7 1420.46 L853.2 1419.87 L853.7 1419.27 L854.2 1418.67 L854.7 1418.07 L855.2 1417.45 L855.7 1416.82 L856.2 1416.17 L856.7 1415.5 L857.2 1414.83 L857.7 1414.16 L858.2 1413.48 L858.7 1412.8 L859.2 1412.14 L859.7 1411.49 L860.2 1410.85 L860.7 1410.24 L861.2 1409.65 L861.7 1409.09 L862.2 1408.55 L862.7 1408.02 L863.2 1407.5 L863.7 1406.98 L864.2 1406.48 L864.7 1405.98 L865.2 1405.49 L865.7 1405.01 L866.2 1404.54 L866.7 1404.07 L867.2 1403.6 L867.7 1403.15 L868.2 1402.69 L868.7 1402.25 L869.2 1401.8 L869.7 1401.36 L870.2 1400.92 L870.7 1400.49 L871.2 1400.06 L871.7 1399.63 L872.2 1399.2 L872.7 1398.77 L873.2 1398.34 L873.7 1397.92 L874.2 1397.49 L874.7 1397.06 L875.2 1396.63 L875.7 1396.2 L876.2 1395.78 L876.7 1395.35 L877.2 1394.94 L877.7 1394.52 L878.2 1394.11 L878.7 1393.7 L879.2 1393.29 L879.7 1392.88 L880.2 1392.48 L880.7 1392.08 L881.2 1391.68 L881.7 1391.28 L882.2 1390.89 L882.7 1390.5 L883.2 1390.11 L883.7 1389.72 L884.2 1389.33 L884.7 1388.95 L885.2 1388.56 L885.7 1388.18 L886.2 1387.79 L886.7 1387.41 L887.2 1387.03 L887.7 1386.65 L888.2 1386.26 L888.7 1385.89 L889.2 1385.51 L889.7 1385.13 L890.2 1384.76 L890.7 1384.38 L891.2 1384.01 L891.7 1383.64 L892.2 1383.27 L892.7 1382.91 L893.2 1382.54 L893.7 1382.18 L894.2 1381.82 L894.7 1381.47 L895.2 1381.12 L895.7 1380.76 L896.2 1380.42 L896.7 1380.07 L897.2 1379.73 L897.7 1379.4 L898.2 1379.06 L898.7 1378.73 L899.2 1378.4 L899.7 1378.08 L900.2 1377.76 L900.7 1377.44 L901.2 1377.13 L901.7 1376.82 L902.2 1376.51 L902.7 1376.2 L903.2 1375.9 L903.7 1375.6 L904.2 1375.3 L904.7 1375 L905.2 1374.71 L905.7 1374.42 L906.2 1374.13 L906.7 1373.85 L907.2 1373.57 L907.7 1373.29 L908.2 1373.01 L908.7 1372.73 L909.2 1372.46 L909.7 1372.18 L910.2 1371.91 L910.7 1371.63 L911.2 1371.35 L911.7 1371.08 L912.2 1370.8 L912.7 1370.53 L913.2 1370.25 L913.7 1369.98 L914.2 1369.71 L914.7 1369.44 L915.2 1369.17 L915.7 1368.91 L916.2 1368.64 L916.7 1368.38 L917.2 1368.12 L917.7 1367.86 L918.2 1367.61 L918.7 1367.36 L919.2 1367.11 L919.7 1366.87 L920.2 1366.62 L920.7 1366.39 L921.2 1366.15 L921.7 1365.92 L922.2 1365.7 L922.7 1365.48 L923.2 1365.26 L923.7 1365.05 L924.2 1364.85 L924.7 1364.65 L925.2 1364.45 L925.7 1364.26 L926.2 1364.08 L926.7 1363.89 L927.2 1363.71 L927.7 1363.52 L928.2 1363.34 L928.7 1363.16 L929.2 1362.99 L929.7 1362.81 L930.2 1362.64 L930.7 1362.48 L931.2 1362.31 L931.7 1362.15 L932.2 1361.99 L932.7 1361.84 L933.2 1361.69 L933.7 1361.54 L934.2 1361.4 L934.7 1361.27 L935.2 1361.13 L935.7 1361.01 L936.2 1360.89 L936.7 1360.77 L937.2 1360.66 L937.7 1360.56 L938.2 1360.46 L938.7 1360.36 L939.2 1360.26 L939.7 1360.16 L940.2 1360.06 L940.7 1359.97 L941.2 1359.87 L941.7 1359.77 L942.2 1359.68 L942.7 1359.59 L943.2 1359.51 L943.7 1359.42 L944.2 1359.35 L944.7 1359.28 L945.2 1359.21 L945.7 1359.16 L946.2 1359.11 L946.7 1359.07 L947.2 1359.04 L947.7 1359.01 L948.2 1359 L948.7 1359 L949.2 1359 L949.7 1359 L950.2 1359 L950.7 1359 L951.2 1359 L951.7 1359 L952.2 1359 L952.7 1359 L953.2 1359 L953.7 1359 L954.2 1359 L954.7 1359 L955.2 1359 L955.7 1359 L956.2 1359 L956.7 1359 L957.2 1359 L957.7 1359 L958.2 1359 L958.7 1359 L959.2 1359 L959.7 1359 L960.2 1359 L960.7 1359 L961.2 1359 L961.7 1359 L962.2 1359 L962.7 1359 L963.2 1359 L963.7 1359 L964.2 1359 L964.7 1359 L965.2 1359 L965.7 1359 L966.2 1359 L966.7 1359 L967.2 1359 L967.7 1359 L968.2 1359 L968.7 1359 L969.2 1359 L969.7 1359 L970.2 1359 L970.7 1359 L971.2 1359 L971.7 1359 L972.2 1359 L972.7 1359 L973.2 1359 L973.7 1359 L974.2 1359 L974.7 1359 L975.2 1359 L975.7 1359 L976.2 1359 L976.7 1359 L977.2 1359 L977.7 1359 L978.2 1359 L978.7 1359 L979.2 1359 L979.7 1359 L980.2 1359 L980.7 1359 L981.2 1359 L981.7 1359 L982.2 1359 L982.7 1359 L983.2 1359 L983.7 1359 L984.2 1359 L984.7 1359 L985.2 1359 L985.7 1359 L986.2 1359 L986.7 1359 L987.2 1359 L987.7 1359 L988.2 1359 L988.7 1359 L989.2 1359 L989.7 1359 L990.2 1359 L990.7 1359 L991.2 1359 L991.7 1359 L992.2 1359 L992.7 1359 L993.2 1359 L993.7 1359 L994.2 1359 L994.7 1359 L995.2 1359 L995.7 1359 L996.2 1359 L996.7 1359 L997.2 1359 L997.7 1359 L998.2 1359 L998.7 1359 L999.2 1359 L999.7 1359 L1000.2 1359 L1000.7 1359 L1001.2 1359 L1001.7 1359 L1002.2 1359 L1002.7 1359 L1003.2 1359 L1003.7 1359 L1004.2 1359 L1004.7 1359 L1005.2 1359 L1005.7 1359 L1006.2 1359 L1006.7 1359 L1007.2 1359 L1007.7 1359 L1008.2 1359 L1008.7 1359 L1009.2 1359 L1009.7 1359 L1010.2 1359 L1010.7 1359 L1011.2 1359 L1011.7 1359 L1012.2 1359 L1012.7 1359 L1013.2 1359 L1013.7 1359 L1014.2 1359 L1014.7 1359 L1015.2 1359 L1015.7 1359 L1016.2 1359 L1016.7 1359 L1017.2 1359 L1017.7 1359 L1018.2 1359 L1018.7 1359 L1019.2 1359 L1019.7 1359 L1020.2 1359 L1020.7 1359 L1021.2 1359 L1021.7 1359 L1022.2 1359 L1022.7 1359 L1023.2 1359 L1023.7 1359 L1024.2 1359 L1024.7 1359 L1025.2 1359 L1025.7 1359 L1026.2 1359 L1026.7 1359 L1027.2 1359 L1027.7 1359 L1028.2 1359 L1028.7 1359 L1029.2 1359 L1029.7 1359 L1030.2 1359 L1030.7 1359 L1031.2 1359 L1031.7 1359 L1032.2 1359 L1032.7 1359 L1033.2 1359 L1033.7 1359 L1034.2 1359 L1034.7 1359 L1035.2 1359 L1035.7 1359 L1036.2 1359 L1036.7 1359 L1037.2 1359 L1037.5 1359" fill="none" stroke="#ff0000" stroke-width="2.4" stroke-dasharray="17.97 11.98" stroke-dashoffset="-0.65"/>
<rect x="458.8" y="1804.9" width="8.4" height="0.6" fill="#ee1c25" stroke="#000" stroke-width="1.8"/>
<rect x="595.7" y="1800" width="8.4" height="5.5" fill="#ee1c25" stroke="#000" stroke-width="1.8"/>
<rect x="628.3" y="1735.1" width="8.4" height="70.4" fill="#ee1c25" stroke="#000" stroke-width="1.8"/>
<rect x="775.7" y="1797" width="8.4" height="8.5" fill="#ee1c25" stroke="#000" stroke-width="1.8"/>
<rect x="884.9" y="1470" width="8.4" height="335.5" fill="#ee1c25" stroke="#000" stroke-width="1.8"/>
<rect x="950.8" y="1407.9" width="8.4" height="397.6" fill="#ee1c25" stroke="#000" stroke-width="1.8"/>
<rect x="967.3" y="1372.4" width="8.4" height="433.1" fill="#ee1c25" stroke="#000" stroke-width="1.8"/>
<line x1="166" y1="1804.5" x2="191.8" y2="1804.5" stroke="#000" stroke-width="1.9" />
<line x1="166" y1="1804.5" x2="191.8" y2="1804.5" stroke="#000" stroke-width="1.9" />
<line x1="193.1" y1="1804.5" x2="218.9" y2="1804.5" stroke="#000" stroke-width="1.9" />
<line x1="193.1" y1="1804.5" x2="218.9" y2="1804.5" stroke="#000" stroke-width="1.9" />
<line x1="247.8" y1="1804.5" x2="273.6" y2="1804.5" stroke="#000" stroke-width="1.9" />
<line x1="247.8" y1="1804.5" x2="273.6" y2="1804.5" stroke="#000" stroke-width="1.9" />
<line x1="280.6" y1="1804.5" x2="306.4" y2="1804.5" stroke="#000" stroke-width="1.9" />
<line x1="280.6" y1="1804.5" x2="306.4" y2="1804.5" stroke="#000" stroke-width="1.9" />
<line x1="302.7" y1="1804.5" x2="328.5" y2="1804.5" stroke="#000" stroke-width="1.9" />
<line x1="302.7" y1="1804.5" x2="328.5" y2="1804.5" stroke="#000" stroke-width="1.9" />
<line x1="463" y1="1804" x2="463" y2="1805" stroke="#000" stroke-width="1.9" />
<line x1="450.1" y1="1804" x2="475.9" y2="1804" stroke="#000" stroke-width="1.9" />
<line x1="450.1" y1="1805" x2="475.9" y2="1805" stroke="#000" stroke-width="1.9" />
<line x1="599.9" y1="1798.2" x2="599.9" y2="1802.2" stroke="#000" stroke-width="1.9" />
<line x1="587" y1="1798.2" x2="612.8" y2="1798.2" stroke="#000" stroke-width="1.9" />
<line x1="587" y1="1802.2" x2="612.8" y2="1802.2" stroke="#000" stroke-width="1.9" />
<line x1="632.5" y1="1723.9" x2="632.5" y2="1746" stroke="#000" stroke-width="1.9" />
<line x1="619.6" y1="1723.9" x2="645.4" y2="1723.9" stroke="#000" stroke-width="1.9" />
<line x1="619.6" y1="1746" x2="645.4" y2="1746" stroke="#000" stroke-width="1.9" />
<line x1="779.9" y1="1793.1" x2="779.9" y2="1798.2" stroke="#000" stroke-width="1.9" />
<line x1="767" y1="1793.1" x2="792.8" y2="1793.1" stroke="#000" stroke-width="1.9" />
<line x1="767" y1="1798.2" x2="792.8" y2="1798.2" stroke="#000" stroke-width="1.9" />
<line x1="889.1" y1="1445.5" x2="889.1" y2="1495.3" stroke="#000" stroke-width="1.9" />
<line x1="876.2" y1="1445.5" x2="902" y2="1445.5" stroke="#000" stroke-width="1.9" />
<line x1="876.2" y1="1495.3" x2="902" y2="1495.3" stroke="#000" stroke-width="1.9" />
<line x1="955" y1="1385.9" x2="955" y2="1430.7" stroke="#000" stroke-width="1.9" />
<line x1="942.1" y1="1385.9" x2="967.9" y2="1385.9" stroke="#000" stroke-width="1.9" />
<line x1="942.1" y1="1430.7" x2="967.9" y2="1430.7" stroke="#000" stroke-width="1.9" />
<line x1="958.6" y1="1372.4" x2="984.4" y2="1372.4" stroke="#000" stroke-width="1.9" />
<line x1="958.6" y1="1372.4" x2="984.4" y2="1372.4" stroke="#000" stroke-width="1.9" />
<circle cx="462.6" cy="1804.3" r="12.7" fill="#fff" stroke="#ff0000" stroke-width="2.4"/>
<circle cx="599.5" cy="1705" r="12.7" fill="#fff" stroke="#ff0000" stroke-width="2.4"/>
<circle cx="632.8" cy="1680.7" r="12.7" fill="#fff" stroke="#ff0000" stroke-width="2.4"/>
<circle cx="780" cy="1601.2" r="12.7" fill="#fff" stroke="#ff0000" stroke-width="2.4"/>
<circle cx="889.2" cy="1416" r="12.7" fill="#fff" stroke="#ff0000" stroke-width="2.4"/>
<circle cx="954.6" cy="1370.2" r="12.7" fill="#fff" stroke="#ff0000" stroke-width="2.4"/>
<circle cx="971.6" cy="1358.9" r="12.7" fill="#fff" stroke="#ff0000" stroke-width="2.4"/>
<line x1="462.6" y1="1802.5" x2="462.6" y2="1804.5" stroke="#000" stroke-width="1.9" />
<line x1="449.7" y1="1802.5" x2="475.5" y2="1802.5" stroke="#000" stroke-width="1.9" />
<line x1="449.7" y1="1804.5" x2="475.5" y2="1804.5" stroke="#000" stroke-width="1.9" />
<line x1="599.5" y1="1693.1" x2="599.5" y2="1717" stroke="#000" stroke-width="1.9" />
<line x1="586.6" y1="1693.1" x2="612.4" y2="1693.1" stroke="#000" stroke-width="1.9" />
<line x1="586.6" y1="1717" x2="612.4" y2="1717" stroke="#000" stroke-width="1.9" />
<line x1="632.8" y1="1666.2" x2="632.8" y2="1696" stroke="#000" stroke-width="1.9" />
<line x1="619.9" y1="1666.2" x2="645.7" y2="1666.2" stroke="#000" stroke-width="1.9" />
<line x1="619.9" y1="1696" x2="645.7" y2="1696" stroke="#000" stroke-width="1.9" />
<line x1="780" y1="1598.7" x2="780" y2="1606.1" stroke="#000" stroke-width="1.9" />
<line x1="767.1" y1="1598.7" x2="792.9" y2="1598.7" stroke="#000" stroke-width="1.9" />
<line x1="767.1" y1="1606.1" x2="792.9" y2="1606.1" stroke="#000" stroke-width="1.9" />
<line x1="889.2" y1="1410.2" x2="889.2" y2="1426.8" stroke="#000" stroke-width="1.9" />
<line x1="876.3" y1="1410.2" x2="902.1" y2="1410.2" stroke="#000" stroke-width="1.9" />
<line x1="876.3" y1="1426.8" x2="902.1" y2="1426.8" stroke="#000" stroke-width="1.9" />
<line x1="954.6" y1="1366.1" x2="954.6" y2="1375.7" stroke="#000" stroke-width="1.9" />
<line x1="941.7" y1="1366.1" x2="967.5" y2="1366.1" stroke="#000" stroke-width="1.9" />
<line x1="941.7" y1="1375.7" x2="967.5" y2="1375.7" stroke="#000" stroke-width="1.9" />
<line x1="958.6" y1="1358.9" x2="984.6" y2="1358.9" stroke="#000" stroke-width="2.3" />
<line x1="453.4" y1="1779.4" x2="474" y2="1779.4" stroke="#222" stroke-width="2.0" />
<line x1="480.4" y1="1779.4" x2="501" y2="1779.4" stroke="#222" stroke-width="2.0" />
<line x1="507.8" y1="1779.4" x2="528.5" y2="1779.4" stroke="#222" stroke-width="2.0" />
<line x1="535.3" y1="1779.4" x2="555.9" y2="1779.4" stroke="#222" stroke-width="2.0" />
<line x1="562.8" y1="1779.4" x2="583.4" y2="1779.4" stroke="#222" stroke-width="2.0" />
<line x1="590.3" y1="1779.4" x2="611.8" y2="1779.4" stroke="#222" stroke-width="2.0" />
<line x1="446.9" y1="1780.3" x2="446.9" y2="1800.6" stroke="#222" stroke-width="2.0" />
<line x1="613.5" y1="1785" x2="613.5" y2="1805" stroke="#222" stroke-width="2.0" />
<line x1="519.7" y1="1779.4" x2="446.5" y2="1739.4" stroke="#1a1a1a" stroke-width="2.3" />
<rect x="450.3" y="1799.8" width="25.5" height="6.6" fill="#000"/>
<path d="M437.6 1735 L453 1736.6 L447.9 1740.3 L447.7 1747.4 Z" fill="#1a1a1a"/>
<line x1="107.6" y1="1313.9" x2="107.6" y2="1806.1" stroke="#000" stroke-width="1.35" />
<line x1="107" y1="1805.5" x2="1037.5" y2="1805.5" stroke="#000" stroke-width="1.35" />
<text x="95" y="1815" font-size="29" text-anchor="end" fill="#000"  transform="matrix(1 0 0 1.05 0 -90.75)">0</text>
<line x1="107.6" y1="1716.2" x2="118" y2="1716.2" stroke="#000" stroke-width="1.25" />
<text x="95" y="1725.7" font-size="29" text-anchor="end" fill="#000"  transform="matrix(1 0 0 1.05 0 -86.29)">0.2</text>
<line x1="107.6" y1="1626.9" x2="118" y2="1626.9" stroke="#000" stroke-width="1.25" />
<text x="95" y="1636.4" font-size="29" text-anchor="end" fill="#000"  transform="matrix(1 0 0 1.05 0 -81.82)">0.4</text>
<line x1="107.6" y1="1537.6" x2="118" y2="1537.6" stroke="#000" stroke-width="1.25" />
<text x="95" y="1547.1" font-size="29" text-anchor="end" fill="#000"  transform="matrix(1 0 0 1.05 0 -77.36)">0.6</text>
<line x1="107.6" y1="1448.3" x2="118" y2="1448.3" stroke="#000" stroke-width="1.25" />
<text x="95" y="1457.8" font-size="29" text-anchor="end" fill="#000"  transform="matrix(1 0 0 1.05 0 -72.89)">0.8</text>
<line x1="107.6" y1="1359" x2="118" y2="1359" stroke="#000" stroke-width="1.25" />
<text x="97.7" y="1368.5" font-size="29" text-anchor="end" fill="#000"  transform="matrix(1 0 0 1.05 0 -68.43)">1.0</text>
<text x="108.1" y="1838.3" font-size="29" text-anchor="middle" fill="#000"  transform="matrix(1 0 0 1.05 0 -91.92)">0.4</text>
<line x1="217.38" y1="1805.5" x2="217.38" y2="1796.5" stroke="#000" stroke-width="1.25" />
<text x="217.38" y="1838.3" font-size="29" text-anchor="middle" fill="#000"  transform="matrix(1 0 0 1.05 0 -91.92)">0.6</text>
<line x1="326.66" y1="1805.5" x2="326.66" y2="1796.5" stroke="#000" stroke-width="1.25" />
<text x="326.66" y="1838.3" font-size="29" text-anchor="middle" fill="#000"  transform="matrix(1 0 0 1.05 0 -91.92)">0.8</text>
<line x1="435.94" y1="1805.5" x2="435.94" y2="1796.5" stroke="#000" stroke-width="1.25" />
<text x="435.94" y="1838.3" font-size="29" text-anchor="middle" fill="#000"  transform="matrix(1 0 0 1.05 0 -91.92)">1.0</text>
<line x1="545.22" y1="1805.5" x2="545.22" y2="1796.5" stroke="#000" stroke-width="1.25" />
<text x="545.22" y="1838.3" font-size="29" text-anchor="middle" fill="#000"  transform="matrix(1 0 0 1.05 0 -91.92)">1.2</text>
<line x1="654.5" y1="1805.5" x2="654.5" y2="1796.5" stroke="#000" stroke-width="1.25" />
<text x="654.5" y="1838.3" font-size="29" text-anchor="middle" fill="#000"  transform="matrix(1 0 0 1.05 0 -91.92)">1.4</text>
<line x1="763.78" y1="1805.5" x2="763.78" y2="1796.5" stroke="#000" stroke-width="1.25" />
<text x="763.78" y="1838.3" font-size="29" text-anchor="middle" fill="#000"  transform="matrix(1 0 0 1.05 0 -91.92)">1.6</text>
<line x1="873.06" y1="1805.5" x2="873.06" y2="1796.5" stroke="#000" stroke-width="1.25" />
<text x="873.06" y="1838.3" font-size="29" text-anchor="middle" fill="#000"  transform="matrix(1 0 0 1.05 0 -91.92)">1.8</text>
<line x1="982.34" y1="1805.5" x2="982.34" y2="1796.5" stroke="#000" stroke-width="1.25" />
<text x="982.34" y="1838.3" font-size="29" text-anchor="middle" fill="#000"  transform="matrix(1 0 0 1.05 0 -91.92)">2.0</text>
<text x="510" y="1879.2" font-size="28" text-anchor="start" fill="#000" >−Δ<tspan font-style="italic">G</tspan></text>
<circle cx="571.1" cy="1859.9" r="3.4" fill="none" stroke="#000" stroke-width="1.6"/>
<text x="584.7" y="1879.2" font-size="26.3" text-anchor="start" fill="#000" >(eV)</text>
<text transform="translate(33,1560) rotate(-90)" font-size="29" text-anchor="middle" fill="#000">NIR emission/RM<tspan dy="-12" font-size="21">ox</tspan><tspan dy="12"> (normalized)</tspan></text>
<path d="M184.6 1748.73 L185.1 1748.72 L185.6 1748.7 L186.1 1748.69 L186.6 1748.67 L187.1 1748.65 L187.6 1748.64 L188.1 1748.62 L188.6 1748.6 L189.1 1748.58 L189.6 1748.57 L190.1 1748.55 L190.6 1748.53 L191.1 1748.51 L191.6 1748.49 L192.1 1748.47 L192.6 1748.45 L193.1 1748.43 L193.6 1748.41 L194.1 1748.39 L194.6 1748.37 L195.1 1748.35 L195.6 1748.32 L196.1 1748.3 L196.6 1748.28 L197.1 1748.25 L197.6 1748.23 L198.1 1748.21 L198.6 1748.18 L199.1 1748.15 L199.6 1748.13 L200.1 1748.1 L200.6 1748.08 L201.1 1748.05 L201.6 1748.02 L202.1 1747.99 L202.6 1747.96 L203.1 1747.93 L203.6 1747.9 L204.1 1747.87 L204.6 1747.84 L205.1 1747.81 L205.6 1747.78 L206.1 1747.75 L206.6 1747.71 L207.1 1747.68 L207.6 1747.64 L208.1 1747.61 L208.6 1747.57 L209.1 1747.54 L209.6 1747.5 L210.1 1747.46 L210.6 1747.42 L211.1 1747.38 L211.6 1747.35 L212.1 1747.3 L212.6 1747.26 L213.1 1747.22 L213.6 1747.18 L214.1 1747.14 L214.6 1747.09 L215.1 1747.05 L215.6 1747 L216.1 1746.95 L216.6 1746.91 L217.1 1746.86 L217.6 1746.81 L218.1 1746.76 L218.6 1746.71 L219.1 1746.66 L219.6 1746.6 L220.1 1746.55 L220.6 1746.5 L221.1 1746.44 L221.6 1746.38 L222.1 1746.33 L222.6 1746.27 L223.1 1746.21 L223.6 1746.15 L224.1 1746.09 L224.6 1746.02 L225.1 1745.96 L225.6 1745.9 L226.1 1745.83 L226.6 1745.76 L227.1 1745.69 L227.6 1745.63 L228.1 1745.55 L228.6 1745.48 L229.1 1745.41 L229.6 1745.34 L230.1 1745.26 L230.6 1745.18 L231.1 1745.11 L231.6 1745.03 L232.1 1744.94 L232.6 1744.86 L233.1 1744.78 L233.6 1744.69 L234.1 1744.61 L234.6 1744.52 L235.1 1744.43 L235.6 1744.34 L236.1 1744.25 L236.6 1744.15 L237.1 1744.06 L237.6 1743.96 L238.1 1743.86 L238.6 1743.76 L239.1 1743.66 L239.6 1743.55 L240.1 1743.45 L240.6 1743.34 L241.1 1743.23 L241.6 1743.12 L242.1 1743.01 L242.6 1742.89 L243.1 1742.78 L243.6 1742.66 L244.1 1742.54 L244.6 1742.42 L245.1 1742.29 L245.6 1742.16 L246.1 1742.04 L246.6 1741.91 L247.1 1741.77 L247.6 1741.64 L248.1 1741.5 L248.6 1741.36 L249.1 1741.22 L249.6 1741.07 L250.1 1740.93 L250.6 1740.78 L251.1 1740.63 L251.6 1740.47 L252.1 1740.32 L252.6 1740.16 L253.1 1740 L253.6 1739.83 L254.1 1739.66 L254.6 1739.5 L255.1 1739.32 L255.6 1739.15 L256.1 1738.97 L256.6 1738.79 L257.1 1738.61 L257.6 1738.42 L258.1 1738.23 L258.6 1738.04 L259.1 1737.84 L259.6 1737.64 L260.1 1737.44 L260.6 1737.24 L261.1 1737.03 L261.6 1736.82 L262.1 1736.6 L262.6 1736.38 L263.1 1736.16 L263.6 1735.93 L264.1 1735.7 L264.6 1735.47 L265.1 1735.24 L265.6 1735 L266.1 1734.75 L266.6 1734.5 L267.1 1734.25 L267.6 1734 L268.1 1733.74 L268.6 1733.47 L269.1 1733.21 L269.6 1732.93 L270.1 1732.66 L270.6 1732.38 L271.1 1732.09 L271.6 1731.8 L272.1 1731.51 L272.6 1731.21 L273.1 1730.91 L273.6 1730.6 L274.1 1730.29 L274.6 1729.97 L275.1 1729.65 L275.6 1729.32 L276.1 1728.99 L276.6 1728.65 L277.1 1728.31 L277.6 1727.96 L278.1 1727.61 L278.6 1727.25 L279.1 1726.89 L279.6 1726.52 L280.1 1726.15 L280.6 1725.76 L281.1 1725.38 L281.6 1724.99 L282.1 1724.59 L282.6 1724.18 L283.1 1723.77 L283.6 1723.36 L284.1 1722.94 L284.6 1722.51 L285.1 1722.07 L285.6 1721.63 L286.1 1721.18 L286.6 1720.73 L287.1 1720.27 L287.6 1719.8 L288.1 1719.32 L288.6 1718.84 L289.1 1718.35 L289.6 1717.85 L290.1 1717.35 L290.6 1716.83 L291.1 1716.32 L291.6 1715.79 L292.1 1715.25 L292.6 1714.71 L293.1 1714.16 L293.6 1713.6 L294.1 1713.03 L294.6 1712.46 L295.1 1711.87 L295.6 1711.28 L296.1 1710.68 L296.6 1710.07 L297.1 1709.45 L297.6 1708.83 L298.1 1708.19 L298.6 1707.54 L299.1 1706.89 L299.6 1706.22 L300.1 1705.55 L300.6 1704.87 L301.1 1704.17 L301.6 1703.47 L302.1 1702.76 L302.6 1702.03 L303.1 1701.3 L303.6 1700.55 L304.1 1699.8 L304.6 1699.03 L305.1 1698.25 L305.6 1697.47 L306.1 1696.67 L306.6 1695.86 L307.1 1695.04 L307.6 1694.2 L308.1 1693.36 L308.6 1692.5 L309.1 1691.63 L309.6 1690.75 L310.1 1689.86 L310.6 1688.95 L311.1 1688.03 L311.6 1687.1 L312.1 1686.15 L312.6 1685.2 L313.1 1684.22 L313.6 1683.24 L314.1 1682.24 L314.6 1681.23 L315.1 1680.2 L315.6 1679.16 L316.1 1678.11 L316.6 1677.04 L317.1 1675.96 L317.6 1674.86 L318.1 1673.74 L318.6 1672.61 L319.1 1671.47 L319.6 1670.31 L320.1 1669.13 L320.6 1667.94 L321.1 1666.73 L321.6 1665.51 L322.1 1664.27 L322.6 1663.01 L323.1 1661.74 L323.6 1660.44 L324.1 1659.14 L324.6 1657.81 L325.1 1656.46 L325.6 1655.1 L326.1 1653.72 L326.6 1652.32 L327.1 1650.9 L327.6 1649.47 L328.1 1648.01 L328.6 1646.53 L329.1 1645.04 L329.6 1643.52 L330.1 1641.99 L330.6 1640.43 L331.1 1638.86 L331.6 1637.26 L332.1 1635.64 L332.6 1634.01 L333.1 1632.35 L333.6 1630.66 L334.1 1628.96 L334.6 1627.23 L335.1 1625.49 L335.6 1623.71 L336.1 1621.92 L336.6 1620.1 L337.1 1618.26 L337.6 1616.4 L338.1 1614.51 L338.6 1612.59 L339.1 1610.66 L339.6 1608.69 L340.1 1606.7 L340.6 1604.69 L341.1 1602.65 L341.6 1600.59 L342.1 1598.49 L342.6 1596.38 L343.1 1594.23 L343.6 1592.06 L344.1 1589.86 L344.6 1587.63 L345.1 1585.37" fill="none" stroke="#ff0000" stroke-width="2.4" stroke-dasharray="17.96 11.98" stroke-dashoffset="1.5"/>
<rect x="206.1" y="1676.9" width="9.6" height="73.3" fill="#ff0000" stroke="#000" stroke-width="1.8"/>
<rect x="376.6" y="1649" width="9.2" height="101.2" fill="#ff0000" stroke="#000" stroke-width="1.8"/>
<line x1="210.9" y1="1664.8" x2="210.9" y2="1689.5" stroke="#000" stroke-width="1.9" />
<line x1="198.3" y1="1664.8" x2="223.5" y2="1664.8" stroke="#000" stroke-width="1.9" />
<line x1="198.3" y1="1689.5" x2="223.5" y2="1689.5" stroke="#000" stroke-width="1.9" />
<line x1="381.2" y1="1619" x2="381.2" y2="1679.9" stroke="#000" stroke-width="1.9" />
<line x1="368.25" y1="1619" x2="394.15" y2="1619" stroke="#000" stroke-width="1.9" />
<line x1="368.25" y1="1679.9" x2="394.15" y2="1679.9" stroke="#000" stroke-width="1.9" />
<circle cx="210.9" cy="1739.9" r="12.3" fill="#fff" stroke="#ff0000" stroke-width="2.4"/>
<line x1="197.9" y1="1739.9" x2="223.9" y2="1739.9" stroke="#000" stroke-width="2.3" />
<line x1="183.9" y1="1587.6" x2="183.9" y2="1750.8" stroke="#000" stroke-width="1.35" />
<line x1="183.3" y1="1750.2" x2="408.5" y2="1750.2" stroke="#000" stroke-width="1.35" />
<line x1="183.9" y1="1587.6" x2="188.7" y2="1587.6" stroke="#000" stroke-width="1.5" />
<line x1="183.9" y1="1668.9" x2="188.7" y2="1668.9" stroke="#000" stroke-width="1.5" />
<line x1="251.7" y1="1750.2" x2="251.7" y2="1745.6" stroke="#000" stroke-width="1.5" />
<line x1="382.4" y1="1750.2" x2="382.4" y2="1745.6" stroke="#000" stroke-width="1.5" />
<text x="175" y="1600.6" font-size="25.3" text-anchor="end" fill="#000" >0.02</text>
<text x="175" y="1676.8" font-size="25.3" text-anchor="end" fill="#000" >0.01</text>
<text x="251" y="1780.8" font-size="25.3" text-anchor="middle" fill="#000" >3.6</text>
<text x="382.4" y="1780.8" font-size="25.3" text-anchor="middle" fill="#000" >3.8</text>
<line x1="124.4" y1="1337.5" x2="154.3" y2="1337.5" stroke="#ff0000" stroke-width="2.2" />
<line x1="166.2" y1="1337.5" x2="195.8" y2="1337.5" stroke="#ff0000" stroke-width="2.2" />
<circle cx="158" cy="1380.6" r="12.5" fill="none" stroke="#ff0000" stroke-width="2.3"/>
<text x="213" y="1346" font-size="29.4" text-anchor="start" fill="#1c1616"  transform="matrix(1 0 0 1.07 0 -94.22)">Simulated <tspan fill="#3b1b3f">NIR</tspan> with <tspan font-style="italic">k</tspan><tspan dy="8" font-size="20">Q</tspan><tspan dy="-8"> trend</tspan></text>
<text x="213" y="1390" font-size="29.4" text-anchor="start" fill="#1c1616"  transform="matrix(1 0 0 1.07 0 -97.3)">Simulated <tspan fill="#3b1b3f">NIR</tspan> with individual <tspan font-style="italic">k</tspan><tspan dy="8" font-size="20">Q</tspan></text>
<text x="0.2" y="1319.3" font-size="31.5" text-anchor="start" fill="#000" font-weight="bold" stroke="#000" stroke-width="1.4" stroke-linejoin="round">c</text>
</svg>
</body></html>
